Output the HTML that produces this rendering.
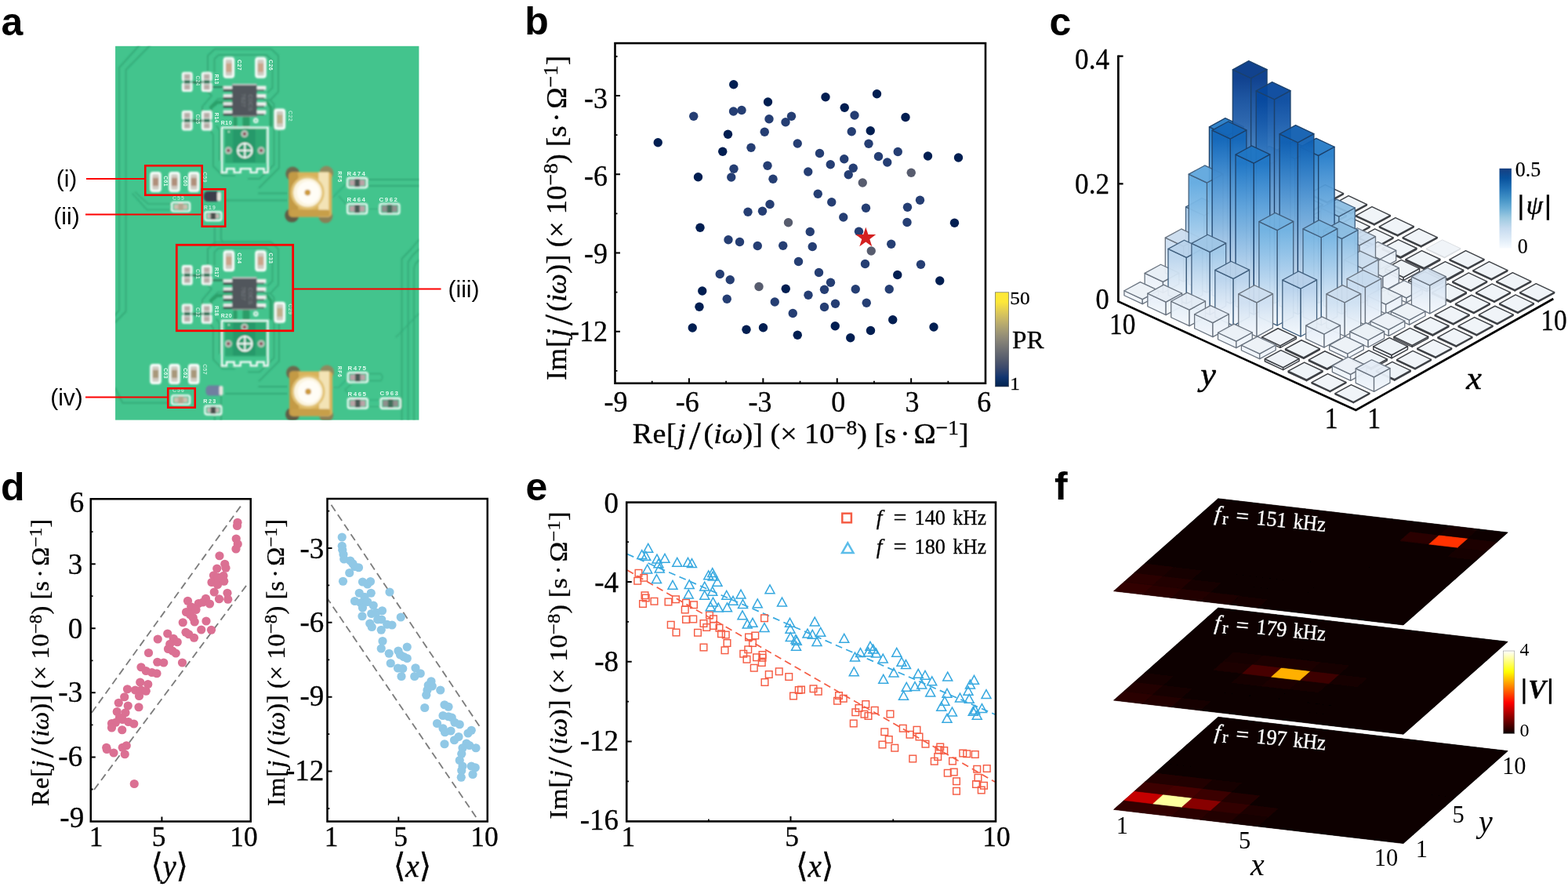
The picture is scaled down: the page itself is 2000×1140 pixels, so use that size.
<!DOCTYPE html>
<html lang="en"><head><meta charset="utf-8"><title>Figure</title><style>html,body{margin:0;padding:0;background:#fff}body{width:2000px;height:1140px;overflow:hidden}svg{display:block}</style></head><body>
<svg width="2000" height="1140" viewBox="0 0 2000 1140">
<rect width="2000" height="1140" fill="#fff"/>
<g id="panel-a">
<text x="1.5" y="44.6" font-family='"Liberation Sans", "DejaVu Sans", sans-serif' font-size="50" font-weight="bold">a</text>
<defs><filter id="pcbblur" x="-5%" y="-5%" width="110%" height="110%"><feGaussianBlur stdDeviation="0.8"/></filter><filter id="silkblur" x="-5%" y="-5%" width="110%" height="110%"><feGaussianBlur stdDeviation="0.6"/></filter><clipPath id="pcbclip"><rect x="147.1" y="58.8" width="387.3" height="476.8"/></clipPath></defs>
<rect x="147.1" y="58.8" width="387.3" height="476.8" fill="#43c48d"/>
<g clip-path="url(#pcbclip)"><g filter="url(#pcbblur)">
<path d="M177.5 58L151.9 86.3L151.9 396L140 409" fill="none" stroke="#34aa78" stroke-width="1.9" stroke-linejoin="round" stroke-linecap="round"/>
<path d="M191.3 58L160.6 88.8L160.6 397L147 411" fill="none" stroke="#34aa78" stroke-width="1.9" stroke-linejoin="round" stroke-linecap="round"/>
<path d="M147 495L156.3 513.8L214 513.8" fill="none" stroke="#34aa78" stroke-width="1.9" stroke-linejoin="round" stroke-linecap="round"/>
<path d="M172.5 245L188.8 260L219 260" fill="none" stroke="#34aa78" stroke-width="1.6" stroke-linejoin="round" stroke-linecap="round"/>
<path d="M169 247L187.5 267.5L219 267.5" fill="none" stroke="#34aa78" stroke-width="1.6" stroke-linejoin="round" stroke-linecap="round"/>
<path d="M273.8 290L273.8 314" fill="none" stroke="#34aa78" stroke-width="1.9" stroke-linejoin="round" stroke-linecap="round"/>
<path d="M281.9 290L281.9 305L284 308.5L345 308.5L352 314" fill="none" stroke="#34aa78" stroke-width="1.9" stroke-linejoin="round" stroke-linecap="round"/>
<path d="M534 306L524 318L512.5 330L512.5 536" fill="none" stroke="#34aa78" stroke-width="1.9" stroke-linejoin="round" stroke-linecap="round"/>
<path d="M534 318L526 326L520.6 334L520.6 536" fill="none" stroke="#34aa78" stroke-width="1.9" stroke-linejoin="round" stroke-linecap="round"/>
<path d="M534 332L530 336L528.1 342L528.1 536" fill="none" stroke="#34aa78" stroke-width="1.8" stroke-linejoin="round" stroke-linecap="round"/>
<path d="M534 400L505 430" fill="none" stroke="#34aa78" stroke-width="1.2" stroke-linejoin="round" stroke-linecap="round"/>
<path d="M288 255.5L366 255.5" fill="none" stroke="#34aa78" stroke-width="1.9" stroke-linejoin="round" stroke-linecap="round"/>
<path d="M330 246.5L366 246.5" fill="none" stroke="#34aa78" stroke-width="1.9" stroke-linejoin="round" stroke-linecap="round"/>
<path d="M470 229L534 229" fill="none" stroke="#34aa78" stroke-width="1.9" stroke-linejoin="round" stroke-linecap="round"/>
<path d="M470 237L534 237" fill="none" stroke="#34aa78" stroke-width="1.9" stroke-linejoin="round" stroke-linecap="round"/>
<path d="M424 252L438 238L443 233" fill="none" stroke="#34aa78" stroke-width="1.2" stroke-linejoin="round" stroke-linecap="round"/>
<path d="M432 250L443 262L443 266" fill="none" stroke="#34aa78" stroke-width="1.2" stroke-linejoin="round" stroke-linecap="round"/>
<path d="M468 266.5L484 266.5" fill="none" stroke="#34aa78" stroke-width="1.2" stroke-linejoin="round" stroke-linecap="round"/>
<path d="M288 502L366 502" fill="none" stroke="#34aa78" stroke-width="1.9" stroke-linejoin="round" stroke-linecap="round"/>
<path d="M330 493L366 493" fill="none" stroke="#34aa78" stroke-width="1.9" stroke-linejoin="round" stroke-linecap="round"/>
<path d="M470 476.5L486 476.5L488 481L486 485.5L470 485.5" fill="none" stroke="#34aa78" stroke-width="1.3" stroke-linejoin="round" stroke-linecap="round"/>
<path d="M424 494L432 494L444 482" fill="none" stroke="#34aa78" stroke-width="1.2" stroke-linejoin="round" stroke-linecap="round"/>
<path d="M448 490L440 497L452 510" fill="none" stroke="#34aa78" stroke-width="1.2" stroke-linejoin="round" stroke-linecap="round"/>
<path d="M470 510L486 510" fill="none" stroke="#34aa78" stroke-width="1.2" stroke-linejoin="round" stroke-linecap="round"/>
<path d="M470 518.5L486 518.5" fill="none" stroke="#34aa78" stroke-width="1.2" stroke-linejoin="round" stroke-linecap="round"/>
<path d="M273.8 528L273.8 536" fill="none" stroke="#34aa78" stroke-width="1.9" stroke-linejoin="round" stroke-linecap="round"/>
<path d="M281.9 505L281.9 536" fill="none" stroke="#34aa78" stroke-width="1.9" stroke-linejoin="round" stroke-linecap="round"/>
<path d="M265 92L265 71L274 62.5L346 62.5L355 71L355 117L345 127.5L336 127.5" fill="none" stroke="#34aa78" stroke-width="1.9" stroke-linejoin="round"/><path d="M273.5 92L273.5 75L279 70L340 70L347.5 77.5L347.5 112L341 118.5" fill="none" stroke="#34aa78" stroke-width="1.9" stroke-linejoin="round"/><path d="M264 116L270 122L258 136L258 142" fill="none" stroke="#34aa78" stroke-width="1.9" stroke-linejoin="round"/><path d="M270 142L270 134L278 126L290 126" fill="none" stroke="#34aa78" stroke-width="1.9" stroke-linejoin="round"/><path d="M345 128L349.5 133L349.5 210L331 228L316 228" fill="none" stroke="#34aa78" stroke-width="1.9" stroke-linejoin="round"/><path d="M356 164L356 214L336 234L330 240" fill="none" stroke="#34aa78" stroke-width="1.9" stroke-linejoin="round"/><path d="M268 166L272 172L272 212L284 224L300 224" fill="none" stroke="#34aa78" stroke-width="1.9" stroke-linejoin="round"/><path d="M276 160L280 166L280 205" fill="none" stroke="#34aa78" stroke-width="1.9" stroke-linejoin="round"/><path d="M269 137L277 130.5L296 130.5" fill="none" stroke="#2ba069" stroke-width="4.2" stroke-linejoin="round" stroke-linecap="round"/><path d="M341 131L345.5 137L345.5 160" fill="none" stroke="#2ba069" stroke-width="3.6" stroke-linejoin="round" stroke-linecap="round"/><path d="M300 151L300 160" fill="none" stroke="#2a9d67" stroke-width="5" stroke-linejoin="round" stroke-linecap="round"/><path d="M314 151L314 160" fill="none" stroke="#2a9d67" stroke-width="9" stroke-linejoin="round" stroke-linecap="round"/><path d="M262 111L286 111" fill="none" stroke="#2c7f5a" stroke-width="2.2" stroke-linejoin="round" stroke-linecap="round"/><path d="M246 105L258 105" fill="none" stroke="#2c6f52" stroke-width="2.4" stroke-linejoin="round" stroke-linecap="round"/><path d="M246 154L258 154" fill="none" stroke="#2c6f52" stroke-width="2.4" stroke-linejoin="round" stroke-linecap="round"/><rect x="285.65" y="73.75" width="12.5" height="25" rx="3" fill="#e4f6ec" stroke="#ffffff" stroke-width="2"/><rect x="287.85" y="76.25" width="8.1" height="20" rx="1.5" fill="#cfc8c0"/><rect x="288.25" y="80.75" width="7.3" height="11" fill="#c9a48a"/><rect x="326.25" y="73.75" width="12.5" height="25" rx="3" fill="#e4f6ec" stroke="#ffffff" stroke-width="2"/><rect x="328.45" y="76.25" width="8.1" height="20" rx="1.5" fill="#cfc8c0"/><rect x="328.85" y="80.75" width="7.3" height="11" fill="#c9a48a"/><rect x="350.65" y="139.4" width="12.5" height="25" rx="3" fill="#e4f6ec" stroke="#ffffff" stroke-width="2"/><rect x="352.85" y="141.9" width="8.1" height="20" rx="1.5" fill="#cfc8c0"/><rect x="353.25" y="146.4" width="7.3" height="11" fill="#bfae8a"/><rect x="232.75" y="92.6" width="12" height="10.4" rx="2.2" fill="#dde6df" stroke="#ffffff" stroke-width="1.8"/><rect x="235.35" y="94.8" width="6.8" height="6" fill="#b7aaa6"/><rect x="232.75" y="105.8" width="12" height="10.4" rx="2.2" fill="#dde6df" stroke="#ffffff" stroke-width="1.8"/><rect x="235.35" y="108" width="6.8" height="6" fill="#b7aaa6"/><rect x="234.75" y="102.2" width="8" height="4.4" fill="#2f6f55"/><rect x="257.75" y="92.6" width="12" height="10.4" rx="2.2" fill="#dde6df" stroke="#ffffff" stroke-width="1.8"/><rect x="260.35" y="94.8" width="6.8" height="6" fill="#b7aaa6"/><rect x="257.75" y="105.8" width="12" height="10.4" rx="2.2" fill="#dde6df" stroke="#ffffff" stroke-width="1.8"/><rect x="260.35" y="108" width="6.8" height="6" fill="#b7aaa6"/><rect x="259.75" y="102.2" width="8" height="4.4" fill="#2f6f55"/><rect x="232.75" y="141.95" width="12" height="10.4" rx="2.2" fill="#dde6df" stroke="#ffffff" stroke-width="1.8"/><rect x="235.35" y="144.15" width="6.8" height="6" fill="#b7aaa6"/><rect x="232.75" y="155.15" width="12" height="10.4" rx="2.2" fill="#dde6df" stroke="#ffffff" stroke-width="1.8"/><rect x="235.35" y="157.35" width="6.8" height="6" fill="#b7aaa6"/><rect x="234.75" y="151.55" width="8" height="4.4" fill="#2f6f55"/><rect x="257.75" y="141.95" width="12" height="10.4" rx="2.2" fill="#dde6df" stroke="#ffffff" stroke-width="1.8"/><rect x="260.35" y="144.15" width="6.8" height="6" fill="#b7aaa6"/><rect x="257.75" y="155.15" width="12" height="10.4" rx="2.2" fill="#dde6df" stroke="#ffffff" stroke-width="1.8"/><rect x="260.35" y="157.35" width="6.8" height="6" fill="#b7aaa6"/><rect x="259.75" y="151.55" width="8" height="4.4" fill="#2f6f55"/><rect x="284.75" y="109.5" width="12" height="5.2" fill="#e6e8e6"/><rect x="284.75" y="113.7" width="12" height="2.6" fill="#3a3d3c"/><rect x="327.05" y="109.5" width="12.4" height="5.2" fill="#f0f1ef"/><rect x="327.05" y="113.9" width="10" height="2" fill="#5a6660"/><rect x="284.75" y="119.9" width="12" height="5.2" fill="#e6e8e6"/><rect x="284.75" y="124.1" width="12" height="2.6" fill="#3a3d3c"/><rect x="327.05" y="119.9" width="12.4" height="5.2" fill="#f0f1ef"/><rect x="327.05" y="124.3" width="10" height="2" fill="#5a6660"/><rect x="284.75" y="130.3" width="12" height="5.2" fill="#e6e8e6"/><rect x="284.75" y="134.5" width="12" height="2.6" fill="#3a3d3c"/><rect x="327.05" y="130.3" width="12.4" height="5.2" fill="#f0f1ef"/><rect x="327.05" y="134.7" width="10" height="2" fill="#5a6660"/><rect x="284.75" y="140.5" width="12" height="5.2" fill="#e6e8e6"/><rect x="284.75" y="144.7" width="12" height="2.6" fill="#3a3d3c"/><rect x="327.05" y="140.5" width="12.4" height="5.2" fill="#f0f1ef"/><rect x="327.05" y="144.9" width="10" height="2" fill="#5a6660"/><rect x="296.25" y="106.9" width="31.3" height="41.8" fill="#51565b"/><rect x="296.25" y="106.9" width="31.3" height="1.6" fill="#d8dcd9"/><rect x="296.25" y="147.5" width="31.3" height="1.2" fill="#9aa5a0"/><text x="308.25" y="127.9" font-family='"Liberation Sans", "DejaVu Sans", sans-serif' font-size="8" fill="#7d8288" text-anchor="middle" transform="rotate(90 308.25 127.9)">7627</text><text x="317.25" y="130.9" font-family='"Liberation Sans", "DejaVu Sans", sans-serif' font-size="8" fill="#7d8288" text-anchor="middle" transform="rotate(90 317.25 130.9)">C0CS</text><rect x="287.1" y="164.5" width="52.1" height="43.5" fill="#2fa873"/><rect x="297.1" y="164.5" width="28.6" height="42.5" fill="#27996a"/><path d="M283.1 220V162.5H341.7V220H336.7V215.2H327.7V220H319.7V215.2H306.7V220H298.7V215.2H289.1V220Z" fill="none" stroke="#ffffff" stroke-width="2.2"/><circle cx="291.3" cy="191.9" r="4.6" fill="#b8c8bd"/><circle cx="291.3" cy="191.9" r="2.2" fill="#8a4a55"/><circle cx="333.1" cy="191.9" r="4.6" fill="#b8c8bd"/><circle cx="333.1" cy="191.9" r="2.2" fill="#8a4a55"/><circle cx="311.9" cy="170.7" r="4.6" fill="#b8c8bd"/><circle cx="311.9" cy="170.7" r="2.2" fill="#8a4a55"/><circle cx="312.3" cy="191.9" r="9.2" fill="none" stroke="#ffffff" stroke-width="2"/><path d="M303.3 191.9h18M312.3 182.9v18" stroke="#ffffff" stroke-width="1.9" fill="none"/><circle cx="291.9" cy="167.9" r="1" fill="#eafff5"/><circle cx="326.3" cy="153.8" r="2.3" fill="none" stroke="#ffffff" stroke-width="1.8"/>
<path d="M265 338.4L265 317.4L274 308.9L346 308.9L355 317.4L355 363.4L345 373.9L336 373.9" fill="none" stroke="#34aa78" stroke-width="1.9" stroke-linejoin="round"/><path d="M273.5 338.4L273.5 321.4L279 316.4L340 316.4L347.5 323.9L347.5 358.4L341 364.9" fill="none" stroke="#34aa78" stroke-width="1.9" stroke-linejoin="round"/><path d="M264 362.4L270 368.4L258 382.4L258 388.4" fill="none" stroke="#34aa78" stroke-width="1.9" stroke-linejoin="round"/><path d="M270 388.4L270 380.4L278 372.4L290 372.4" fill="none" stroke="#34aa78" stroke-width="1.9" stroke-linejoin="round"/><path d="M345 374.4L349.5 379.4L349.5 456.4L331 474.4L316 474.4" fill="none" stroke="#34aa78" stroke-width="1.9" stroke-linejoin="round"/><path d="M356 410.4L356 460.4L336 480.4L330 486.4" fill="none" stroke="#34aa78" stroke-width="1.9" stroke-linejoin="round"/><path d="M268 412.4L272 418.4L272 458.4L284 470.4L300 470.4" fill="none" stroke="#34aa78" stroke-width="1.9" stroke-linejoin="round"/><path d="M276 406.4L280 412.4L280 451.4" fill="none" stroke="#34aa78" stroke-width="1.9" stroke-linejoin="round"/><path d="M269 383.4L277 376.9L296 376.9" fill="none" stroke="#2ba069" stroke-width="4.2" stroke-linejoin="round" stroke-linecap="round"/><path d="M341 377.4L345.5 383.4L345.5 406.4" fill="none" stroke="#2ba069" stroke-width="3.6" stroke-linejoin="round" stroke-linecap="round"/><path d="M300 397.4L300 406.4" fill="none" stroke="#2a9d67" stroke-width="5" stroke-linejoin="round" stroke-linecap="round"/><path d="M314 397.4L314 406.4" fill="none" stroke="#2a9d67" stroke-width="9" stroke-linejoin="round" stroke-linecap="round"/><path d="M262 357.4L286 357.4" fill="none" stroke="#2c7f5a" stroke-width="2.2" stroke-linejoin="round" stroke-linecap="round"/><path d="M246 351.4L258 351.4" fill="none" stroke="#2c6f52" stroke-width="2.4" stroke-linejoin="round" stroke-linecap="round"/><path d="M246 400.4L258 400.4" fill="none" stroke="#2c6f52" stroke-width="2.4" stroke-linejoin="round" stroke-linecap="round"/><rect x="285.65" y="320.15" width="12.5" height="25" rx="3" fill="#e4f6ec" stroke="#ffffff" stroke-width="2"/><rect x="287.85" y="322.65" width="8.1" height="20" rx="1.5" fill="#cfc8c0"/><rect x="288.25" y="327.15" width="7.3" height="11" fill="#c9a48a"/><rect x="326.25" y="320.15" width="12.5" height="25" rx="3" fill="#e4f6ec" stroke="#ffffff" stroke-width="2"/><rect x="328.45" y="322.65" width="8.1" height="20" rx="1.5" fill="#cfc8c0"/><rect x="328.85" y="327.15" width="7.3" height="11" fill="#c9a48a"/><rect x="350.65" y="385.8" width="12.5" height="25" rx="3" fill="#e4f6ec" stroke="#ffffff" stroke-width="2"/><rect x="352.85" y="388.3" width="8.1" height="20" rx="1.5" fill="#cfc8c0"/><rect x="353.25" y="392.8" width="7.3" height="11" fill="#bfae8a"/><rect x="232.75" y="339" width="12" height="10.4" rx="2.2" fill="#dde6df" stroke="#ffffff" stroke-width="1.8"/><rect x="235.35" y="341.2" width="6.8" height="6" fill="#b7aaa6"/><rect x="232.75" y="352.2" width="12" height="10.4" rx="2.2" fill="#dde6df" stroke="#ffffff" stroke-width="1.8"/><rect x="235.35" y="354.4" width="6.8" height="6" fill="#b7aaa6"/><rect x="234.75" y="348.6" width="8" height="4.4" fill="#2f6f55"/><rect x="257.75" y="339" width="12" height="10.4" rx="2.2" fill="#dde6df" stroke="#ffffff" stroke-width="1.8"/><rect x="260.35" y="341.2" width="6.8" height="6" fill="#b7aaa6"/><rect x="257.75" y="352.2" width="12" height="10.4" rx="2.2" fill="#dde6df" stroke="#ffffff" stroke-width="1.8"/><rect x="260.35" y="354.4" width="6.8" height="6" fill="#b7aaa6"/><rect x="259.75" y="348.6" width="8" height="4.4" fill="#2f6f55"/><rect x="232.75" y="388.35" width="12" height="10.4" rx="2.2" fill="#dde6df" stroke="#ffffff" stroke-width="1.8"/><rect x="235.35" y="390.55" width="6.8" height="6" fill="#b7aaa6"/><rect x="232.75" y="401.55" width="12" height="10.4" rx="2.2" fill="#dde6df" stroke="#ffffff" stroke-width="1.8"/><rect x="235.35" y="403.75" width="6.8" height="6" fill="#b7aaa6"/><rect x="234.75" y="397.95" width="8" height="4.4" fill="#2f6f55"/><rect x="257.75" y="388.35" width="12" height="10.4" rx="2.2" fill="#dde6df" stroke="#ffffff" stroke-width="1.8"/><rect x="260.35" y="390.55" width="6.8" height="6" fill="#b7aaa6"/><rect x="257.75" y="401.55" width="12" height="10.4" rx="2.2" fill="#dde6df" stroke="#ffffff" stroke-width="1.8"/><rect x="260.35" y="403.75" width="6.8" height="6" fill="#b7aaa6"/><rect x="259.75" y="397.95" width="8" height="4.4" fill="#2f6f55"/><rect x="284.75" y="355.9" width="12" height="5.2" fill="#e6e8e6"/><rect x="284.75" y="360.1" width="12" height="2.6" fill="#3a3d3c"/><rect x="327.05" y="355.9" width="12.4" height="5.2" fill="#f0f1ef"/><rect x="327.05" y="360.3" width="10" height="2" fill="#5a6660"/><rect x="284.75" y="366.3" width="12" height="5.2" fill="#e6e8e6"/><rect x="284.75" y="370.5" width="12" height="2.6" fill="#3a3d3c"/><rect x="327.05" y="366.3" width="12.4" height="5.2" fill="#f0f1ef"/><rect x="327.05" y="370.7" width="10" height="2" fill="#5a6660"/><rect x="284.75" y="376.7" width="12" height="5.2" fill="#e6e8e6"/><rect x="284.75" y="380.9" width="12" height="2.6" fill="#3a3d3c"/><rect x="327.05" y="376.7" width="12.4" height="5.2" fill="#f0f1ef"/><rect x="327.05" y="381.1" width="10" height="2" fill="#5a6660"/><rect x="284.75" y="386.9" width="12" height="5.2" fill="#e6e8e6"/><rect x="284.75" y="391.1" width="12" height="2.6" fill="#3a3d3c"/><rect x="327.05" y="386.9" width="12.4" height="5.2" fill="#f0f1ef"/><rect x="327.05" y="391.3" width="10" height="2" fill="#5a6660"/><rect x="296.25" y="353.3" width="31.3" height="41.8" fill="#51565b"/><rect x="296.25" y="353.3" width="31.3" height="1.6" fill="#d8dcd9"/><rect x="296.25" y="393.9" width="31.3" height="1.2" fill="#9aa5a0"/><text x="308.25" y="374.3" font-family='"Liberation Sans", "DejaVu Sans", sans-serif' font-size="8" fill="#7d8288" text-anchor="middle" transform="rotate(90 308.25 374.3)">7627</text><text x="317.25" y="377.3" font-family='"Liberation Sans", "DejaVu Sans", sans-serif' font-size="8" fill="#7d8288" text-anchor="middle" transform="rotate(90 317.25 377.3)">C0CS</text><rect x="287.1" y="410.9" width="52.1" height="43.5" fill="#2fa873"/><rect x="297.1" y="410.9" width="28.6" height="42.5" fill="#27996a"/><path d="M283.1 466.4V408.9H341.7V466.4H336.7V461.6H327.7V466.4H319.7V461.6H306.7V466.4H298.7V461.6H289.1V466.4Z" fill="none" stroke="#ffffff" stroke-width="2.2"/><circle cx="291.3" cy="438.3" r="4.6" fill="#b8c8bd"/><circle cx="291.3" cy="438.3" r="2.2" fill="#8a4a55"/><circle cx="333.1" cy="438.3" r="4.6" fill="#b8c8bd"/><circle cx="333.1" cy="438.3" r="2.2" fill="#8a4a55"/><circle cx="311.9" cy="417.1" r="4.6" fill="#b8c8bd"/><circle cx="311.9" cy="417.1" r="2.2" fill="#8a4a55"/><circle cx="312.3" cy="438.3" r="9.2" fill="none" stroke="#ffffff" stroke-width="2"/><path d="M303.3 438.3h18M312.3 429.3v18" stroke="#ffffff" stroke-width="1.9" fill="none"/><circle cx="291.9" cy="414.3" r="1" fill="#eafff5"/><circle cx="326.3" cy="400.2" r="2.3" fill="none" stroke="#ffffff" stroke-width="1.8"/>
<rect x="192.25" y="219.9" width="12.5" height="24" rx="3" fill="#e4f6ec" stroke="#ffffff" stroke-width="2"/><rect x="194.45" y="222.4" width="8.1" height="19" rx="1.5" fill="#cfc8c0"/><rect x="194.85" y="226.9" width="7.3" height="10" fill="#b08f7a"/>
<rect x="216.25" y="219.9" width="12.5" height="24" rx="3" fill="#e4f6ec" stroke="#ffffff" stroke-width="2"/><rect x="218.45" y="222.4" width="8.1" height="19" rx="1.5" fill="#cfc8c0"/><rect x="218.85" y="226.9" width="7.3" height="10" fill="#b08f7a"/>
<rect x="241" y="219.9" width="12.5" height="24" rx="3" fill="#e4f6ec" stroke="#ffffff" stroke-width="2"/><rect x="243.2" y="222.4" width="8.1" height="19" rx="1.5" fill="#cfc8c0"/><rect x="243.6" y="226.9" width="7.3" height="10" fill="#b08f7a"/>
<rect x="192.25" y="464.9" width="12.5" height="24" rx="3" fill="#e4f6ec" stroke="#ffffff" stroke-width="2"/><rect x="194.45" y="467.4" width="8.1" height="19" rx="1.5" fill="#cfc8c0"/><rect x="194.85" y="471.9" width="7.3" height="10" fill="#a8987a"/>
<rect x="216.25" y="464.9" width="12.5" height="24" rx="3" fill="#e4f6ec" stroke="#ffffff" stroke-width="2"/><rect x="218.45" y="467.4" width="8.1" height="19" rx="1.5" fill="#cfc8c0"/><rect x="218.85" y="471.9" width="7.3" height="10" fill="#a8987a"/>
<rect x="241" y="464.9" width="12.5" height="24" rx="3" fill="#e4f6ec" stroke="#ffffff" stroke-width="2"/><rect x="243.2" y="467.4" width="8.1" height="19" rx="1.5" fill="#cfc8c0"/><rect x="243.6" y="471.9" width="7.3" height="10" fill="#a8987a"/>
<rect x="219.1" y="258" width="23" height="11.5" rx="2.5" fill="none" stroke="#ffffff" stroke-width="2.1"/><rect x="221.6" y="260.3" width="18" height="6.9" fill="#cdbfb0"/><rect x="227.4" y="259" width="6.4" height="9.5" fill="#b5a68f"/>
<rect x="219.1" y="504.25" width="23" height="11.5" rx="2.5" fill="none" stroke="#ffffff" stroke-width="2.1"/><rect x="221.6" y="506.55" width="18" height="6.9" fill="#cdbfb0"/><rect x="227.4" y="505.25" width="6.4" height="9.5" fill="#b5a68f"/>
<rect x="260" y="244.1" width="21" height="13" rx="5" fill="#3b3d4c"/><rect x="277" y="244.6" width="5" height="12" rx="2" fill="#e8e6e0"/>
<rect x="262.5" y="491.6" width="21" height="13" rx="5" fill="#6f7fa0"/><rect x="279.5" y="492.1" width="5" height="12" rx="2" fill="#e8e6e0"/>
<rect x="261.4" y="270.1" width="21" height="11" rx="2.5" fill="none" stroke="#ffffff" stroke-width="2.1"/><rect x="263.9" y="272.4" width="16" height="6.4" fill="#c5b8b4"/><rect x="268.7" y="271.1" width="6.4" height="9" fill="#46504c"/>
<rect x="261.4" y="517.6" width="21" height="11" rx="2.5" fill="none" stroke="#ffffff" stroke-width="2.1"/><rect x="263.9" y="519.9" width="16" height="6.4" fill="#c5b8b4"/><rect x="268.7" y="518.6" width="6.4" height="9" fill="#46504c"/>
<circle cx="373.3" cy="221.6" r="9" fill="#6b6a4e"/><circle cx="416.3" cy="220.6" r="9" fill="#8f8a5e"/><circle cx="372.3" cy="274.6" r="9" fill="#5e5b45"/><circle cx="415.3" cy="275.6" r="9" fill="#8a7f55"/><rect x="368.3" y="219.6" width="55" height="57" rx="5" fill="#d9b35c"/><rect x="368.3" y="219.6" width="12" height="57" rx="4" fill="#c39a45"/><rect x="406.3" y="219.6" width="13" height="57" fill="#f3e3b5"/><rect x="370.3" y="267.6" width="50" height="9" rx="3" fill="#c79f4a"/><circle cx="392.3" cy="245.6" r="21.5" fill="#e2c376"/><circle cx="392.3" cy="245.6" r="18.2" fill="#fbf4df"/><circle cx="393.3" cy="245.6" r="14.5" fill="#fffdf6"/><circle cx="392.3" cy="245.6" r="3.8" fill="#cd9a3a"/>
<circle cx="374.1" cy="475.4" r="9" fill="#6b6a4e"/><circle cx="417.1" cy="474.4" r="9" fill="#8f8a5e"/><circle cx="373.1" cy="528.4" r="9" fill="#5e5b45"/><circle cx="416.1" cy="529.4" r="9" fill="#8a7f55"/><rect x="369.1" y="473.4" width="55" height="57" rx="5" fill="#d9b35c"/><rect x="369.1" y="473.4" width="12" height="57" rx="4" fill="#c39a45"/><rect x="407.1" y="473.4" width="13" height="57" fill="#f3e3b5"/><rect x="371.1" y="521.4" width="50" height="9" rx="3" fill="#c79f4a"/><circle cx="393.1" cy="499.4" r="21.5" fill="#e2c376"/><circle cx="393.1" cy="499.4" r="18.2" fill="#fbf4df"/><circle cx="394.1" cy="499.4" r="14.5" fill="#fffdf6"/><circle cx="393.1" cy="499.4" r="3.8" fill="#cd9a3a"/>
<rect x="443.1" y="226.85" width="25" height="12.5" rx="2.5" fill="none" stroke="#ffffff" stroke-width="2.1"/><rect x="445.6" y="229.15" width="20" height="7.9" fill="#b9a3a6"/><rect x="452.4" y="227.85" width="6.4" height="10.5" fill="#4a5a55"/>
<rect x="443.1" y="260" width="25" height="12.5" rx="2.5" fill="none" stroke="#ffffff" stroke-width="2.1"/><rect x="445.6" y="262.3" width="20" height="7.9" fill="#b9a3a6"/><rect x="452.4" y="261" width="6.4" height="10.5" fill="#4a5a55"/>
<rect x="484.4" y="259.75" width="25" height="13" rx="2.5" fill="none" stroke="#ffffff" stroke-width="2.1"/><rect x="486.9" y="262.05" width="20" height="8.4" fill="#8f8f8c"/><rect x="493.7" y="260.75" width="6.4" height="11" fill="#3f6e5a"/>
<rect x="443.75" y="475" width="25" height="12.5" rx="2.5" fill="none" stroke="#ffffff" stroke-width="2.1"/><rect x="446.25" y="477.3" width="20" height="7.9" fill="#b9a3a6"/><rect x="453.05" y="476" width="6.4" height="10.5" fill="#4a5a55"/>
<rect x="443.75" y="508.15" width="25" height="12.5" rx="2.5" fill="none" stroke="#ffffff" stroke-width="2.1"/><rect x="446.25" y="510.45" width="20" height="7.9" fill="#b9a3a6"/><rect x="453.05" y="509.15" width="6.4" height="10.5" fill="#4a5a55"/>
<rect x="485.6" y="507.9" width="25" height="13" rx="2.5" fill="none" stroke="#ffffff" stroke-width="2.1"/><rect x="488.1" y="510.2" width="20" height="8.4" fill="#8f8f8c"/><rect x="494.9" y="508.9" width="6.4" height="11" fill="#3f6e5a"/>


































</g>
<g filter="url(#silkblur)"><text x="455" y="224" font-family='"Liberation Sans", "DejaVu Sans", sans-serif' font-size="7.8" font-weight="bold" fill="#eafff5" fill-opacity="0.95" text-anchor="middle" letter-spacing="1.6">R474</text><text x="455" y="257" font-family='"Liberation Sans", "DejaVu Sans", sans-serif' font-size="7.8" font-weight="bold" fill="#eafff5" fill-opacity="0.95" text-anchor="middle" letter-spacing="1.6">R464</text><text x="496" y="256.5" font-family='"Liberation Sans", "DejaVu Sans", sans-serif' font-size="7.8" font-weight="bold" fill="#eafff5" fill-opacity="0.95" text-anchor="middle" letter-spacing="1.6">C962</text><text x="456" y="471.5" font-family='"Liberation Sans", "DejaVu Sans", sans-serif' font-size="7.8" font-weight="bold" fill="#eafff5" fill-opacity="0.95" text-anchor="middle" letter-spacing="1.6">R475</text><text x="456" y="504.5" font-family='"Liberation Sans", "DejaVu Sans", sans-serif' font-size="7.8" font-weight="bold" fill="#eafff5" fill-opacity="0.95" text-anchor="middle" letter-spacing="1.6">R465</text><text x="497" y="504" font-family='"Liberation Sans", "DejaVu Sans", sans-serif' font-size="7.8" font-weight="bold" fill="#eafff5" fill-opacity="0.95" text-anchor="middle" letter-spacing="1.6">C963</text><text x="430.5" y="225.5" font-family='"Liberation Sans", "DejaVu Sans", sans-serif' font-size="6.5" font-weight="bold" fill="#eafff5" fill-opacity="0.95" text-anchor="middle" letter-spacing="0.8" transform="rotate(90 430.5 225.5)">RF5</text><text x="430.5" y="474" font-family='"Liberation Sans", "DejaVu Sans", sans-serif' font-size="6.5" font-weight="bold" fill="#eafff5" fill-opacity="0.95" text-anchor="middle" letter-spacing="0.8" transform="rotate(90 430.5 474)">RF6</text><text x="302.5" y="83" font-family='"Liberation Sans", "DejaVu Sans", sans-serif' font-size="7" font-weight="bold" fill="#eafff5" fill-opacity="0.95" text-anchor="middle" letter-spacing="0.4" transform="rotate(90 302.5 83)">C27</text><text x="343" y="83" font-family='"Liberation Sans", "DejaVu Sans", sans-serif' font-size="7" font-weight="bold" fill="#eafff5" fill-opacity="0.95" text-anchor="middle" letter-spacing="0.4" transform="rotate(90 343 83)">C26</text><text x="367.5" y="148" font-family='"Liberation Sans", "DejaVu Sans", sans-serif' font-size="7" font-weight="bold" fill="#eafff5" fill-opacity="0.6" text-anchor="middle" letter-spacing="0.4" transform="rotate(90 367.5 148)">C22</text><text x="273.5" y="101" font-family='"Liberation Sans", "DejaVu Sans", sans-serif' font-size="6.5" font-weight="bold" fill="#eafff5" fill-opacity="0.95" text-anchor="middle" letter-spacing="0.3" transform="rotate(90 273.5 101)">R13</text><text x="250" y="103" font-family='"Liberation Sans", "DejaVu Sans", sans-serif' font-size="6.5" font-weight="bold" fill="#eafff5" fill-opacity="0.7" text-anchor="middle" letter-spacing="0.3" transform="rotate(90 250 103)">C24</text><text x="273.5" y="150" font-family='"Liberation Sans", "DejaVu Sans", sans-serif' font-size="6.5" font-weight="bold" fill="#eafff5" fill-opacity="0.95" text-anchor="middle" letter-spacing="0.3" transform="rotate(90 273.5 150)">R14</text><text x="250" y="152" font-family='"Liberation Sans", "DejaVu Sans", sans-serif' font-size="6.5" font-weight="bold" fill="#eafff5" fill-opacity="0.7" text-anchor="middle" letter-spacing="0.3" transform="rotate(90 250 152)">C25</text><text x="289" y="158.5" font-family='"Liberation Sans", "DejaVu Sans", sans-serif' font-size="7" font-weight="bold" fill="#eafff5" fill-opacity="0.95" text-anchor="middle" letter-spacing="0.6">R10</text><text x="302.5" y="329.4" font-family='"Liberation Sans", "DejaVu Sans", sans-serif' font-size="7" font-weight="bold" fill="#eafff5" fill-opacity="0.95" text-anchor="middle" letter-spacing="0.4" transform="rotate(90 302.5 329.4)">C34</text><text x="343" y="329.4" font-family='"Liberation Sans", "DejaVu Sans", sans-serif' font-size="7" font-weight="bold" fill="#eafff5" fill-opacity="0.95" text-anchor="middle" letter-spacing="0.4" transform="rotate(90 343 329.4)">C33</text><text x="367.5" y="394.4" font-family='"Liberation Sans", "DejaVu Sans", sans-serif' font-size="7" font-weight="bold" fill="#eafff5" fill-opacity="0.6" text-anchor="middle" letter-spacing="0.4" transform="rotate(90 367.5 394.4)">C29</text><text x="273.5" y="347.4" font-family='"Liberation Sans", "DejaVu Sans", sans-serif' font-size="6.5" font-weight="bold" fill="#eafff5" fill-opacity="0.95" text-anchor="middle" letter-spacing="0.3" transform="rotate(90 273.5 347.4)">R17</text><text x="250" y="349.4" font-family='"Liberation Sans", "DejaVu Sans", sans-serif' font-size="6.5" font-weight="bold" fill="#eafff5" fill-opacity="0.7" text-anchor="middle" letter-spacing="0.3" transform="rotate(90 250 349.4)">C31</text><text x="273.5" y="396.4" font-family='"Liberation Sans", "DejaVu Sans", sans-serif' font-size="6.5" font-weight="bold" fill="#eafff5" fill-opacity="0.95" text-anchor="middle" letter-spacing="0.3" transform="rotate(90 273.5 396.4)">R18</text><text x="250" y="398.4" font-family='"Liberation Sans", "DejaVu Sans", sans-serif' font-size="6.5" font-weight="bold" fill="#eafff5" fill-opacity="0.7" text-anchor="middle" letter-spacing="0.3" transform="rotate(90 250 398.4)">C32</text><text x="289" y="404.9" font-family='"Liberation Sans", "DejaVu Sans", sans-serif' font-size="7" font-weight="bold" fill="#eafff5" fill-opacity="0.95" text-anchor="middle" letter-spacing="0.6">R20</text><text x="209" y="231" font-family='"Liberation Sans", "DejaVu Sans", sans-serif' font-size="6.8" font-weight="bold" fill="#eafff5" fill-opacity="0.95" text-anchor="middle" letter-spacing="0.4" transform="rotate(90 209 231)">C61</text><text x="233.5" y="231" font-family='"Liberation Sans", "DejaVu Sans", sans-serif' font-size="6.8" font-weight="bold" fill="#eafff5" fill-opacity="0.95" text-anchor="middle" letter-spacing="0.4" transform="rotate(90 233.5 231)">C60</text><text x="259" y="226" font-family='"Liberation Sans", "DejaVu Sans", sans-serif' font-size="6.8" font-weight="bold" fill="#eafff5" fill-opacity="0.7" text-anchor="middle" letter-spacing="0.4" transform="rotate(90 259 226)">C59</text><text x="228" y="254.5" font-family='"Liberation Sans", "DejaVu Sans", sans-serif' font-size="6.8" font-weight="bold" fill="#eafff5" fill-opacity="0.6" text-anchor="middle" letter-spacing="1.2">C55</text><text x="209" y="476" font-family='"Liberation Sans", "DejaVu Sans", sans-serif' font-size="6.8" font-weight="bold" fill="#eafff5" fill-opacity="0.95" text-anchor="middle" letter-spacing="0.4" transform="rotate(90 209 476)">C63</text><text x="233.5" y="476" font-family='"Liberation Sans", "DejaVu Sans", sans-serif' font-size="6.8" font-weight="bold" fill="#eafff5" fill-opacity="0.95" text-anchor="middle" letter-spacing="0.4" transform="rotate(90 233.5 476)">C62</text><text x="259" y="471" font-family='"Liberation Sans", "DejaVu Sans", sans-serif' font-size="6.8" font-weight="bold" fill="#eafff5" fill-opacity="0.7" text-anchor="middle" letter-spacing="0.4" transform="rotate(90 259 471)">C57</text><text x="228" y="499.5" font-family='"Liberation Sans", "DejaVu Sans", sans-serif' font-size="6.8" font-weight="bold" fill="#eafff5" fill-opacity="0.6" text-anchor="middle" letter-spacing="1.2">C56</text><text x="268" y="266.8" font-family='"Liberation Sans", "DejaVu Sans", sans-serif' font-size="6.8" font-weight="bold" fill="#eafff5" fill-opacity="0.7" text-anchor="middle" letter-spacing="1.2">R19</text><text x="268" y="513.5" font-family='"Liberation Sans", "DejaVu Sans", sans-serif' font-size="7.2" font-weight="bold" fill="#eafff5" fill-opacity="0.95" text-anchor="middle" letter-spacing="1.4">R23</text></g>
</g>
<rect x="185.25" y="211.25" width="72.5" height="37.5" fill="none" stroke="#fe0000" stroke-width="2.6"/>
<rect x="257.75" y="241.25" width="29.5" height="47.5" fill="none" stroke="#fe0000" stroke-width="2.6"/>
<rect x="225.3" y="312.3" width="148.4" height="109.5" fill="none" stroke="#fe0000" stroke-width="2.75"/>
<rect x="214.25" y="495.25" width="34.5" height="24.4" fill="none" stroke="#fe0000" stroke-width="2.6"/>
<line x1="110" y1="228.1" x2="184.2" y2="228.1" stroke="#fe0000" stroke-width="2" />
<line x1="109" y1="273.5" x2="256.5" y2="273.5" stroke="#fe0000" stroke-width="2" />
<line x1="374.8" y1="368.5" x2="562.5" y2="368.5" stroke="#fe0000" stroke-width="2" />
<line x1="109" y1="506.5" x2="213.2" y2="506.5" stroke="#fe0000" stroke-width="2" />
<text x="85" y="238" font-family='"Liberation Sans", "DejaVu Sans", sans-serif' font-size="30" text-anchor="middle">(i)</text>
<text x="85" y="285.5" font-family='"Liberation Sans", "DejaVu Sans", sans-serif' font-size="30" text-anchor="middle">(ii)</text>
<text x="591.5" y="379" font-family='"Liberation Sans", "DejaVu Sans", sans-serif' font-size="30" text-anchor="middle">(iii)</text>
<text x="85" y="517" font-family='"Liberation Sans", "DejaVu Sans", sans-serif' font-size="30" text-anchor="middle">(iv)</text>
</g>
<g id="panel-b">
<text x="669.3" y="44" font-family='"Liberation Sans", "DejaVu Sans", sans-serif' font-size="50" font-weight="bold">b</text>
<g>
<g fill="#011e51"><circle cx="839.25" cy="181.75" r="5.7"/><circle cx="890.5" cy="225.75" r="5.7"/><circle cx="935.75" cy="107.75" r="5.7"/><circle cx="928.5" cy="171.25" r="5.7"/><circle cx="921.75" cy="193.25" r="5.7"/><circle cx="979.5" cy="130" r="5.7"/><circle cx="1053" cy="123.75" r="5.7"/><circle cx="1077.25" cy="137.25" r="5.7"/><circle cx="1118.5" cy="119.75" r="5.7"/><circle cx="1110.25" cy="166.75" r="5.7"/><circle cx="1155" cy="149.5" r="5.7"/><circle cx="1183.5" cy="199" r="5.7"/><circle cx="1222.5" cy="201" r="5.7"/><circle cx="1217.5" cy="284.25" r="5.7"/><circle cx="893" cy="290.25" r="5.7"/><circle cx="1144.75" cy="350.5" r="5.7"/><circle cx="895.75" cy="371" r="5.7"/><circle cx="1002.25" cy="368.25" r="5.7"/><circle cx="892" cy="391.25" r="5.7"/><circle cx="1138.75" cy="407.75" r="5.7"/><circle cx="883.25" cy="418" r="5.7"/><circle cx="952" cy="420.25" r="5.7"/><circle cx="973.5" cy="417.75" r="5.7"/><circle cx="1017.25" cy="427.25" r="5.7"/><circle cx="1065.25" cy="415.75" r="5.7"/><circle cx="1084.75" cy="430.75" r="5.7"/><circle cx="1110.5" cy="421.5" r="5.7"/><circle cx="1198.75" cy="358" r="5.7"/><circle cx="1191" cy="417" r="5.7"/></g>
<g fill="#253e73"><circle cx="884.75" cy="148.25" r="5.7"/><circle cx="935.5" cy="142" r="5.7"/><circle cx="946" cy="140.5" r="5.7"/><circle cx="936" cy="215.25" r="5.7"/><circle cx="932.75" cy="226" r="5.7"/><circle cx="958" cy="188.25" r="5.7"/><circle cx="981" cy="151.75" r="5.7"/><circle cx="975.25" cy="168.25" r="5.7"/><circle cx="979" cy="211.25" r="5.7"/><circle cx="986" cy="228.25" r="5.7"/><circle cx="1002" cy="155.75" r="5.7"/><circle cx="1009.5" cy="148.25" r="5.7"/><circle cx="1017.25" cy="183" r="5.7"/><circle cx="1030.75" cy="219" r="5.7"/><circle cx="1045.5" cy="195.5" r="5.7"/><circle cx="1059.25" cy="209.75" r="5.7"/><circle cx="1090" cy="147" r="5.7"/><circle cx="1086.25" cy="167.75" r="5.7"/><circle cx="1076.75" cy="202.75" r="5.7"/><circle cx="1088.25" cy="214.25" r="5.7"/><circle cx="1082.25" cy="222.75" r="5.7"/><circle cx="1108" cy="183.25" r="5.7"/><circle cx="1120.5" cy="199.5" r="5.7"/><circle cx="1131.75" cy="207" r="5.7"/><circle cx="1145.25" cy="193.5" r="5.7"/><circle cx="1043.25" cy="247.25" r="5.7"/><circle cx="1060.75" cy="257.75" r="5.7"/><circle cx="982" cy="260.5" r="5.7"/><circle cx="972.5" cy="269.25" r="5.7"/><circle cx="954" cy="270.25" r="5.7"/><circle cx="1104.5" cy="265.25" r="5.7"/><circle cx="1075.75" cy="277" r="5.7"/><circle cx="1157.5" cy="264.25" r="5.7"/><circle cx="1173.5" cy="255.25" r="5.7"/><circle cx="1157" cy="283.5" r="5.7"/><circle cx="929" cy="305.75" r="5.7"/><circle cx="943.5" cy="308.5" r="5.7"/><circle cx="966.25" cy="313.5" r="5.7"/><circle cx="998.75" cy="313.25" r="5.7"/><circle cx="1033.25" cy="295.5" r="5.7"/><circle cx="1036.25" cy="314.5" r="5.7"/><circle cx="1095.5" cy="295.25" r="5.7"/><circle cx="1136.75" cy="311.25" r="5.7"/><circle cx="1018.5" cy="333.5" r="5.7"/><circle cx="1103.5" cy="336.5" r="5.7"/><circle cx="918.25" cy="349.5" r="5.7"/><circle cx="931.25" cy="356.75" r="5.7"/><circle cx="1044.5" cy="347.5" r="5.7"/><circle cx="1059.5" cy="360.25" r="5.7"/><circle cx="1051.5" cy="369.25" r="5.7"/><circle cx="1091.25" cy="368.75" r="5.7"/><circle cx="1134.25" cy="368.75" r="5.7"/><circle cx="927.25" cy="381.25" r="5.7"/><circle cx="1031" cy="376.25" r="5.7"/><circle cx="988.25" cy="385" r="5.7"/><circle cx="1051.5" cy="391.5" r="5.7"/><circle cx="1065.5" cy="387.25" r="5.7"/><circle cx="1105.25" cy="386.25" r="5.7"/><circle cx="1011.25" cy="399.5" r="5.7"/><circle cx="1174.5" cy="337.25" r="5.7"/></g>
<g fill="#575c6e"><circle cx="1100.25" cy="233" r="5.7"/><circle cx="1005.5" cy="283.75" r="5.7"/><circle cx="1162.25" cy="220.25" r="5.7"/><circle cx="1111.25" cy="320" r="5.7"/><circle cx="968" cy="365.5" r="5.7"/></g>
<polygon points="1104.3,289.7 1107.42,299.01 1117.23,299.1 1109.34,304.94 1112.29,314.3 1104.3,308.6 1096.31,314.3 1099.26,304.94 1091.37,299.1 1101.18,299.01" fill="#d42020"/>
</g>
<rect x="784.5" y="55.1" width="472.5" height="433.65" fill="none" stroke="#000" stroke-width="2.6"/>
<path d="M878.93 488.75v-6.5M973.34 488.75v-6.5M1067.75 488.75v-6.5M1162.16 488.75v-6.5" stroke="#000" stroke-width="2" fill="none"/>
<path d="M831.73 488.75v-3M926.13 488.75v-3M1020.54 488.75v-3M1114.95 488.75v-3M1209.37 488.75v-3" stroke="#000" stroke-width="1.8" fill="none"/>
<path d="M784.5 122.1h6.5M784.5 222.3h6.5M784.5 322.5h6.5M784.5 422.7h6.5" stroke="#000" stroke-width="2" fill="none"/>
<path d="M784.5 72h3M784.5 172.2h3M784.5 272.4h3M784.5 372.6h3M784.5 472.8h3" stroke="#000" stroke-width="1.8" fill="none"/>
<text transform="translate(785.6 525) scale(0.96 1)" font-family='"Liberation Serif", "DejaVu Serif", serif' font-size="37.5" text-anchor="middle" stroke="#000" stroke-width="0.3">-9</text>
<text transform="translate(876.8 525) scale(0.96 1)" font-family='"Liberation Serif", "DejaVu Serif", serif' font-size="37.5" text-anchor="middle" stroke="#000" stroke-width="0.3">-6</text>
<text transform="translate(969.5 525) scale(0.96 1)" font-family='"Liberation Serif", "DejaVu Serif", serif' font-size="37.5" text-anchor="middle" stroke="#000" stroke-width="0.3">-3</text>
<text transform="translate(1069.2 525) scale(0.96 1)" font-family='"Liberation Serif", "DejaVu Serif", serif' font-size="37.5" text-anchor="middle" stroke="#000" stroke-width="0.3">0</text>
<text transform="translate(1163.6 525) scale(0.96 1)" font-family='"Liberation Serif", "DejaVu Serif", serif' font-size="37.5" text-anchor="middle" stroke="#000" stroke-width="0.3">3</text>
<text transform="translate(1255.3 525) scale(0.96 1)" font-family='"Liberation Serif", "DejaVu Serif", serif' font-size="37.5" text-anchor="middle" stroke="#000" stroke-width="0.3">6</text>
<text transform="translate(775 138.1) scale(0.96 1)" font-family='"Liberation Serif", "DejaVu Serif", serif' font-size="37.5" text-anchor="end" stroke="#000" stroke-width="0.3">-3</text>
<text transform="translate(775 236.8) scale(0.96 1)" font-family='"Liberation Serif", "DejaVu Serif", serif' font-size="37.5" text-anchor="end" stroke="#000" stroke-width="0.3">-6</text>
<text transform="translate(775 335.5) scale(0.96 1)" font-family='"Liberation Serif", "DejaVu Serif", serif' font-size="37.5" text-anchor="end" stroke="#000" stroke-width="0.3">-9</text>
<text transform="translate(775 435.3) scale(0.96 1)" font-family='"Liberation Serif", "DejaVu Serif", serif' font-size="37.5" text-anchor="end" stroke="#000" stroke-width="0.3">-12</text>
<text x="1021.2" y="564.8" font-family='"Liberation Serif", "DejaVu Serif", serif' font-size="36" stroke="#000" stroke-width="0.35" text-anchor="middle" textLength="429" lengthAdjust="spacingAndGlyphs">R<tspan dx=".01em">e</tspan><tspan dx=".02em">[</tspan><tspan dx=".04em" font-style="italic">j</tspan><tspan dx=".08em" dy=".14em" font-size="138%">/</tspan><tspan dx=".1em" dy="-.193em">(</tspan><tspan font-style="italic">iω</tspan>)] (× 10<tspan dy="-0.42em" font-size="72%">−8</tspan><tspan dy="0.3em">) [s </tspan><tspan dx="-.12em">· </tspan><tspan dx="-.12em">Ω</tspan><tspan dy="-0.42em" font-size="72%">−1</tspan><tspan dy="0.3em">]</tspan></text>
<text x="0" y="0" font-family='"Liberation Serif", "DejaVu Serif", serif' font-size="36" stroke="#000" stroke-width="0.35" text-anchor="middle" textLength="414" lengthAdjust="spacingAndGlyphs" transform="translate(722 278) rotate(-90)">I<tspan dx=".01em">m</tspan><tspan dx=".02em">[</tspan><tspan dx=".04em" font-style="italic">j</tspan><tspan dx=".08em" dy=".14em" font-size="138%">/</tspan><tspan dx=".1em" dy="-.193em">(</tspan><tspan font-style="italic">iω</tspan>)] (× 10<tspan dy="-0.42em" font-size="72%">−8</tspan><tspan dy="0.3em">) [s </tspan><tspan dx="-.12em">· </tspan><tspan dx="-.12em">Ω</tspan><tspan dy="-0.42em" font-size="72%">−1</tspan><tspan dy="0.3em">]</tspan></text>
<defs><linearGradient id="cividis" x1="0" y1="1" x2="0" y2="0"><stop offset="0" stop-color="#00224e"/><stop offset="0.1" stop-color="#123570"/><stop offset="0.2" stop-color="#3b496c"/><stop offset="0.3" stop-color="#575d6d"/><stop offset="0.4" stop-color="#707173"/><stop offset="0.5" stop-color="#8a8678"/><stop offset="0.6" stop-color="#a59c74"/><stop offset="0.7" stop-color="#c3b369"/><stop offset="0.8" stop-color="#e1cc55"/><stop offset="0.9" stop-color="#fee838"/><stop offset="1" stop-color="#fee838"/></linearGradient></defs>
<rect x="1269.3" y="372.8" width="17.4" height="120.2" fill="url(#cividis)" stroke="#55595f" stroke-width="0.6"/>
<text transform="translate(1288.3 387.6) scale(1.08 1)" font-family='"Liberation Serif", "DejaVu Serif", serif' font-size="23.5" stroke="#000" stroke-width="0.25">50</text>
<text transform="translate(1288.3 497.2) scale(1.08 1)" font-family='"Liberation Serif", "DejaVu Serif", serif' font-size="23.5" stroke="#000" stroke-width="0.25">1</text>
<text transform="translate(1291 443.8) scale(1.04 1)" font-family='"Liberation Serif", "DejaVu Serif", serif' font-size="32" stroke="#000" stroke-width="0.25">PR</text>
</g>
<g id="panel-c">
<text x="1338.5" y="44.5" font-family='"Liberation Sans", "DejaVu Sans", sans-serif' font-size="50" font-weight="bold">c</text>
<defs><linearGradient id="cg6_10" gradientUnits="userSpaceOnUse" x1="0" y1="316.14" x2="0" y2="301.14"><stop offset="0" stop-color="#f3f7fc"/><stop offset="0.5" stop-color="#eef4fa"/><stop offset="1" stop-color="#eaf1f9"/></linearGradient><linearGradient id="cg7_9" gradientUnits="userSpaceOnUse" x1="0" y1="315.84" x2="0" y2="307.84"><stop offset="0" stop-color="#f3f7fc"/><stop offset="0.5" stop-color="#f1f5fb"/><stop offset="1" stop-color="#eef4fa"/></linearGradient><linearGradient id="cg5_10" gradientUnits="userSpaceOnUse" x1="0" y1="330.44" x2="0" y2="290.44"><stop offset="0" stop-color="#f3f7fc"/><stop offset="0.5" stop-color="#e5eef8"/><stop offset="1" stop-color="#d3e3f3"/></linearGradient><linearGradient id="cg6_9" gradientUnits="userSpaceOnUse" x1="0" y1="330.14" x2="0" y2="300.14"><stop offset="0" stop-color="#f3f7fc"/><stop offset="0.5" stop-color="#e9f0f9"/><stop offset="1" stop-color="#dde9f6"/></linearGradient><linearGradient id="cg7_8" gradientUnits="userSpaceOnUse" x1="0" y1="329.84" x2="0" y2="317.84"><stop offset="0" stop-color="#f3f7fc"/><stop offset="0.5" stop-color="#eff5fb"/><stop offset="1" stop-color="#ecf2fa"/></linearGradient><linearGradient id="cg4_10" gradientUnits="userSpaceOnUse" x1="0" y1="344.74" x2="0" y2="274.74"><stop offset="0" stop-color="#f3f7fc"/><stop offset="0.33" stop-color="#e0ebf7"/><stop offset="0.67" stop-color="#c8ddf1"/><stop offset="1" stop-color="#aeceeb"/></linearGradient><linearGradient id="cg5_9" gradientUnits="userSpaceOnUse" x1="0" y1="344.44" x2="0" y2="244.44"><stop offset="0" stop-color="#f3f7fc"/><stop offset="0.25" stop-color="#ddeaf6"/><stop offset="0.5" stop-color="#c2dbf0"/><stop offset="0.75" stop-color="#a5ccea"/><stop offset="1" stop-color="#88bee5"/></linearGradient><linearGradient id="cg6_8" gradientUnits="userSpaceOnUse" x1="0" y1="344.14" x2="0" y2="294.14"><stop offset="0" stop-color="#f3f7fc"/><stop offset="0.5" stop-color="#dfebf6"/><stop offset="1" stop-color="#c6dcf0"/></linearGradient><linearGradient id="cg7_7" gradientUnits="userSpaceOnUse" x1="0" y1="343.84" x2="0" y2="328.84"><stop offset="0" stop-color="#f3f7fc"/><stop offset="0.5" stop-color="#eef4fa"/><stop offset="1" stop-color="#eaf1f9"/></linearGradient><linearGradient id="cg8_6" gradientUnits="userSpaceOnUse" x1="0" y1="343.54" x2="0" y2="330.54"><stop offset="0" stop-color="#f3f7fc"/><stop offset="0.5" stop-color="#eff4fb"/><stop offset="1" stop-color="#ebf2f9"/></linearGradient><linearGradient id="cg3_10" gradientUnits="userSpaceOnUse" x1="0" y1="359.04" x2="0" y2="314.04"><stop offset="0" stop-color="#f3f7fc"/><stop offset="0.5" stop-color="#e2ecf7"/><stop offset="1" stop-color="#cddff2"/></linearGradient><linearGradient id="cg4_9" gradientUnits="userSpaceOnUse" x1="0" y1="358.74" x2="0" y2="172.74"><stop offset="0" stop-color="#f3f7fc"/><stop offset="0.14" stop-color="#dbe8f6"/><stop offset="0.29" stop-color="#bed7ee"/><stop offset="0.43" stop-color="#9ec6e8"/><stop offset="0.57" stop-color="#80b6e2"/><stop offset="0.71" stop-color="#64a7dd"/><stop offset="0.86" stop-color="#4693d4"/><stop offset="1" stop-color="#277eca"/></linearGradient><linearGradient id="cg5_8" gradientUnits="userSpaceOnUse" x1="0" y1="358.44" x2="0" y2="208.44"><stop offset="0" stop-color="#f3f7fc"/><stop offset="0.17" stop-color="#ddeaf7"/><stop offset="0.33" stop-color="#c2dbf1"/><stop offset="0.5" stop-color="#a5cceb"/><stop offset="0.67" stop-color="#88bde6"/><stop offset="0.83" stop-color="#6fb0e1"/><stop offset="1" stop-color="#54a0db"/></linearGradient><linearGradient id="cg6_7" gradientUnits="userSpaceOnUse" x1="0" y1="358.14" x2="0" y2="298.14"><stop offset="0" stop-color="#f3f7fc"/><stop offset="0.33" stop-color="#e4edf8"/><stop offset="0.67" stop-color="#d0e1f2"/><stop offset="1" stop-color="#bad4ed"/></linearGradient><linearGradient id="cg7_6" gradientUnits="userSpaceOnUse" x1="0" y1="357.84" x2="0" y2="312.84"><stop offset="0" stop-color="#f3f7fc"/><stop offset="0.5" stop-color="#e2ecf7"/><stop offset="1" stop-color="#cddff2"/></linearGradient><linearGradient id="cg2_10" gradientUnits="userSpaceOnUse" x1="0" y1="373.34" x2="0" y2="359.34"><stop offset="0" stop-color="#f3f7fc"/><stop offset="0.5" stop-color="#eff4fb"/><stop offset="1" stop-color="#ebf1f9"/></linearGradient><linearGradient id="cg3_9" gradientUnits="userSpaceOnUse" x1="0" y1="373.04" x2="0" y2="233.04"><stop offset="0" stop-color="#f3f7fc"/><stop offset="0.2" stop-color="#dae9f6"/><stop offset="0.4" stop-color="#bcd7f0"/><stop offset="0.6" stop-color="#9bc8ea"/><stop offset="0.8" stop-color="#7db8e5"/><stop offset="1" stop-color="#60a9e0"/></linearGradient><linearGradient id="cg4_8" gradientUnits="userSpaceOnUse" x1="0" y1="372.74" x2="0" y2="99.74"><stop offset="0" stop-color="#f3f7fc"/><stop offset="0.1" stop-color="#dde7f3"/><stop offset="0.2" stop-color="#c2d4ea"/><stop offset="0.3" stop-color="#a5c3e1"/><stop offset="0.4" stop-color="#89b2d9"/><stop offset="0.5" stop-color="#70a1d2"/><stop offset="0.6" stop-color="#538cc6"/><stop offset="0.7" stop-color="#3775b9"/><stop offset="0.8" stop-color="#225faa"/><stop offset="0.9" stop-color="#134e9d"/><stop offset="1" stop-color="#043889"/></linearGradient><linearGradient id="cg5_7" gradientUnits="userSpaceOnUse" x1="0" y1="372.44" x2="0" y2="202.44"><stop offset="0" stop-color="#f3f7fc"/><stop offset="0.17" stop-color="#d9e8f5"/><stop offset="0.33" stop-color="#bad5ee"/><stop offset="0.5" stop-color="#99c4e7"/><stop offset="0.67" stop-color="#79b4e2"/><stop offset="0.83" stop-color="#5ca3dc"/><stop offset="1" stop-color="#3b8dd2"/></linearGradient><linearGradient id="cg6_6" gradientUnits="userSpaceOnUse" x1="0" y1="372.14" x2="0" y2="276.14"><stop offset="0" stop-color="#f3f7fc"/><stop offset="0.25" stop-color="#deebf7"/><stop offset="0.5" stop-color="#c4dcf1"/><stop offset="0.75" stop-color="#a9ceeb"/><stop offset="1" stop-color="#8dc0e6"/></linearGradient><linearGradient id="cg7_5" gradientUnits="userSpaceOnUse" x1="0" y1="371.84" x2="0" y2="352.84"><stop offset="0" stop-color="#f3f7fc"/><stop offset="0.5" stop-color="#edf3fa"/><stop offset="1" stop-color="#e8eff8"/></linearGradient><linearGradient id="cg2_9" gradientUnits="userSpaceOnUse" x1="0" y1="387.34" x2="0" y2="328.34"><stop offset="0" stop-color="#f3f7fc"/><stop offset="0.5" stop-color="#dae8f5"/><stop offset="1" stop-color="#bbd5ed"/></linearGradient><linearGradient id="cg3_8" gradientUnits="userSpaceOnUse" x1="0" y1="387.04" x2="0" y2="177.04"><stop offset="0" stop-color="#f3f7fc"/><stop offset="0.12" stop-color="#dce8f5"/><stop offset="0.25" stop-color="#bfd6ed"/><stop offset="0.38" stop-color="#a1c5e6"/><stop offset="0.5" stop-color="#83b5df"/><stop offset="0.62" stop-color="#68a5da"/><stop offset="0.75" stop-color="#4b92d1"/><stop offset="0.88" stop-color="#2d7cc6"/><stop offset="1" stop-color="#1467b9"/></linearGradient><linearGradient id="cg4_7" gradientUnits="userSpaceOnUse" x1="0" y1="386.74" x2="0" y2="126.74"><stop offset="0" stop-color="#f3f7fc"/><stop offset="0.11" stop-color="#dbe7f4"/><stop offset="0.22" stop-color="#bed3ea"/><stop offset="0.33" stop-color="#9ec1e2"/><stop offset="0.44" stop-color="#81b0db"/><stop offset="0.56" stop-color="#659dd3"/><stop offset="0.67" stop-color="#4686c7"/><stop offset="0.78" stop-color="#2a6fb9"/><stop offset="0.89" stop-color="#175aab"/><stop offset="1" stop-color="#06489e"/></linearGradient><linearGradient id="cg5_6" gradientUnits="userSpaceOnUse" x1="0" y1="386.44" x2="0" y2="198.44"><stop offset="0" stop-color="#f3f7fc"/><stop offset="0.14" stop-color="#dbe8f5"/><stop offset="0.29" stop-color="#bdd6ee"/><stop offset="0.43" stop-color="#9dc5e8"/><stop offset="0.57" stop-color="#7fb5e1"/><stop offset="0.71" stop-color="#63a6dc"/><stop offset="0.86" stop-color="#4491d3"/><stop offset="1" stop-color="#247cc9"/></linearGradient><linearGradient id="cg6_5" gradientUnits="userSpaceOnUse" x1="0" y1="386.14" x2="0" y2="342.14"><stop offset="0" stop-color="#f3f7fc"/><stop offset="0.5" stop-color="#e3edf7"/><stop offset="1" stop-color="#cee0f2"/></linearGradient><linearGradient id="cg1_9" gradientUnits="userSpaceOnUse" x1="0" y1="401.64" x2="0" y2="385.14"><stop offset="0" stop-color="#f3f7fc"/><stop offset="0.5" stop-color="#eef4fa"/><stop offset="1" stop-color="#e9f0f9"/></linearGradient><linearGradient id="cg2_8" gradientUnits="userSpaceOnUse" x1="0" y1="401.34" x2="0" y2="321.34"><stop offset="0" stop-color="#f3f7fc"/><stop offset="0.33" stop-color="#dce9f6"/><stop offset="0.67" stop-color="#bfd9ef"/><stop offset="1" stop-color="#a1c9e9"/></linearGradient><linearGradient id="cg3_7" gradientUnits="userSpaceOnUse" x1="0" y1="401.04" x2="0" y2="208.04"><stop offset="0" stop-color="#f3f7fc"/><stop offset="0.14" stop-color="#dae8f5"/><stop offset="0.29" stop-color="#bbd5ed"/><stop offset="0.43" stop-color="#9bc4e7"/><stop offset="0.57" stop-color="#7cb3e0"/><stop offset="0.71" stop-color="#5fa3db"/><stop offset="0.86" stop-color="#3f8dd1"/><stop offset="1" stop-color="#2077c6"/></linearGradient><linearGradient id="cg4_6" gradientUnits="userSpaceOnUse" x1="0" y1="400.74" x2="0" y2="181.74"><stop offset="0" stop-color="#f3f7fc"/><stop offset="0.12" stop-color="#dbe7f5"/><stop offset="0.25" stop-color="#bdd5ec"/><stop offset="0.38" stop-color="#9ec3e5"/><stop offset="0.5" stop-color="#80b2de"/><stop offset="0.62" stop-color="#64a2d7"/><stop offset="0.75" stop-color="#458ccd"/><stop offset="0.88" stop-color="#2776c1"/><stop offset="1" stop-color="#1060b3"/></linearGradient><linearGradient id="cg5_5" gradientUnits="userSpaceOnUse" x1="0" y1="400.44" x2="0" y2="304.44"><stop offset="0" stop-color="#f3f7fc"/><stop offset="0.25" stop-color="#deebf7"/><stop offset="0.5" stop-color="#c4dcf1"/><stop offset="0.75" stop-color="#a9ceeb"/><stop offset="1" stop-color="#8dc0e6"/></linearGradient><linearGradient id="cg6_4" gradientUnits="userSpaceOnUse" x1="0" y1="400.14" x2="0" y2="388.14"><stop offset="0" stop-color="#f3f7fc"/><stop offset="0.5" stop-color="#eff5fb"/><stop offset="1" stop-color="#ecf2fa"/></linearGradient><linearGradient id="cg7_3" gradientUnits="userSpaceOnUse" x1="0" y1="399.84" x2="0" y2="363.84"><stop offset="0" stop-color="#f3f7fc"/><stop offset="0.5" stop-color="#e7eff8"/><stop offset="1" stop-color="#d7e5f4"/></linearGradient><linearGradient id="cg1_8" gradientUnits="userSpaceOnUse" x1="0" y1="415.64" x2="0" y2="395.14"><stop offset="0" stop-color="#f3f7fc"/><stop offset="0.5" stop-color="#edf3fa"/><stop offset="1" stop-color="#e6eff8"/></linearGradient><linearGradient id="cg2_7" gradientUnits="userSpaceOnUse" x1="0" y1="415.34" x2="0" y2="355.34"><stop offset="0" stop-color="#f3f7fc"/><stop offset="0.33" stop-color="#e4edf8"/><stop offset="0.67" stop-color="#d0e1f2"/><stop offset="1" stop-color="#bad4ed"/></linearGradient><linearGradient id="cg3_6" gradientUnits="userSpaceOnUse" x1="0" y1="415.04" x2="0" y2="293.54"><stop offset="0" stop-color="#f3f7fc"/><stop offset="0.2" stop-color="#deebf7"/><stop offset="0.4" stop-color="#c4dcf1"/><stop offset="0.6" stop-color="#a8cdec"/><stop offset="0.8" stop-color="#8cc0e7"/><stop offset="1" stop-color="#72b3e2"/></linearGradient><linearGradient id="cg4_5" gradientUnits="userSpaceOnUse" x1="0" y1="414.74" x2="0" y2="302.74"><stop offset="0" stop-color="#f3f7fc"/><stop offset="0.25" stop-color="#dae9f6"/><stop offset="0.5" stop-color="#bbd7ef"/><stop offset="0.75" stop-color="#9bc7e9"/><stop offset="1" stop-color="#7cb8e4"/></linearGradient><linearGradient id="cg5_4" gradientUnits="userSpaceOnUse" x1="0" y1="414.44" x2="0" y2="366.44"><stop offset="0" stop-color="#f3f7fc"/><stop offset="0.5" stop-color="#e0ebf7"/><stop offset="1" stop-color="#c9ddf1"/></linearGradient><linearGradient id="cg1_7" gradientUnits="userSpaceOnUse" x1="0" y1="429.64" x2="0" y2="411.64"><stop offset="0" stop-color="#f3f7fc"/><stop offset="0.5" stop-color="#eef3fa"/><stop offset="1" stop-color="#e8f0f8"/></linearGradient><linearGradient id="cg2_6" gradientUnits="userSpaceOnUse" x1="0" y1="429.34" x2="0" y2="385.84"><stop offset="0" stop-color="#f3f7fc"/><stop offset="0.5" stop-color="#e3edf7"/><stop offset="1" stop-color="#cfe0f2"/></linearGradient><linearGradient id="cg3_5" gradientUnits="userSpaceOnUse" x1="0" y1="429.04" x2="0" y2="368.04"><stop offset="0" stop-color="#f3f7fc"/><stop offset="0.33" stop-color="#e3edf7"/><stop offset="0.67" stop-color="#cfe1f2"/><stop offset="1" stop-color="#b9d3ed"/></linearGradient><linearGradient id="cg4_4" gradientUnits="userSpaceOnUse" x1="0" y1="428.74" x2="0" y2="385.74"><stop offset="0" stop-color="#f3f7fc"/><stop offset="0.5" stop-color="#e3edf7"/><stop offset="1" stop-color="#cfe1f2"/></linearGradient><linearGradient id="cg5_3" gradientUnits="userSpaceOnUse" x1="0" y1="428.44" x2="0" y2="420.44"><stop offset="0" stop-color="#f3f7fc"/><stop offset="0.5" stop-color="#f1f5fb"/><stop offset="1" stop-color="#eef4fa"/></linearGradient><linearGradient id="cg1_6" gradientUnits="userSpaceOnUse" x1="0" y1="443.64" x2="0" y2="435.14"><stop offset="0" stop-color="#f3f7fc"/><stop offset="0.5" stop-color="#f0f5fb"/><stop offset="1" stop-color="#eef4fa"/></linearGradient><linearGradient id="cg3_4" gradientUnits="userSpaceOnUse" x1="0" y1="443.04" x2="0" y2="426.04"><stop offset="0" stop-color="#f3f7fc"/><stop offset="0.5" stop-color="#eef4fa"/><stop offset="1" stop-color="#e9f0f9"/></linearGradient><linearGradient id="cg4_3" gradientUnits="userSpaceOnUse" x1="0" y1="442.74" x2="0" y2="433.74"><stop offset="0" stop-color="#f3f7fc"/><stop offset="0.5" stop-color="#f0f5fb"/><stop offset="1" stop-color="#eef3fa"/></linearGradient><linearGradient id="cg1_5" gradientUnits="userSpaceOnUse" x1="0" y1="457.64" x2="0" y2="451.14"><stop offset="0" stop-color="#f3f7fc"/><stop offset="0.5" stop-color="#f1f6fb"/><stop offset="1" stop-color="#eff4fb"/></linearGradient><linearGradient id="cg2_2" gradientUnits="userSpaceOnUse" x1="0" y1="485.34" x2="0" y2="477.34"><stop offset="0" stop-color="#f3f7fc"/><stop offset="0.5" stop-color="#f1f5fb"/><stop offset="1" stop-color="#eef4fa"/></linearGradient><linearGradient id="cg2_1" gradientUnits="userSpaceOnUse" x1="0" y1="499.34" x2="0" y2="480.84"><stop offset="0" stop-color="#f3f7fc"/><stop offset="0.5" stop-color="#edf3fa"/><stop offset="1" stop-color="#e8f0f8"/></linearGradient><linearGradient id="blues" x1="0" y1="1" x2="0" y2="0"><stop offset="0" stop-color="#f7fbff"/><stop offset="0.12" stop-color="#deebf7"/><stop offset="0.25" stop-color="#c6dbef"/><stop offset="0.38" stop-color="#9ecae1"/><stop offset="0.5" stop-color="#6baed6"/><stop offset="0.62" stop-color="#4292c6"/><stop offset="0.75" stop-color="#2171b5"/><stop offset="0.88" stop-color="#08519c"/><stop offset="1" stop-color="#173f80"/></linearGradient></defs>
<g stroke="#3d4045" stroke-width="1.45" stroke-linejoin="round" fill-opacity="0.95"><path d="M1669.72 246.82L1693.04 257.74V258.94L1669.72 248.02Z" fill="#f3f7fc"/><path d="M1693.04 257.74L1713.48 246.58V247.78L1693.04 258.94Z" fill="#f3f7fc"/><path d="M1669.72 246.82L1690.16 235.66L1713.48 246.58L1693.04 257.74Z" fill="#eff3f8"/></g>
<g stroke="#3d4045" stroke-width="1.45" stroke-linejoin="round" fill-opacity="0.95"><path d="M1643.52 261.12L1666.84 272.04V273.24L1643.52 262.32Z" fill="#f3f7fc"/><path d="M1666.84 272.04L1687.28 260.88V262.08L1666.84 273.24Z" fill="#f3f7fc"/><path d="M1643.52 261.12L1663.96 249.96L1687.28 260.88L1666.84 272.04Z" fill="#eff3f8"/></g>
<g stroke="#3d4045" stroke-width="1.45" stroke-linejoin="round" fill-opacity="0.95"><path d="M1699.62 260.82L1722.94 271.74V272.94L1699.62 262.02Z" fill="#f3f7fc"/><path d="M1722.94 271.74L1743.38 260.58V261.78L1722.94 272.94Z" fill="#f3f7fc"/><path d="M1699.62 260.82L1720.06 249.66L1743.38 260.58L1722.94 271.74Z" fill="#eff3f8"/></g>
<g stroke="#3d4045" stroke-width="1.45" stroke-linejoin="round" fill-opacity="0.95"><path d="M1617.32 275.42L1640.64 286.34V287.54L1617.32 276.62Z" fill="#f3f7fc"/><path d="M1640.64 286.34L1661.08 275.18V276.38L1640.64 287.54Z" fill="#f3f7fc"/><path d="M1617.32 275.42L1637.76 264.26L1661.08 275.18L1640.64 286.34Z" fill="#eff3f8"/></g>
<g stroke="#3d4045" stroke-width="1.45" stroke-linejoin="round" fill-opacity="0.95"><path d="M1673.42 275.12L1696.74 286.04V287.24L1673.42 276.32Z" fill="#f3f7fc"/><path d="M1696.74 286.04L1717.18 274.88V276.08L1696.74 287.24Z" fill="#f3f7fc"/><path d="M1673.42 275.12L1693.86 263.96L1717.18 274.88L1696.74 286.04Z" fill="#eff3f8"/></g>
<g stroke="#3d4045" stroke-width="1.45" stroke-linejoin="round" fill-opacity="0.95"><path d="M1729.52 274.82L1752.84 285.74V286.94L1729.52 276.02Z" fill="#f3f7fc"/><path d="M1752.84 285.74L1773.28 274.58V275.78L1752.84 286.94Z" fill="#f3f7fc"/><path d="M1729.52 274.82L1749.96 263.66L1773.28 274.58L1752.84 285.74Z" fill="#eff3f8"/></g>
<g stroke="#3d4045" stroke-width="1.45" stroke-linejoin="round" fill-opacity="0.95"><path d="M1591.12 286.92L1614.44 297.84V301.84L1591.12 290.92Z" fill="#f2f6fc"/><path d="M1614.44 297.84L1634.88 286.68V290.68L1614.44 301.84Z" fill="#f2f6fc"/><path d="M1591.12 286.92L1611.56 275.76L1634.88 286.68L1614.44 297.84Z" fill="#edf2f7"/></g>
<g stroke="#3d4045" stroke-width="1.45" stroke-linejoin="round" fill-opacity="0.95"><path d="M1647.22 289.42L1670.54 300.34V301.54L1647.22 290.62Z" fill="#f3f7fc"/><path d="M1670.54 300.34L1690.98 289.18V290.38L1670.54 301.54Z" fill="#f3f7fc"/><path d="M1647.22 289.42L1667.66 278.26L1690.98 289.18L1670.54 300.34Z" fill="#eff3f8"/></g>
<g stroke="#3d4045" stroke-width="1.45" stroke-linejoin="round" fill-opacity="0.95"><path d="M1703.32 289.12L1726.64 300.04V301.24L1703.32 290.32Z" fill="#f3f7fc"/><path d="M1726.64 300.04L1747.08 288.88V290.08L1726.64 301.24Z" fill="#f3f7fc"/><path d="M1703.32 289.12L1723.76 277.96L1747.08 288.88L1726.64 300.04Z" fill="#eff3f8"/></g>
<g stroke="#3d4045" stroke-width="1.45" stroke-linejoin="round" fill-opacity="0.95"><path d="M1759.42 288.82L1782.74 299.74V300.94L1759.42 290.02Z" fill="#f3f7fc"/><path d="M1782.74 299.74L1803.18 288.58V289.78L1782.74 300.94Z" fill="#f3f7fc"/><path d="M1759.42 288.82L1779.86 277.66L1803.18 288.58L1782.74 299.74Z" fill="#eff3f8"/></g>
<g stroke="#6a7480" stroke-width="1.3" stroke-linejoin="round" fill-opacity="0.95"><path d="M1564.92 290.22L1588.24 301.14V316.14L1564.92 305.22Z" fill="url(#cg6_10)"/><path d="M1588.24 301.14L1608.68 289.98V304.98L1588.24 316.14Z" fill="url(#cg6_10)"/><path d="M1564.92 290.22L1585.36 279.06L1608.68 289.98L1588.24 301.14Z" fill="#e6edf5"/></g>
<g stroke="#6a7480" stroke-width="1.3" stroke-linejoin="round" fill-opacity="0.95"><path d="M1621.02 296.92L1644.34 307.84V315.84L1621.02 304.92Z" fill="url(#cg7_9)"/><path d="M1644.34 307.84L1664.78 296.68V304.68L1644.34 315.84Z" fill="url(#cg7_9)"/><path d="M1621.02 296.92L1641.46 285.76L1664.78 296.68L1644.34 307.84Z" fill="#ebf0f7"/></g>
<g stroke="#3d4045" stroke-width="1.45" stroke-linejoin="round" fill-opacity="0.95"><path d="M1677.12 303.02L1700.44 313.94V315.54L1677.12 304.62Z" fill="#f3f7fc"/><path d="M1700.44 313.94L1720.88 302.78V304.38L1700.44 315.54Z" fill="#f3f7fc"/><path d="M1677.12 303.02L1697.56 291.86L1720.88 302.78L1700.44 313.94Z" fill="#eef3f8"/></g>
<g stroke="#3d4045" stroke-width="1.45" stroke-linejoin="round" fill-opacity="0.95"><path d="M1733.22 303.12L1756.54 314.04V315.24L1733.22 304.32Z" fill="#f3f7fc"/><path d="M1756.54 314.04L1776.98 302.88V304.08L1756.54 315.24Z" fill="#f3f7fc"/><path d="M1733.22 303.12L1753.66 291.96L1776.98 302.88L1756.54 314.04Z" fill="#eff3f8"/></g>
<g stroke="#3d4045" stroke-width="1.45" stroke-linejoin="round" fill-opacity="0.95"><path d="M1789.32 302.82L1812.64 313.74V314.94L1789.32 304.02Z" fill="#f3f7fc"/><path d="M1812.64 313.74L1833.08 302.58V303.78L1812.64 314.94Z" fill="#f3f7fc"/><path d="M1789.32 302.82L1809.76 291.66L1833.08 302.58L1812.64 313.74Z" fill="#eff3f8"/></g>
<g stroke="#6a7480" stroke-width="1.3" stroke-linejoin="round" fill-opacity="0.95"><path d="M1538.72 279.52L1562.04 290.44V330.44L1538.72 319.52Z" fill="url(#cg5_10)"/><path d="M1562.04 290.44L1582.48 279.28V319.28L1562.04 330.44Z" fill="url(#cg5_10)"/><path d="M1538.72 279.52L1559.16 268.36L1582.48 279.28L1562.04 290.44Z" fill="#d0e0ef"/></g>
<g stroke="#6a7480" stroke-width="1.3" stroke-linejoin="round" fill-opacity="0.95"><path d="M1594.82 289.22L1618.14 300.14V330.14L1594.82 319.22Z" fill="url(#cg6_9)"/><path d="M1618.14 300.14L1638.58 288.98V318.98L1618.14 330.14Z" fill="url(#cg6_9)"/><path d="M1594.82 289.22L1615.26 278.06L1638.58 288.98L1618.14 300.14Z" fill="#dae6f2"/></g>
<g stroke="#6a7480" stroke-width="1.3" stroke-linejoin="round" fill-opacity="0.95"><path d="M1650.92 306.92L1674.24 317.84V329.84L1650.92 318.92Z" fill="url(#cg7_8)"/><path d="M1674.24 317.84L1694.68 306.68V318.68L1674.24 329.84Z" fill="url(#cg7_8)"/><path d="M1650.92 306.92L1671.36 295.76L1694.68 306.68L1674.24 317.84Z" fill="#e8eff6"/></g>
<g stroke="#3d4045" stroke-width="1.45" stroke-linejoin="round" fill-opacity="0.95"><path d="M1707.02 316.62L1730.34 327.54V329.54L1707.02 318.62Z" fill="#f2f7fc"/><path d="M1730.34 327.54L1750.78 316.38V318.38L1730.34 329.54Z" fill="#f2f7fc"/><path d="M1707.02 316.62L1727.46 305.46L1750.78 316.38L1730.34 327.54Z" fill="#eef3f8"/></g>
<g stroke="#3d4045" stroke-width="1.45" stroke-linejoin="round" fill-opacity="0.95"><path d="M1763.12 316.72L1786.44 327.64V329.24L1763.12 318.32Z" fill="#f3f7fc"/><path d="M1786.44 327.64L1806.88 316.48V318.08L1786.44 329.24Z" fill="#f3f7fc"/><path d="M1763.12 316.72L1783.56 305.56L1806.88 316.48L1786.44 327.64Z" fill="#eef3f8"/></g>
<g stroke="#d4d8dc" stroke-width="0.8" stroke-linejoin="round" fill-opacity="0.95"><path d="M1819.22 317.02L1842.54 327.94V328.94L1819.22 318.02Z" fill="#f3f7fc"/><path d="M1842.54 327.94L1862.98 316.78V317.78L1842.54 328.94Z" fill="#f3f7fc"/><path d="M1819.22 317.02L1839.66 305.86L1862.98 316.78L1842.54 327.94Z" fill="#eff3f8"/></g>
<g stroke="#41607f" stroke-width="1.3" stroke-linejoin="round" fill-opacity="0.95"><path d="M1512.52 263.82L1535.84 274.74V344.74L1512.52 333.82Z" fill="url(#cg4_10)"/><path d="M1535.84 274.74L1556.28 263.58V333.58L1535.84 344.74Z" fill="url(#cg4_10)"/><path d="M1512.52 263.82L1532.96 252.66L1556.28 263.58L1535.84 274.74Z" fill="#abcbe7"/></g>
<g stroke="#41607f" stroke-width="1.3" stroke-linejoin="round" fill-opacity="0.95"><path d="M1568.62 233.52L1591.94 244.44V344.44L1568.62 333.52Z" fill="url(#cg5_9)"/><path d="M1591.94 244.44L1612.38 233.28V333.28L1591.94 344.44Z" fill="url(#cg5_9)"/><path d="M1568.62 233.52L1589.06 222.36L1612.38 233.28L1591.94 244.44Z" fill="#86bbe2"/></g>
<g stroke="#6a7480" stroke-width="1.3" stroke-linejoin="round" fill-opacity="0.95"><path d="M1624.72 283.22L1648.04 294.14V344.14L1624.72 333.22Z" fill="url(#cg6_8)"/><path d="M1648.04 294.14L1668.48 282.98V332.98L1648.04 344.14Z" fill="url(#cg6_8)"/><path d="M1624.72 283.22L1645.16 272.06L1668.48 282.98L1648.04 294.14Z" fill="#c4d8ec"/></g>
<g stroke="#6a7480" stroke-width="1.3" stroke-linejoin="round" fill-opacity="0.95"><path d="M1680.82 317.92L1704.14 328.84V343.84L1680.82 332.92Z" fill="url(#cg7_7)"/><path d="M1704.14 328.84L1724.58 317.68V332.68L1704.14 343.84Z" fill="url(#cg7_7)"/><path d="M1680.82 317.92L1701.26 306.76L1724.58 317.68L1704.14 328.84Z" fill="#e6edf5"/></g>
<g stroke="#6a7480" stroke-width="1.3" stroke-linejoin="round" fill-opacity="0.95"><path d="M1736.92 319.62L1760.24 330.54V343.54L1736.92 332.62Z" fill="url(#cg8_6)"/><path d="M1760.24 330.54L1780.68 319.38V332.38L1760.24 343.54Z" fill="url(#cg8_6)"/><path d="M1736.92 319.62L1757.36 308.46L1780.68 319.38L1760.24 330.54Z" fill="#e8eef6"/></g>
<g stroke="#3d4045" stroke-width="1.45" stroke-linejoin="round" fill-opacity="0.95"><path d="M1793.02 330.72L1816.34 341.64V343.24L1793.02 332.32Z" fill="#f3f7fc"/><path d="M1816.34 341.64L1836.78 330.48V332.08L1816.34 343.24Z" fill="#f3f7fc"/><path d="M1793.02 330.72L1813.46 319.56L1836.78 330.48L1816.34 341.64Z" fill="#eef3f8"/></g>
<g stroke="#3d4045" stroke-width="1.45" stroke-linejoin="round" fill-opacity="0.95"><path d="M1849.12 330.82L1872.44 341.74V342.94L1849.12 332.02Z" fill="#f3f7fc"/><path d="M1872.44 341.74L1892.88 330.58V331.78L1872.44 342.94Z" fill="#f3f7fc"/><path d="M1849.12 330.82L1869.56 319.66L1892.88 330.58L1872.44 341.74Z" fill="#eff3f8"/></g>
<g stroke="#6a7480" stroke-width="1.3" stroke-linejoin="round" fill-opacity="0.95"><path d="M1486.32 303.12L1509.64 314.04V359.04L1486.32 348.12Z" fill="url(#cg3_10)"/><path d="M1509.64 314.04L1530.08 302.88V347.88L1509.64 359.04Z" fill="url(#cg3_10)"/><path d="M1486.32 303.12L1506.76 291.96L1530.08 302.88L1509.64 314.04Z" fill="#cadcee"/></g>
<g stroke="#1c416b" stroke-width="1.3" stroke-linejoin="round" fill-opacity="0.95"><path d="M1542.42 161.82L1565.74 172.74V358.74L1542.42 347.82Z" fill="url(#cg4_9)"/><path d="M1565.74 172.74L1586.18 161.58V347.58L1565.74 358.74Z" fill="url(#cg4_9)"/><path d="M1542.42 161.82L1562.86 150.66L1586.18 161.58L1565.74 172.74Z" fill="#267cc7"/></g>
<g stroke="#41607f" stroke-width="1.3" stroke-linejoin="round" fill-opacity="0.95"><path d="M1598.52 197.52L1621.84 208.44V358.44L1598.52 347.52Z" fill="url(#cg5_8)"/><path d="M1621.84 208.44L1642.28 197.28V347.28L1621.84 358.44Z" fill="url(#cg5_8)"/><path d="M1598.52 197.52L1618.96 186.36L1642.28 197.28L1621.84 208.44Z" fill="#529dd8"/></g>
<g stroke="#41607f" stroke-width="1.3" stroke-linejoin="round" fill-opacity="0.95"><path d="M1654.62 287.22L1677.94 298.14V358.14L1654.62 347.22Z" fill="url(#cg6_7)"/><path d="M1677.94 298.14L1698.38 286.98V346.98L1677.94 358.14Z" fill="url(#cg6_7)"/><path d="M1654.62 287.22L1675.06 276.06L1698.38 286.98L1677.94 298.14Z" fill="#b7d1e9"/></g>
<g stroke="#6a7480" stroke-width="1.3" stroke-linejoin="round" fill-opacity="0.95"><path d="M1710.72 301.92L1734.04 312.84V357.84L1710.72 346.92Z" fill="url(#cg7_6)"/><path d="M1734.04 312.84L1754.48 301.68V346.68L1734.04 357.84Z" fill="url(#cg7_6)"/><path d="M1710.72 301.92L1731.16 290.76L1754.48 301.68L1734.04 312.84Z" fill="#cadcee"/></g>
<g stroke="#3d4045" stroke-width="1.45" stroke-linejoin="round" fill-opacity="0.95"><path d="M1766.82 342.62L1790.14 353.54V357.54L1766.82 346.62Z" fill="#f2f6fc"/><path d="M1790.14 353.54L1810.58 342.38V346.38L1790.14 357.54Z" fill="#f2f6fc"/><path d="M1766.82 342.62L1787.26 331.46L1810.58 342.38L1790.14 353.54Z" fill="#edf2f7"/></g>
<g stroke="#3d4045" stroke-width="1.45" stroke-linejoin="round" fill-opacity="0.95"><path d="M1822.92 344.72L1846.24 355.64V357.24L1822.92 346.32Z" fill="#f3f7fc"/><path d="M1846.24 355.64L1866.68 344.48V346.08L1846.24 357.24Z" fill="#f3f7fc"/><path d="M1822.92 344.72L1843.36 333.56L1866.68 344.48L1846.24 355.64Z" fill="#eef3f8"/></g>
<g stroke="#3d4045" stroke-width="1.45" stroke-linejoin="round" fill-opacity="0.95"><path d="M1879.02 344.82L1902.34 355.74V356.94L1879.02 346.02Z" fill="#f3f7fc"/><path d="M1902.34 355.74L1922.78 344.58V345.78L1902.34 356.94Z" fill="#f3f7fc"/><path d="M1879.02 344.82L1899.46 333.66L1922.78 344.58L1902.34 355.74Z" fill="#eff3f8"/></g>
<g stroke="#6a7480" stroke-width="1.3" stroke-linejoin="round" fill-opacity="0.95"><path d="M1460.12 348.42L1483.44 359.34V373.34L1460.12 362.42Z" fill="url(#cg2_10)"/><path d="M1483.44 359.34L1503.88 348.18V362.18L1483.44 373.34Z" fill="url(#cg2_10)"/><path d="M1460.12 348.42L1480.56 337.26L1503.88 348.18L1483.44 359.34Z" fill="#e7eef5"/></g>
<g stroke="#41607f" stroke-width="1.3" stroke-linejoin="round" fill-opacity="0.95"><path d="M1516.22 222.12L1539.54 233.04V373.04L1516.22 362.12Z" fill="url(#cg3_9)"/><path d="M1539.54 233.04L1559.98 221.88V361.88L1539.54 373.04Z" fill="url(#cg3_9)"/><path d="M1516.22 222.12L1536.66 210.96L1559.98 221.88L1539.54 233.04Z" fill="#5fa6dd"/></g>
<g stroke="#1c416b" stroke-width="1.3" stroke-linejoin="round" fill-opacity="0.95"><path d="M1572.32 88.82L1595.64 99.74V372.74L1572.32 361.82Z" fill="url(#cg4_8)"/><path d="M1595.64 99.74L1616.08 88.58V361.58L1595.64 372.74Z" fill="url(#cg4_8)"/><path d="M1572.32 88.82L1592.76 77.66L1616.08 88.58L1595.64 99.74Z" fill="#043887"/></g>
<g stroke="#1c416b" stroke-width="1.3" stroke-linejoin="round" fill-opacity="0.95"><path d="M1628.42 191.52L1651.74 202.44V372.44L1628.42 361.52Z" fill="url(#cg5_7)"/><path d="M1651.74 202.44L1672.18 191.28V361.28L1651.74 372.44Z" fill="url(#cg5_7)"/><path d="M1628.42 191.52L1648.86 180.36L1672.18 191.28L1651.74 202.44Z" fill="#3a8bce"/></g>
<g stroke="#41607f" stroke-width="1.3" stroke-linejoin="round" fill-opacity="0.95"><path d="M1684.52 265.22L1707.84 276.14V372.14L1684.52 361.22Z" fill="url(#cg6_6)"/><path d="M1707.84 276.14L1728.28 264.98V360.98L1707.84 372.14Z" fill="url(#cg6_6)"/><path d="M1684.52 265.22L1704.96 254.06L1728.28 264.98L1707.84 276.14Z" fill="#8bbde2"/></g>
<g stroke="#6a7480" stroke-width="1.3" stroke-linejoin="round" fill-opacity="0.95"><path d="M1740.62 341.92L1763.94 352.84V371.84L1740.62 360.92Z" fill="url(#cg7_5)"/><path d="M1763.94 352.84L1784.38 341.68V360.68L1763.94 371.84Z" fill="url(#cg7_5)"/><path d="M1740.62 341.92L1761.06 330.76L1784.38 341.68L1763.94 352.84Z" fill="#e4ecf4"/></g>
<g stroke="#3d4045" stroke-width="1.45" stroke-linejoin="round" fill-opacity="0.95"><path d="M1796.72 357.62L1820.04 368.54V371.54L1796.72 360.62Z" fill="#f2f6fc"/><path d="M1820.04 368.54L1840.48 357.38V360.38L1820.04 371.54Z" fill="#f2f6fc"/><path d="M1796.72 357.62L1817.16 346.46L1840.48 357.38L1820.04 368.54Z" fill="#eef2f8"/></g>
<g stroke="#3d4045" stroke-width="1.45" stroke-linejoin="round" fill-opacity="0.95"><path d="M1852.82 359.12L1876.14 370.04V371.24L1852.82 360.32Z" fill="#f3f7fc"/><path d="M1876.14 370.04L1896.58 358.88V360.08L1876.14 371.24Z" fill="#f3f7fc"/><path d="M1852.82 359.12L1873.26 347.96L1896.58 358.88L1876.14 370.04Z" fill="#eff3f8"/></g>
<g stroke="#3d4045" stroke-width="1.45" stroke-linejoin="round" fill-opacity="0.95"><path d="M1908.92 358.82L1932.24 369.74V370.94L1908.92 360.02Z" fill="#f3f7fc"/><path d="M1932.24 369.74L1952.68 358.58V359.78L1932.24 370.94Z" fill="#f3f7fc"/><path d="M1908.92 358.82L1929.36 347.66L1952.68 358.58L1932.24 369.74Z" fill="#eff3f8"/></g>
<g stroke="#6a7480" stroke-width="1.3" stroke-linejoin="round" fill-opacity="0.95"><path d="M1433.92 370.72L1457.24 381.64V387.64L1433.92 376.72Z" fill="#f1f6fb"/><path d="M1457.24 381.64L1477.68 370.48V376.48L1457.24 387.64Z" fill="#f1f6fb"/><path d="M1433.92 370.72L1454.36 359.56L1477.68 370.48L1457.24 381.64Z" fill="#ecf1f7"/></g>
<g stroke="#41607f" stroke-width="1.3" stroke-linejoin="round" fill-opacity="0.95"><path d="M1490.02 317.42L1513.34 328.34V387.34L1490.02 376.42Z" fill="url(#cg2_9)"/><path d="M1513.34 328.34L1533.78 317.18V376.18L1513.34 387.34Z" fill="url(#cg2_9)"/><path d="M1490.02 317.42L1510.46 306.26L1533.78 317.18L1513.34 328.34Z" fill="#b8d2ea"/></g>
<g stroke="#1c416b" stroke-width="1.3" stroke-linejoin="round" fill-opacity="0.95"><path d="M1546.12 166.12L1569.44 177.04V387.04L1546.12 376.12Z" fill="url(#cg3_8)"/><path d="M1569.44 177.04L1589.88 165.88V375.88L1569.44 387.04Z" fill="url(#cg3_8)"/><path d="M1546.12 166.12L1566.56 154.96L1589.88 165.88L1569.44 177.04Z" fill="#1465b6"/></g>
<g stroke="#1c416b" stroke-width="1.3" stroke-linejoin="round" fill-opacity="0.95"><path d="M1602.22 115.82L1625.54 126.74V386.74L1602.22 375.82Z" fill="url(#cg4_7)"/><path d="M1625.54 126.74L1645.98 115.58V375.58L1625.54 386.74Z" fill="url(#cg4_7)"/><path d="M1602.22 115.82L1622.66 104.66L1645.98 115.58L1625.54 126.74Z" fill="#06479c"/></g>
<g stroke="#1c416b" stroke-width="1.3" stroke-linejoin="round" fill-opacity="0.95"><path d="M1658.32 187.52L1681.64 198.44V386.44L1658.32 375.52Z" fill="url(#cg5_6)"/><path d="M1681.64 198.44L1702.08 187.28V375.28L1681.64 386.44Z" fill="url(#cg5_6)"/><path d="M1658.32 187.52L1678.76 176.36L1702.08 187.28L1681.64 198.44Z" fill="#247ac6"/></g>
<g stroke="#6a7480" stroke-width="1.3" stroke-linejoin="round" fill-opacity="0.95"><path d="M1714.42 331.22L1737.74 342.14V386.14L1714.42 375.22Z" fill="url(#cg6_5)"/><path d="M1737.74 342.14L1758.18 330.98V374.98L1737.74 386.14Z" fill="url(#cg6_5)"/><path d="M1714.42 331.22L1734.86 320.06L1758.18 330.98L1737.74 342.14Z" fill="#cbddee"/></g>
<g stroke="#6a7480" stroke-width="1.3" stroke-linejoin="round" fill-opacity="0.95"><path d="M1770.52 368.92L1793.84 379.84V385.84L1770.52 374.92Z" fill="#f1f6fb"/><path d="M1793.84 379.84L1814.28 368.68V374.68L1793.84 385.84Z" fill="#f1f6fb"/><path d="M1770.52 368.92L1790.96 357.76L1814.28 368.68L1793.84 379.84Z" fill="#ecf1f7"/></g>
<g stroke="#3d4045" stroke-width="1.45" stroke-linejoin="round" fill-opacity="0.95"><path d="M1826.62 373.02L1849.94 383.94V385.54L1826.62 374.62Z" fill="#f3f7fc"/><path d="M1849.94 383.94L1870.38 372.78V374.38L1849.94 385.54Z" fill="#f3f7fc"/><path d="M1826.62 373.02L1847.06 361.86L1870.38 372.78L1849.94 383.94Z" fill="#eef3f8"/></g>
<g stroke="#3d4045" stroke-width="1.45" stroke-linejoin="round" fill-opacity="0.95"><path d="M1882.72 373.12L1906.04 384.04V385.24L1882.72 374.32Z" fill="#f3f7fc"/><path d="M1906.04 384.04L1926.48 372.88V374.08L1906.04 385.24Z" fill="#f3f7fc"/><path d="M1882.72 373.12L1903.16 361.96L1926.48 372.88L1906.04 384.04Z" fill="#eff3f8"/></g>
<g stroke="#3d4045" stroke-width="1.45" stroke-linejoin="round" fill-opacity="0.95"><path d="M1938.82 372.82L1962.14 383.74V384.94L1938.82 374.02Z" fill="#f3f7fc"/><path d="M1962.14 383.74L1982.58 372.58V373.78L1962.14 384.94Z" fill="#f3f7fc"/><path d="M1938.82 372.82L1959.26 361.66L1982.58 372.58L1962.14 383.74Z" fill="#eff3f8"/></g>
<g stroke="#6a7480" stroke-width="1.3" stroke-linejoin="round" fill-opacity="0.95"><path d="M1463.82 374.22L1487.14 385.14V401.64L1463.82 390.72Z" fill="url(#cg1_9)"/><path d="M1487.14 385.14L1507.58 373.98V390.48L1487.14 401.64Z" fill="url(#cg1_9)"/><path d="M1463.82 374.22L1484.26 363.06L1507.58 373.98L1487.14 385.14Z" fill="#e6edf5"/></g>
<g stroke="#41607f" stroke-width="1.3" stroke-linejoin="round" fill-opacity="0.95"><path d="M1519.92 310.42L1543.24 321.34V401.34L1519.92 390.42Z" fill="url(#cg2_8)"/><path d="M1543.24 321.34L1563.68 310.18V390.18L1543.24 401.34Z" fill="url(#cg2_8)"/><path d="M1519.92 310.42L1540.36 299.26L1563.68 310.18L1543.24 321.34Z" fill="#9fc6e6"/></g>
<g stroke="#1c416b" stroke-width="1.3" stroke-linejoin="round" fill-opacity="0.95"><path d="M1576.02 197.12L1599.34 208.04V401.04L1576.02 390.12Z" fill="url(#cg3_7)"/><path d="M1599.34 208.04L1619.78 196.88V389.88L1599.34 401.04Z" fill="url(#cg3_7)"/><path d="M1576.02 197.12L1596.46 185.96L1619.78 196.88L1599.34 208.04Z" fill="#1f75c3"/></g>
<g stroke="#1c416b" stroke-width="1.3" stroke-linejoin="round" fill-opacity="0.95"><path d="M1632.12 170.82L1655.44 181.74V400.74L1632.12 389.82Z" fill="url(#cg4_6)"/><path d="M1655.44 181.74L1675.88 170.58V389.58L1655.44 400.74Z" fill="url(#cg4_6)"/><path d="M1632.12 170.82L1652.56 159.66L1675.88 170.58L1655.44 181.74Z" fill="#105eb0"/></g>
<g stroke="#41607f" stroke-width="1.3" stroke-linejoin="round" fill-opacity="0.95"><path d="M1688.22 293.52L1711.54 304.44V400.44L1688.22 389.52Z" fill="url(#cg5_5)"/><path d="M1711.54 304.44L1731.98 293.28V389.28L1711.54 400.44Z" fill="url(#cg5_5)"/><path d="M1688.22 293.52L1708.66 282.36L1731.98 293.28L1711.54 304.44Z" fill="#8bbde2"/></g>
<g stroke="#6a7480" stroke-width="1.3" stroke-linejoin="round" fill-opacity="0.95"><path d="M1744.32 377.22L1767.64 388.14V400.14L1744.32 389.22Z" fill="url(#cg6_4)"/><path d="M1767.64 388.14L1788.08 376.98V388.98L1767.64 400.14Z" fill="url(#cg6_4)"/><path d="M1744.32 377.22L1764.76 366.06L1788.08 376.98L1767.64 388.14Z" fill="#e8eff6"/></g>
<g stroke="#6a7480" stroke-width="1.3" stroke-linejoin="round" fill-opacity="0.95"><path d="M1800.42 352.92L1823.74 363.84V399.84L1800.42 388.92Z" fill="url(#cg7_3)"/><path d="M1823.74 363.84L1844.18 352.68V388.68L1823.74 399.84Z" fill="url(#cg7_3)"/><path d="M1800.42 352.92L1820.86 341.76L1844.18 352.68L1823.74 363.84Z" fill="#d4e2f0"/></g>
<g stroke="#3d4045" stroke-width="1.45" stroke-linejoin="round" fill-opacity="0.95"><path d="M1856.52 387.42L1879.84 398.34V399.54L1856.52 388.62Z" fill="#f3f7fc"/><path d="M1879.84 398.34L1900.28 387.18V388.38L1879.84 399.54Z" fill="#f3f7fc"/><path d="M1856.52 387.42L1876.96 376.26L1900.28 387.18L1879.84 398.34Z" fill="#eff3f8"/></g>
<g stroke="#3d4045" stroke-width="1.45" stroke-linejoin="round" fill-opacity="0.95"><path d="M1912.62 387.12L1935.94 398.04V399.24L1912.62 388.32Z" fill="#f3f7fc"/><path d="M1935.94 398.04L1956.38 386.88V388.08L1935.94 399.24Z" fill="#f3f7fc"/><path d="M1912.62 387.12L1933.06 375.96L1956.38 386.88L1935.94 398.04Z" fill="#eff3f8"/></g>
<g stroke="#6a7480" stroke-width="1.3" stroke-linejoin="round" fill-opacity="0.95"><path d="M1493.72 384.22L1517.04 395.14V415.64L1493.72 404.72Z" fill="url(#cg1_8)"/><path d="M1517.04 395.14L1537.48 383.98V404.48L1517.04 415.64Z" fill="url(#cg1_8)"/><path d="M1493.72 384.22L1514.16 373.06L1537.48 383.98L1517.04 395.14Z" fill="#e3ebf4"/></g>
<g stroke="#41607f" stroke-width="1.3" stroke-linejoin="round" fill-opacity="0.95"><path d="M1549.82 344.42L1573.14 355.34V415.34L1549.82 404.42Z" fill="url(#cg2_7)"/><path d="M1573.14 355.34L1593.58 344.18V404.18L1573.14 415.34Z" fill="url(#cg2_7)"/><path d="M1549.82 344.42L1570.26 333.26L1593.58 344.18L1573.14 355.34Z" fill="#b7d1e9"/></g>
<g stroke="#41607f" stroke-width="1.3" stroke-linejoin="round" fill-opacity="0.95"><path d="M1605.92 282.62L1629.24 293.54V415.04L1605.92 404.12Z" fill="url(#cg3_6)"/><path d="M1629.24 293.54L1649.68 282.38V403.88L1629.24 415.04Z" fill="url(#cg3_6)"/><path d="M1605.92 282.62L1626.36 271.46L1649.68 282.38L1629.24 293.54Z" fill="#71b0df"/></g>
<g stroke="#41607f" stroke-width="1.3" stroke-linejoin="round" fill-opacity="0.95"><path d="M1662.02 291.82L1685.34 302.74V414.74L1662.02 403.82Z" fill="url(#cg4_5)"/><path d="M1685.34 302.74L1705.78 291.58V403.58L1685.34 414.74Z" fill="url(#cg4_5)"/><path d="M1662.02 291.82L1682.46 280.66L1705.78 291.58L1685.34 302.74Z" fill="#7ab5e0"/></g>
<g stroke="#6a7480" stroke-width="1.3" stroke-linejoin="round" fill-opacity="0.95"><path d="M1718.12 355.52L1741.44 366.44V414.44L1718.12 403.52Z" fill="url(#cg5_4)"/><path d="M1741.44 366.44L1761.88 355.28V403.28L1741.44 414.44Z" fill="url(#cg5_4)"/><path d="M1718.12 355.52L1738.56 344.36L1761.88 355.28L1741.44 366.44Z" fill="#c6daed"/></g>
<g stroke="#6a7480" stroke-width="1.3" stroke-linejoin="round" fill-opacity="0.95"><path d="M1774.22 397.22L1797.54 408.14V414.14L1774.22 403.22Z" fill="#f1f6fb"/><path d="M1797.54 408.14L1817.98 396.98V402.98L1797.54 414.14Z" fill="#f1f6fb"/><path d="M1774.22 397.22L1794.66 386.06L1817.98 396.98L1797.54 408.14Z" fill="#ecf1f7"/></g>
<g stroke="#3d4045" stroke-width="1.45" stroke-linejoin="round" fill-opacity="0.95"><path d="M1830.32 401.72L1853.64 412.64V413.84L1830.32 402.92Z" fill="#f3f7fc"/><path d="M1853.64 412.64L1874.08 401.48V402.68L1853.64 413.84Z" fill="#f3f7fc"/><path d="M1830.32 401.72L1850.76 390.56L1874.08 401.48L1853.64 412.64Z" fill="#eff3f8"/></g>
<g stroke="#3d4045" stroke-width="1.45" stroke-linejoin="round" fill-opacity="0.95"><path d="M1886.42 401.42L1909.74 412.34V413.54L1886.42 402.62Z" fill="#f3f7fc"/><path d="M1909.74 412.34L1930.18 401.18V402.38L1909.74 413.54Z" fill="#f3f7fc"/><path d="M1886.42 401.42L1906.86 390.26L1930.18 401.18L1909.74 412.34Z" fill="#eff3f8"/></g>
<g stroke="#6a7480" stroke-width="1.3" stroke-linejoin="round" fill-opacity="0.95"><path d="M1523.62 400.72L1546.94 411.64V429.64L1523.62 418.72Z" fill="url(#cg1_7)"/><path d="M1546.94 411.64L1567.38 400.48V418.48L1546.94 429.64Z" fill="url(#cg1_7)"/><path d="M1523.62 400.72L1544.06 389.56L1567.38 400.48L1546.94 411.64Z" fill="#e5ecf5"/></g>
<g stroke="#6a7480" stroke-width="1.3" stroke-linejoin="round" fill-opacity="0.95"><path d="M1579.72 374.92L1603.04 385.84V429.34L1579.72 418.42Z" fill="url(#cg2_6)"/><path d="M1603.04 385.84L1623.48 374.68V418.18L1603.04 429.34Z" fill="url(#cg2_6)"/><path d="M1579.72 374.92L1600.16 363.76L1623.48 374.68L1603.04 385.84Z" fill="#ccddee"/></g>
<g stroke="#41607f" stroke-width="1.3" stroke-linejoin="round" fill-opacity="0.95"><path d="M1635.82 357.12L1659.14 368.04V429.04L1635.82 418.12Z" fill="url(#cg3_5)"/><path d="M1659.14 368.04L1679.58 356.88V417.88L1659.14 429.04Z" fill="url(#cg3_5)"/><path d="M1635.82 357.12L1656.26 345.96L1679.58 356.88L1659.14 368.04Z" fill="#b6d0e9"/></g>
<g stroke="#6a7480" stroke-width="1.3" stroke-linejoin="round" fill-opacity="0.95"><path d="M1691.92 374.82L1715.24 385.74V428.74L1691.92 417.82Z" fill="url(#cg4_4)"/><path d="M1715.24 385.74L1735.68 374.58V417.58L1715.24 428.74Z" fill="url(#cg4_4)"/><path d="M1691.92 374.82L1712.36 363.66L1735.68 374.58L1715.24 385.74Z" fill="#ccddee"/></g>
<g stroke="#6a7480" stroke-width="1.3" stroke-linejoin="round" fill-opacity="0.95"><path d="M1748.02 409.52L1771.34 420.44V428.44L1748.02 417.52Z" fill="url(#cg5_3)"/><path d="M1771.34 420.44L1791.78 409.28V417.28L1771.34 428.44Z" fill="url(#cg5_3)"/><path d="M1748.02 409.52L1768.46 398.36L1791.78 409.28L1771.34 420.44Z" fill="#ebf0f7"/></g>
<g stroke="#3d4045" stroke-width="1.45" stroke-linejoin="round" fill-opacity="0.95"><path d="M1804.12 415.72L1827.44 426.64V428.14L1804.12 417.22Z" fill="#f3f7fc"/><path d="M1827.44 426.64L1847.88 415.48V416.98L1827.44 428.14Z" fill="#f3f7fc"/><path d="M1804.12 415.72L1824.56 404.56L1847.88 415.48L1827.44 426.64Z" fill="#eef3f8"/></g>
<g stroke="#3d4045" stroke-width="1.45" stroke-linejoin="round" fill-opacity="0.95"><path d="M1860.22 415.72L1883.54 426.64V427.84L1860.22 416.92Z" fill="#f3f7fc"/><path d="M1883.54 426.64L1903.98 415.48V416.68L1883.54 427.84Z" fill="#f3f7fc"/><path d="M1860.22 415.72L1880.66 404.56L1903.98 415.48L1883.54 426.64Z" fill="#eff3f8"/></g>
<g stroke="#6a7480" stroke-width="1.3" stroke-linejoin="round" fill-opacity="0.95"><path d="M1553.52 424.22L1576.84 435.14V443.64L1553.52 432.72Z" fill="url(#cg1_6)"/><path d="M1576.84 435.14L1597.28 423.98V432.48L1576.84 443.64Z" fill="url(#cg1_6)"/><path d="M1553.52 424.22L1573.96 413.06L1597.28 423.98L1576.84 435.14Z" fill="#eaf0f7"/></g>
<g stroke="#3d4045" stroke-width="1.45" stroke-linejoin="round" fill-opacity="0.95"><path d="M1609.62 429.92L1632.94 440.84V443.34L1609.62 432.42Z" fill="#f2f6fc"/><path d="M1632.94 440.84L1653.38 429.68V432.18L1632.94 443.34Z" fill="#f2f6fc"/><path d="M1609.62 429.92L1630.06 418.76L1653.38 429.68L1632.94 440.84Z" fill="#eef2f8"/></g>
<g stroke="#6a7480" stroke-width="1.3" stroke-linejoin="round" fill-opacity="0.95"><path d="M1665.72 415.12L1689.04 426.04V443.04L1665.72 432.12Z" fill="url(#cg3_4)"/><path d="M1689.04 426.04L1709.48 414.88V431.88L1689.04 443.04Z" fill="url(#cg3_4)"/><path d="M1665.72 415.12L1686.16 403.96L1709.48 414.88L1689.04 426.04Z" fill="#e5edf5"/></g>
<g stroke="#6a7480" stroke-width="1.3" stroke-linejoin="round" fill-opacity="0.95"><path d="M1721.82 422.82L1745.14 433.74V442.74L1721.82 431.82Z" fill="url(#cg4_3)"/><path d="M1745.14 433.74L1765.58 422.58V431.58L1745.14 442.74Z" fill="url(#cg4_3)"/><path d="M1721.82 422.82L1742.26 411.66L1765.58 422.58L1745.14 433.74Z" fill="#eaf0f6"/></g>
<g stroke="#3d4045" stroke-width="1.45" stroke-linejoin="round" fill-opacity="0.95"><path d="M1777.92 429.52L1801.24 440.44V442.44L1777.92 431.52Z" fill="#f2f7fc"/><path d="M1801.24 440.44L1821.68 429.28V431.28L1801.24 442.44Z" fill="#f2f7fc"/><path d="M1777.92 429.52L1798.36 418.36L1821.68 429.28L1801.24 440.44Z" fill="#eef3f8"/></g>
<g stroke="#3d4045" stroke-width="1.45" stroke-linejoin="round" fill-opacity="0.95"><path d="M1834.02 430.02L1857.34 440.94V442.14L1834.02 431.22Z" fill="#f3f7fc"/><path d="M1857.34 440.94L1877.78 429.78V430.98L1857.34 442.14Z" fill="#f3f7fc"/><path d="M1834.02 430.02L1854.46 418.86L1877.78 429.78L1857.34 440.94Z" fill="#eff3f8"/></g>
<g stroke="#6a7480" stroke-width="1.3" stroke-linejoin="round" fill-opacity="0.95"><path d="M1583.42 440.22L1606.74 451.14V457.64L1583.42 446.72Z" fill="url(#cg1_5)"/><path d="M1606.74 451.14L1627.18 439.98V446.48L1606.74 457.64Z" fill="url(#cg1_5)"/><path d="M1583.42 440.22L1603.86 429.06L1627.18 439.98L1606.74 451.14Z" fill="#ecf1f7"/></g>
<g stroke="#3d4045" stroke-width="1.45" stroke-linejoin="round" fill-opacity="0.95"><path d="M1639.52 444.92L1662.84 455.84V457.34L1639.52 446.42Z" fill="#f3f7fc"/><path d="M1662.84 455.84L1683.28 444.68V446.18L1662.84 457.34Z" fill="#f3f7fc"/><path d="M1639.52 444.92L1659.96 433.76L1683.28 444.68L1662.84 455.84Z" fill="#eef3f8"/></g>
<g stroke="#6a7480" stroke-width="1.3" stroke-linejoin="round" fill-opacity="0.95"><path d="M1695.62 440.12L1718.94 451.04V457.04L1695.62 446.12Z" fill="#f1f6fb"/><path d="M1718.94 451.04L1739.38 439.88V445.88L1718.94 457.04Z" fill="#f1f6fb"/><path d="M1695.62 440.12L1716.06 428.96L1739.38 439.88L1718.94 451.04Z" fill="#ecf1f7"/></g>
<g stroke="#3d4045" stroke-width="1.45" stroke-linejoin="round" fill-opacity="0.95"><path d="M1751.72 441.82L1775.04 452.74V456.74L1751.72 445.82Z" fill="#f2f6fc"/><path d="M1775.04 452.74L1795.48 441.58V445.58L1775.04 456.74Z" fill="#f2f6fc"/><path d="M1751.72 441.82L1772.16 430.66L1795.48 441.58L1775.04 452.74Z" fill="#edf2f7"/></g>
<g stroke="#3d4045" stroke-width="1.45" stroke-linejoin="round" fill-opacity="0.95"><path d="M1807.82 444.32L1831.14 455.24V456.44L1807.82 445.52Z" fill="#f3f7fc"/><path d="M1831.14 455.24L1851.58 444.08V445.28L1831.14 456.44Z" fill="#f3f7fc"/><path d="M1807.82 444.32L1828.26 433.16L1851.58 444.08L1831.14 455.24Z" fill="#eff3f8"/></g>
<g stroke="#3d4045" stroke-width="1.45" stroke-linejoin="round" fill-opacity="0.95"><path d="M1613.32 457.72L1636.64 468.64V471.64L1613.32 460.72Z" fill="#f2f6fc"/><path d="M1636.64 468.64L1657.08 457.48V460.48L1636.64 471.64Z" fill="#f2f6fc"/><path d="M1613.32 457.72L1633.76 446.56L1657.08 457.48L1636.64 468.64Z" fill="#eef2f8"/></g>
<g stroke="#3d4045" stroke-width="1.45" stroke-linejoin="round" fill-opacity="0.95"><path d="M1669.42 458.92L1692.74 469.84V471.34L1669.42 460.42Z" fill="#f3f7fc"/><path d="M1692.74 469.84L1713.18 458.68V460.18L1692.74 471.34Z" fill="#f3f7fc"/><path d="M1669.42 458.92L1689.86 447.76L1713.18 458.68L1692.74 469.84Z" fill="#eef3f8"/></g>
<g stroke="#3d4045" stroke-width="1.45" stroke-linejoin="round" fill-opacity="0.95"><path d="M1725.52 458.12L1748.84 469.04V471.04L1725.52 460.12Z" fill="#f2f7fc"/><path d="M1748.84 469.04L1769.28 457.88V459.88L1748.84 471.04Z" fill="#f2f7fc"/><path d="M1725.52 458.12L1745.96 446.96L1769.28 457.88L1748.84 469.04Z" fill="#eef3f8"/></g>
<g stroke="#3d4045" stroke-width="1.45" stroke-linejoin="round" fill-opacity="0.95"><path d="M1781.62 458.62L1804.94 469.54V470.74L1781.62 459.82Z" fill="#f3f7fc"/><path d="M1804.94 469.54L1825.38 458.38V459.58L1804.94 470.74Z" fill="#f3f7fc"/><path d="M1781.62 458.62L1802.06 447.46L1825.38 458.38L1804.94 469.54Z" fill="#eff3f8"/></g>
<g stroke="#3d4045" stroke-width="1.45" stroke-linejoin="round" fill-opacity="0.95"><path d="M1643.22 473.22L1666.54 484.14V485.64L1643.22 474.72Z" fill="#f3f7fc"/><path d="M1666.54 484.14L1686.98 472.98V474.48L1666.54 485.64Z" fill="#f3f7fc"/><path d="M1643.22 473.22L1663.66 462.06L1686.98 472.98L1666.54 484.14Z" fill="#eef3f8"/></g>
<g stroke="#6a7480" stroke-width="1.3" stroke-linejoin="round" fill-opacity="0.95"><path d="M1699.32 466.42L1722.64 477.34V485.34L1699.32 474.42Z" fill="url(#cg2_2)"/><path d="M1722.64 477.34L1743.08 466.18V474.18L1722.64 485.34Z" fill="url(#cg2_2)"/><path d="M1699.32 466.42L1719.76 455.26L1743.08 466.18L1722.64 477.34Z" fill="#ebf0f7"/></g>
<g stroke="#3d4045" stroke-width="1.45" stroke-linejoin="round" fill-opacity="0.95"><path d="M1755.42 472.62L1778.74 483.54V485.04L1755.42 474.12Z" fill="#f3f7fc"/><path d="M1778.74 483.54L1799.18 472.38V473.88L1778.74 485.04Z" fill="#f3f7fc"/><path d="M1755.42 472.62L1775.86 461.46L1799.18 472.38L1778.74 483.54Z" fill="#eef3f8"/></g>
<g stroke="#3d4045" stroke-width="1.45" stroke-linejoin="round" fill-opacity="0.95"><path d="M1673.12 487.72L1696.44 498.64V499.64L1673.12 488.72Z" fill="#f3f7fc"/><path d="M1696.44 498.64L1716.88 487.48V488.48L1696.44 499.64Z" fill="#f3f7fc"/><path d="M1673.12 487.72L1693.56 476.56L1716.88 487.48L1696.44 498.64Z" fill="#eff3f8"/></g>
<g stroke="#6a7480" stroke-width="1.3" stroke-linejoin="round" fill-opacity="0.95"><path d="M1729.22 469.92L1752.54 480.84V499.34L1729.22 488.42Z" fill="url(#cg2_1)"/><path d="M1752.54 480.84L1772.98 469.68V488.18L1752.54 499.34Z" fill="url(#cg2_1)"/><path d="M1729.22 469.92L1749.66 458.76L1772.98 469.68L1752.54 480.84Z" fill="#e4ecf5"/></g>
<g stroke="#3d4045" stroke-width="1.45" stroke-linejoin="round" fill-opacity="0.95"><path d="M1703.02 501.72L1726.34 512.64V513.64L1703.02 502.72Z" fill="#f3f7fc"/><path d="M1726.34 512.64L1746.78 501.48V502.48L1726.34 513.64Z" fill="#f3f7fc"/><path d="M1703.02 501.72L1723.46 490.56L1746.78 501.48L1726.34 512.64Z" fill="#eff3f8"/></g>
<path d="M1426.4 70.4V384.5L1729.4 523L1981.3 381" fill="none" stroke="#000" stroke-width="2.7" stroke-linejoin="miter"/>
<path d="M1426.4 71.7h6.2M1426.4 234.3h6.2" stroke="#000" stroke-width="2.2" fill="none"/>
<text transform="translate(1415 88.3) scale(0.95 1)" font-family='"Liberation Serif", "DejaVu Serif", serif' font-size="37" text-anchor="end" stroke="#000" stroke-width="0.3">0.4</text>
<text transform="translate(1415 247.3) scale(0.95 1)" font-family='"Liberation Serif", "DejaVu Serif", serif' font-size="37" text-anchor="end" stroke="#000" stroke-width="0.3">0.2</text>
<text transform="translate(1414.6 394.3) scale(0.93 1)" font-family='"Liberation Serif", "DejaVu Serif", serif' font-size="37" text-anchor="end" stroke="#000" stroke-width="0.3">0</text>
<text transform="translate(1415 425.5) scale(0.9 1)" font-family='"Liberation Serif", "DejaVu Serif", serif' font-size="37" stroke="#000" stroke-width="0.3">10</text>
<text transform="translate(1698 545.5) scale(0.93 1)" font-family='"Liberation Serif", "DejaVu Serif", serif' font-size="37" text-anchor="middle" stroke="#000" stroke-width="0.3">1</text>
<text transform="translate(1752.5 545.5) scale(0.93 1)" font-family='"Liberation Serif", "DejaVu Serif", serif' font-size="37" text-anchor="middle" stroke="#000" stroke-width="0.3">1</text>
<text transform="translate(1982 420.5) scale(0.9 1)" font-family='"Liberation Serif", "DejaVu Serif", serif' font-size="37" text-anchor="middle" stroke="#000" stroke-width="0.3">10</text>
<text transform="translate(1541 490.5) scale(1.08 1)" font-family='"Liberation Serif", "DejaVu Serif", serif' font-size="41" text-anchor="middle" font-style="italic" stroke="#000" stroke-width="0.5">y</text>
<text transform="translate(1880 496) scale(1.08 1)" font-family='"Liberation Serif", "DejaVu Serif", serif' font-size="41" text-anchor="middle" font-style="italic" stroke="#000" stroke-width="0.5">x</text>
<rect x="1912.5" y="214.8" width="15.4" height="101.7" fill="url(#blues)"/>
<text transform="translate(1932.8 224.6) scale(0.98 1)" font-family='"Liberation Serif", "DejaVu Serif", serif' font-size="26.5" stroke="#000" stroke-width="0.2">0.5</text>
<text transform="translate(1935.8 322.8) scale(0.98 1)" font-family='"Liberation Serif", "DejaVu Serif", serif' font-size="26.5" stroke="#000" stroke-width="0.2">0</text>
<text y="272.5" font-family='"Liberation Serif", "DejaVu Serif", serif' font-size="34" text-anchor="middle" stroke="#000" stroke-width="0.5"><tspan x="1940" stroke-width="1.5">|</tspan><tspan x="1957.3" font-style="italic">ψ</tspan><tspan x="1974.4" stroke-width="1.5">|</tspan></text>
</g>
<g id="panel-d">
<text x="1" y="638" font-family='"Liberation Sans", "DejaVu Sans", sans-serif' font-size="50" font-weight="bold">d</text>
<defs><clipPath id="d1clip"><rect x="115.75" y="636.25" width="204" height="411.2"/></clipPath><clipPath id="d2clip"><rect x="417.5" y="636" width="204.2" height="411.5"/></clipPath></defs>
<g clip-path="url(#d1clip)">
<path d="M117 908.75L310 641.25M120 1007L317 743" stroke="#7d7d7d" stroke-width="1.85" stroke-dasharray="9.5 5.5" fill="none"/>
</g>
<g fill="#db7093"><circle cx="303" cy="666.25" r="5.6"/><circle cx="302.5" cy="670.5" r="5.6"/><circle cx="301.25" cy="687" r="5.6"/><circle cx="303.25" cy="693.75" r="5.6"/><circle cx="301" cy="700" r="5.6"/><circle cx="280" cy="708.75" r="5.6"/><circle cx="286.75" cy="719.25" r="5.6"/><circle cx="276.75" cy="725" r="5.6"/><circle cx="288" cy="724.25" r="5.6"/><circle cx="272.5" cy="733.75" r="5.6"/><circle cx="285" cy="734.25" r="5.6"/><circle cx="270" cy="742.5" r="5.6"/><circle cx="277.5" cy="745.5" r="5.6"/><circle cx="285.75" cy="741.25" r="5.6"/><circle cx="273.25" cy="755" r="5.6"/><circle cx="290" cy="756.25" r="5.6"/><circle cx="279.5" cy="763.75" r="5.6"/><circle cx="290.75" cy="764.25" r="5.6"/><circle cx="239.5" cy="766.25" r="5.6"/><circle cx="262.5" cy="763.25" r="5.6"/><circle cx="253.25" cy="769.5" r="5.6"/><circle cx="258.75" cy="768" r="5.6"/><circle cx="267.5" cy="770" r="5.6"/><circle cx="243.75" cy="773.75" r="5.6"/><circle cx="250" cy="777.5" r="5.6"/><circle cx="237.5" cy="780.5" r="5.6"/><circle cx="242.5" cy="783.75" r="5.6"/><circle cx="246.25" cy="787.5" r="5.6"/><circle cx="233.25" cy="793.75" r="5.6"/><circle cx="248.25" cy="793" r="5.6"/><circle cx="263" cy="792" r="5.6"/><circle cx="256.75" cy="803" r="5.6"/><circle cx="269.5" cy="803.25" r="5.6"/><circle cx="237" cy="806.25" r="5.6"/><circle cx="240.75" cy="808.75" r="5.6"/><circle cx="247.5" cy="813.25" r="5.6"/><circle cx="213.75" cy="808" r="5.6"/><circle cx="201.25" cy="815" r="5.6"/><circle cx="221.25" cy="814.25" r="5.6"/><circle cx="226.25" cy="818.75" r="5.6"/><circle cx="216.75" cy="821.25" r="5.6"/><circle cx="214.5" cy="827.5" r="5.6"/><circle cx="220" cy="830" r="5.6"/><circle cx="224.25" cy="833" r="5.6"/><circle cx="189.5" cy="832.5" r="5.6"/><circle cx="200.75" cy="844.25" r="5.6"/><circle cx="208.75" cy="845" r="5.6"/><circle cx="232.5" cy="845" r="5.6"/><circle cx="180" cy="850.75" r="5.6"/><circle cx="186.25" cy="855.5" r="5.6"/><circle cx="278" cy="736" r="5.6"/><circle cx="193.75" cy="857.5" r="5.6"/><circle cx="200" cy="858.75" r="5.6"/><circle cx="178.75" cy="870" r="5.6"/><circle cx="188.75" cy="872.5" r="5.6"/><circle cx="162.5" cy="878.75" r="5.6"/><circle cx="172.5" cy="880" r="5.6"/><circle cx="180" cy="880" r="5.6"/><circle cx="186.25" cy="881.25" r="5.6"/><circle cx="177.5" cy="887.5" r="5.6"/><circle cx="158.75" cy="888.75" r="5.6"/><circle cx="151.25" cy="896.25" r="5.6"/><circle cx="163.25" cy="900" r="5.6"/><circle cx="177" cy="901.75" r="5.6"/><circle cx="149.25" cy="907.5" r="5.6"/><circle cx="160" cy="908.75" r="5.6"/><circle cx="152.5" cy="915" r="5.6"/><circle cx="156.25" cy="917.5" r="5.6"/><circle cx="142.5" cy="922.5" r="5.6"/><circle cx="147.5" cy="921.25" r="5.6"/><circle cx="163.75" cy="920.5" r="5.6"/><circle cx="170.75" cy="923" r="5.6"/><circle cx="142.5" cy="928" r="5.6"/><circle cx="155.75" cy="930.75" r="5.6"/><circle cx="135.75" cy="953.25" r="5.6"/><circle cx="136.25" cy="955.5" r="5.6"/><circle cx="145" cy="960" r="5.6"/><circle cx="156.25" cy="953.25" r="5.6"/><circle cx="161.25" cy="950.75" r="5.6"/><circle cx="159.25" cy="961.75" r="5.6"/><circle cx="171.25" cy="999.5" r="5.6"/></g>
<rect x="115.75" y="636.25" width="204" height="411.25" fill="none" stroke="#000" stroke-width="2.5"/>
<path d="M115.75 719.14h6M115.75 801.25h6M115.75 883.36h6M115.75 965.47h6" stroke="#000" stroke-width="2" fill="none"/>
<path d="M115.75 678.09h2.8M115.75 760.2h2.8M115.75 842.3h2.8M115.75 924.41h2.8M115.75 1006.52h2.8" stroke="#000" stroke-width="1.8" fill="none"/>
<path d="M206.42 1047.5v-6" stroke="#000" stroke-width="2" fill="none"/>
<text transform="translate(107.2 653.1) scale(1.0 1)" font-family='"Liberation Serif", "DejaVu Serif", serif' font-size="37" text-anchor="end" stroke="#000" stroke-width="0.3">6</text>
<text transform="translate(105.2 732) scale(1.0 1)" font-family='"Liberation Serif", "DejaVu Serif", serif' font-size="37" text-anchor="end" stroke="#000" stroke-width="0.3">3</text>
<text transform="translate(105.2 813.8) scale(1.0 1)" font-family='"Liberation Serif", "DejaVu Serif", serif' font-size="37" text-anchor="end" stroke="#000" stroke-width="0.3">0</text>
<text transform="translate(105.2 894.8) scale(1.0 1)" font-family='"Liberation Serif", "DejaVu Serif", serif' font-size="37" text-anchor="end" stroke="#000" stroke-width="0.3">-3</text>
<text transform="translate(105.2 976.8) scale(1.0 1)" font-family='"Liberation Serif", "DejaVu Serif", serif' font-size="37" text-anchor="end" stroke="#000" stroke-width="0.3">-6</text>
<text transform="translate(107.2 1054.8) scale(1.0 1)" font-family='"Liberation Serif", "DejaVu Serif", serif' font-size="37" text-anchor="end" stroke="#000" stroke-width="0.3">-9</text>
<text transform="translate(122.5 1079.4) scale(0.97 1)" font-family='"Liberation Serif", "DejaVu Serif", serif' font-size="36.5" text-anchor="middle" stroke="#000" stroke-width="0.3">1</text>
<text transform="translate(202.5 1079.4) scale(0.97 1)" font-family='"Liberation Serif", "DejaVu Serif", serif' font-size="36.5" text-anchor="middle" stroke="#000" stroke-width="0.3">5</text>
<text transform="translate(311 1079.4) scale(0.97 1)" font-family='"Liberation Serif", "DejaVu Serif", serif' font-size="36.5" text-anchor="middle" stroke="#000" stroke-width="0.3">10</text>
<text x="216.3" y="1118" font-family='"Liberation Serif", "DejaVu Serif", serif' font-size="42" stroke="#000" stroke-width="0.4" text-anchor="middle" textLength="47" lengthAdjust="spacingAndGlyphs">⟨<tspan font-style="italic">y</tspan>⟩</text>
<text x="0" y="0" font-family='"Liberation Serif", "DejaVu Serif", serif' font-size="31" stroke="#000" stroke-width="0.3" text-anchor="middle" textLength="366" lengthAdjust="spacingAndGlyphs" transform="translate(62 845) rotate(-90)">R<tspan dx=".01em">e</tspan><tspan dx=".02em">[</tspan><tspan dx=".04em" font-style="italic">j</tspan><tspan dx=".08em" dy=".14em" font-size="138%">/</tspan><tspan dx=".1em" dy="-.193em">(</tspan><tspan font-style="italic">iω</tspan>)] (× 10<tspan dy="-0.42em" font-size="72%">−8</tspan><tspan dy="0.3em">) [s </tspan><tspan dx="-.12em">· </tspan><tspan dx="-.12em">Ω</tspan><tspan dy="-0.42em" font-size="72%">−1</tspan><tspan dy="0.3em">]</tspan></text>
<g clip-path="url(#d2clip)">
<path d="M422.5 643.75L612.5 927.5M416.25 761.25L608.75 1044.25" stroke="#7d7d7d" stroke-width="1.85" stroke-dasharray="9.5 5.5" fill="none"/>
</g>
<g fill="#90c8e6"><circle cx="436.25" cy="685" r="5.6"/><circle cx="436.25" cy="696.25" r="5.6"/><circle cx="436.75" cy="701.25" r="5.6"/><circle cx="438" cy="707" r="5.6"/><circle cx="438.75" cy="713" r="5.6"/><circle cx="446.75" cy="715" r="5.6"/><circle cx="450" cy="718.75" r="5.6"/><circle cx="452.5" cy="722.5" r="5.6"/><circle cx="457.5" cy="723.75" r="5.6"/><circle cx="445.75" cy="730.5" r="5.6"/><circle cx="437.5" cy="741.25" r="5.6"/><circle cx="462.5" cy="742" r="5.6"/><circle cx="468.75" cy="745" r="5.6"/><circle cx="472.5" cy="741.5" r="5.6"/><circle cx="497" cy="755" r="5.6"/><circle cx="458.25" cy="756.25" r="5.6"/><circle cx="473.25" cy="756.25" r="5.6"/><circle cx="465" cy="761.25" r="5.6"/><circle cx="452.5" cy="766.5" r="5.6"/><circle cx="460" cy="768.75" r="5.6"/><circle cx="468.75" cy="767.5" r="5.6"/><circle cx="462.5" cy="775" r="5.6"/><circle cx="476.25" cy="772" r="5.6"/><circle cx="473.75" cy="782.5" r="5.6"/><circle cx="480" cy="781.25" r="5.6"/><circle cx="487.5" cy="778.75" r="5.6"/><circle cx="462" cy="785.75" r="5.6"/><circle cx="481.75" cy="790" r="5.6"/><circle cx="486.75" cy="790" r="5.6"/><circle cx="511.25" cy="787" r="5.6"/><circle cx="471.75" cy="795" r="5.6"/><circle cx="474.25" cy="799.5" r="5.6"/><circle cx="493.75" cy="796.25" r="5.6"/><circle cx="500" cy="797" r="5.6"/><circle cx="486.25" cy="803.25" r="5.6"/><circle cx="488" cy="817.5" r="5.6"/><circle cx="486.25" cy="827" r="5.6"/><circle cx="519.25" cy="825" r="5.6"/><circle cx="496.25" cy="833.25" r="5.6"/><circle cx="508" cy="830" r="5.6"/><circle cx="510.5" cy="835" r="5.6"/><circle cx="515" cy="837.5" r="5.6"/><circle cx="519.25" cy="839.5" r="5.6"/><circle cx="498.25" cy="845.75" r="5.6"/><circle cx="507.5" cy="852" r="5.6"/><circle cx="513.75" cy="852.5" r="5.6"/><circle cx="530" cy="851.75" r="5.6"/><circle cx="512" cy="862.5" r="5.6"/><circle cx="528.75" cy="862.5" r="5.6"/><circle cx="536.25" cy="858.75" r="5.6"/><circle cx="550" cy="868.75" r="5.6"/><circle cx="546.25" cy="873.75" r="5.6"/><circle cx="551.25" cy="875" r="5.6"/><circle cx="545" cy="880" r="5.6"/><circle cx="543.75" cy="886.25" r="5.6"/><circle cx="561.75" cy="880" r="5.6"/><circle cx="541.75" cy="902.5" r="5.6"/><circle cx="567" cy="898.75" r="5.6"/><circle cx="572" cy="901.25" r="5.6"/><circle cx="565" cy="912.5" r="5.6"/><circle cx="572" cy="913.75" r="5.6"/><circle cx="576.25" cy="915" r="5.6"/><circle cx="580" cy="921.25" r="5.6"/><circle cx="586.25" cy="923.75" r="5.6"/><circle cx="557.5" cy="922.5" r="5.6"/><circle cx="565" cy="928.75" r="5.6"/><circle cx="567.5" cy="933.75" r="5.6"/><circle cx="575" cy="932" r="5.6"/><circle cx="601.25" cy="931.25" r="5.6"/><circle cx="597" cy="935" r="5.6"/><circle cx="585" cy="939.5" r="5.6"/><circle cx="579.5" cy="943.75" r="5.6"/><circle cx="567" cy="948.75" r="5.6"/><circle cx="595" cy="948" r="5.6"/><circle cx="598.75" cy="950.5" r="5.6"/><circle cx="590" cy="953.75" r="5.6"/><circle cx="607" cy="953.75" r="5.6"/><circle cx="588.75" cy="961.25" r="5.6"/><circle cx="586.25" cy="969.5" r="5.6"/><circle cx="590" cy="977" r="5.6"/><circle cx="601.25" cy="977" r="5.6"/><circle cx="606.25" cy="978.75" r="5.6"/><circle cx="588.75" cy="982.5" r="5.6"/><circle cx="603" cy="987.5" r="5.6"/><circle cx="588.25" cy="991.25" r="5.6"/></g>
<rect x="417.5" y="636" width="204.25" height="411.5" fill="none" stroke="#000" stroke-width="2.5"/>
<path d="M417.5 699h6M417.5 793.86h6M417.5 888.72h6M417.5 983.58h6" stroke="#000" stroke-width="2" fill="none"/>
<path d="M417.5 651.57h2.8M417.5 746.43h2.8M417.5 841.29h2.8M417.5 936.15h2.8M417.5 1031.01h2.8" stroke="#000" stroke-width="1.8" fill="none"/>
<path d="M508.28 1047.5v-6" stroke="#000" stroke-width="2" fill="none"/>
<text transform="translate(413.3 711.5) scale(1.0 1)" font-family='"Liberation Serif", "DejaVu Serif", serif' font-size="37" text-anchor="end" stroke="#000" stroke-width="0.3">-3</text>
<text transform="translate(413.3 806) scale(1.0 1)" font-family='"Liberation Serif", "DejaVu Serif", serif' font-size="37" text-anchor="end" stroke="#000" stroke-width="0.3">-6</text>
<text transform="translate(413.3 900) scale(1.0 1)" font-family='"Liberation Serif", "DejaVu Serif", serif' font-size="37" text-anchor="end" stroke="#000" stroke-width="0.3">-9</text>
<text transform="translate(413.3 994.5) scale(1.0 1)" font-family='"Liberation Serif", "DejaVu Serif", serif' font-size="37" text-anchor="end" stroke="#000" stroke-width="0.3">-12</text>
<text transform="translate(422.5 1079.4) scale(0.97 1)" font-family='"Liberation Serif", "DejaVu Serif", serif' font-size="36.5" text-anchor="middle" stroke="#000" stroke-width="0.3">1</text>
<text transform="translate(511 1079.4) scale(0.97 1)" font-family='"Liberation Serif", "DejaVu Serif", serif' font-size="36.5" text-anchor="middle" stroke="#000" stroke-width="0.3">5</text>
<text transform="translate(618 1079.4) scale(0.97 1)" font-family='"Liberation Serif", "DejaVu Serif", serif' font-size="36.5" text-anchor="middle" stroke="#000" stroke-width="0.3">10</text>
<text x="526" y="1118" font-family='"Liberation Serif", "DejaVu Serif", serif' font-size="42" stroke="#000" stroke-width="0.4" text-anchor="middle" textLength="48" lengthAdjust="spacingAndGlyphs">⟨<tspan font-style="italic">x</tspan>⟩</text>
<text x="0" y="0" font-family='"Liberation Serif", "DejaVu Serif", serif' font-size="31" stroke="#000" stroke-width="0.3" text-anchor="middle" textLength="366" lengthAdjust="spacingAndGlyphs" transform="translate(362.5 845) rotate(-90)">I<tspan dx=".01em">m</tspan><tspan dx=".02em">[</tspan><tspan dx=".04em" font-style="italic">j</tspan><tspan dx=".08em" dy=".14em" font-size="138%">/</tspan><tspan dx=".1em" dy="-.193em">(</tspan><tspan font-style="italic">iω</tspan>)] (× 10<tspan dy="-0.42em" font-size="72%">−8</tspan><tspan dy="0.3em">) [s </tspan><tspan dx="-.12em">· </tspan><tspan dx="-.12em">Ω</tspan><tspan dy="-0.42em" font-size="72%">−1</tspan><tspan dy="0.3em">]</tspan></text>
</g>
<g id="panel-e">
<text x="670.5" y="638.3" font-family='"Liberation Sans", "DejaVu Sans", sans-serif' font-size="50" font-weight="bold">e</text>
<defs><clipPath id="eclip"><rect x="799.25" y="640.6" width="470.75" height="406.8"/></clipPath></defs>
<g clip-path="url(#eclip)" fill="none">
<path d="M800 706.5L1269 911" stroke="#38a9e0" stroke-width="1.7" stroke-dasharray="9 5.5"/>
<path d="M800 727L1269 997" stroke="#f55d45" stroke-width="1.7" stroke-dasharray="9 5.5"/>
</g>
<g fill="none" stroke="#f55d45" stroke-width="1.45"><rect x="810.2" y="726.45" width="8.6" height="8.6"/><rect x="816.95" y="732.45" width="8.6" height="8.6"/><rect x="808.95" y="736.45" width="8.6" height="8.6"/><rect x="818.2" y="754.95" width="8.6" height="8.6"/><rect x="819.45" y="758.2" width="8.6" height="8.6"/><rect x="815.7" y="765.7" width="8.6" height="8.6"/><rect x="830.2" y="762.45" width="8.6" height="8.6"/><rect x="848.2" y="763.2" width="8.6" height="8.6"/><rect x="857.7" y="759.95" width="8.6" height="8.6"/><rect x="870.7" y="764.45" width="8.6" height="8.6"/><rect x="880.7" y="766.95" width="8.6" height="8.6"/><rect x="869.45" y="773.2" width="8.6" height="8.6"/><rect x="870.7" y="785.7" width="8.6" height="8.6"/><rect x="879.95" y="785.2" width="8.6" height="8.6"/><rect x="851.45" y="792.45" width="8.6" height="8.6"/><rect x="858.2" y="802.2" width="8.6" height="8.6"/><rect x="885.7" y="802.45" width="8.6" height="8.6"/><rect x="893.2" y="790.7" width="8.6" height="8.6"/><rect x="896.95" y="795.7" width="8.6" height="8.6"/><rect x="900.7" y="780.2" width="8.6" height="8.6"/><rect x="905.7" y="784.95" width="8.6" height="8.6"/><rect x="905.7" y="793.7" width="8.6" height="8.6"/><rect x="913.2" y="796.45" width="8.6" height="8.6"/><rect x="915.7" y="803.95" width="8.6" height="8.6"/><rect x="921.45" y="805.2" width="8.6" height="8.6"/><rect x="923.2" y="815.7" width="8.6" height="8.6"/><rect x="920.2" y="824.95" width="8.6" height="8.6"/><rect x="893.2" y="821.2" width="8.6" height="8.6"/><rect x="970.7" y="783.95" width="8.6" height="8.6"/><rect x="950.7" y="808.2" width="8.6" height="8.6"/><rect x="958.95" y="806.2" width="8.6" height="8.6"/><rect x="955.7" y="815.7" width="8.6" height="8.6"/><rect x="949.95" y="823.95" width="8.6" height="8.6"/><rect x="943.95" y="829.45" width="8.6" height="8.6"/><rect x="948.2" y="836.45" width="8.6" height="8.6"/><rect x="960.7" y="833.95" width="8.6" height="8.6"/><rect x="968.2" y="830.7" width="8.6" height="8.6"/><rect x="968.2" y="834.45" width="8.6" height="8.6"/><rect x="967.45" y="840.7" width="8.6" height="8.6"/><rect x="957.45" y="847.45" width="8.6" height="8.6"/><rect x="971.2" y="865.7" width="8.6" height="8.6"/><rect x="976.45" y="855.7" width="8.6" height="8.6"/><rect x="989.45" y="851.95" width="8.6" height="8.6"/><rect x="1001.95" y="858.7" width="8.6" height="8.6"/><rect x="1007.7" y="883.2" width="8.6" height="8.6"/><rect x="1014.45" y="875.7" width="8.6" height="8.6"/><rect x="1017.7" y="875.2" width="8.6" height="8.6"/><rect x="1033.2" y="873.95" width="8.6" height="8.6"/><rect x="1039.45" y="877.45" width="8.6" height="8.6"/><rect x="1065.7" y="882.7" width="8.6" height="8.6"/><rect x="1071.45" y="886.45" width="8.6" height="8.6"/><rect x="1063.7" y="889.45" width="8.6" height="8.6"/><rect x="1099.95" y="893.7" width="8.6" height="8.6"/><rect x="1091.2" y="898.7" width="8.6" height="8.6"/><rect x="1086.95" y="903.95" width="8.6" height="8.6"/><rect x="1098.2" y="906.45" width="8.6" height="8.6"/><rect x="1103.2" y="908.7" width="8.6" height="8.6"/><rect x="1111.45" y="901.45" width="8.6" height="8.6"/><rect x="1131.2" y="906.2" width="8.6" height="8.6"/><rect x="1084.45" y="918.2" width="8.6" height="8.6"/><rect x="1147.45" y="924.45" width="8.6" height="8.6"/><rect x="1123.95" y="928.95" width="8.6" height="8.6"/><rect x="1165.2" y="926.45" width="8.6" height="8.6"/><rect x="1156.2" y="932.45" width="8.6" height="8.6"/><rect x="1168.2" y="935.2" width="8.6" height="8.6"/><rect x="1129.45" y="938.7" width="8.6" height="8.6"/><rect x="1121.2" y="945.2" width="8.6" height="8.6"/><rect x="1136.95" y="949.45" width="8.6" height="8.6"/><rect x="1176.2" y="944.45" width="8.6" height="8.6"/><rect x="1194.95" y="948.2" width="8.6" height="8.6"/><rect x="1193.2" y="951.95" width="8.6" height="8.6"/><rect x="1199.95" y="952.7" width="8.6" height="8.6"/><rect x="1191.95" y="960.7" width="8.6" height="8.6"/><rect x="1187.45" y="966.45" width="8.6" height="8.6"/><rect x="1159.95" y="963.2" width="8.6" height="8.6"/><rect x="1210.7" y="966.2" width="8.6" height="8.6"/><rect x="1223.95" y="956.2" width="8.6" height="8.6"/><rect x="1228.95" y="956.95" width="8.6" height="8.6"/><rect x="1239.45" y="957.7" width="8.6" height="8.6"/><rect x="1254.45" y="975.7" width="8.6" height="8.6"/><rect x="1241.95" y="976.45" width="8.6" height="8.6"/><rect x="1212.45" y="980.2" width="8.6" height="8.6"/><rect x="1204.45" y="981.45" width="8.6" height="8.6"/><rect x="1243.2" y="987.45" width="8.6" height="8.6"/><rect x="1215.7" y="991.95" width="8.6" height="8.6"/><rect x="1240.7" y="995.7" width="8.6" height="8.6"/><rect x="1250.7" y="997.45" width="8.6" height="8.6"/><rect x="1247.45" y="1003.2" width="8.6" height="8.6"/><rect x="1215.7" y="1004.45" width="8.6" height="8.6"/></g>
<g fill="none" stroke="#38a9e0" stroke-width="1.5" stroke-linejoin="miter"><path d="M826.75 693.4l6 10.9h-12z"/><path d="M818.75 701.65l6 10.9h-12z"/><path d="M823.75 703.4l6 10.9h-12z"/><path d="M838 707.15l6 10.9h-12z"/><path d="M848 706.4l6 10.9h-12z"/><path d="M840 712.9l6 10.9h-12z"/><path d="M863.75 711.4l6 10.9h-12z"/><path d="M877.5 711.4l6 10.9h-12z"/><path d="M882.5 712.65l6 10.9h-12z"/><path d="M825.75 720.15l6 10.9h-12z"/><path d="M841.25 719.15l6 10.9h-12z"/><path d="M837.5 732.65l6 10.9h-12z"/><path d="M858 740.4l6 10.9h-12z"/><path d="M879.25 739.65l6 10.9h-12z"/><path d="M908.75 724.65l6 10.9h-12z"/><path d="M903.75 727.9l6 10.9h-12z"/><path d="M909.25 729.15l6 10.9h-12z"/><path d="M915 736.4l6 10.9h-12z"/><path d="M898.75 742.15l6 10.9h-12z"/><path d="M908.75 748.4l6 10.9h-12z"/><path d="M878.25 752.15l6 10.9h-12z"/><path d="M898.75 753.4l6 10.9h-12z"/><path d="M926.75 753.4l6 10.9h-12z"/><path d="M935 760.4l6 10.9h-12z"/><path d="M945 752.15l6 10.9h-12z"/><path d="M947.5 764.65l6 10.9h-12z"/><path d="M966.25 763.9l6 10.9h-12z"/><path d="M909.5 762.15l6 10.9h-12z"/><path d="M906.25 767.9l6 10.9h-12z"/><path d="M916.25 769.15l6 10.9h-12z"/><path d="M927.5 768.9l6 10.9h-12z"/><path d="M947 778.9l6 10.9h-12z"/><path d="M982 745.9l6 10.9h-12z"/><path d="M997.5 762.15l6 10.9h-12z"/><path d="M953.25 790.15l6 10.9h-12z"/><path d="M960 788.4l6 10.9h-12z"/><path d="M975 794.65l6 10.9h-12z"/><path d="M1007.5 788.4l6 10.9h-12z"/><path d="M1008 796.4l6 10.9h-12z"/><path d="M1039.25 787.15l6 10.9h-12z"/><path d="M1008.25 806.65l6 10.9h-12z"/><path d="M1015 809.65l6 10.9h-12z"/><path d="M1016.25 811.4l6 10.9h-12z"/><path d="M1015.5 818.4l6 10.9h-12z"/><path d="M1030 802.15l6 10.9h-12z"/><path d="M1036.25 803.4l6 10.9h-12z"/><path d="M1046.75 800.4l6 10.9h-12z"/><path d="M1042 812.65l6 10.9h-12z"/><path d="M1076.75 808.4l6 10.9h-12z"/><path d="M1097.5 826.65l6 10.9h-12z"/><path d="M1090.5 832.15l6 10.9h-12z"/><path d="M1107.5 825.9l6 10.9h-12z"/><path d="M1110 818.4l6 10.9h-12z"/><path d="M1113.75 822.15l6 10.9h-12z"/><path d="M1117.5 827.15l6 10.9h-12z"/><path d="M1126.25 834.15l6 10.9h-12z"/><path d="M1143.75 826.4l6 10.9h-12z"/><path d="M1150 838.4l6 10.9h-12z"/><path d="M1155.5 841.65l6 10.9h-12z"/><path d="M1089.25 850.9l6 10.9h-12z"/><path d="M1126.75 860.4l6 10.9h-12z"/><path d="M1140 852.15l6 10.9h-12z"/><path d="M1171.25 853.4l6 10.9h-12z"/><path d="M1180 855.4l6 10.9h-12z"/><path d="M1188.75 862.9l6 10.9h-12z"/><path d="M1208.75 857.15l6 10.9h-12z"/><path d="M1242.5 861.4l6 10.9h-12z"/><path d="M1237.5 867.15l6 10.9h-12z"/><path d="M1156.25 870.4l6 10.9h-12z"/><path d="M1167 869.65l6 10.9h-12z"/><path d="M1175.75 867.15l6 10.9h-12z"/><path d="M1235 875.4l6 10.9h-12z"/><path d="M1152.5 881.4l6 10.9h-12z"/><path d="M1186.75 877.15l6 10.9h-12z"/><path d="M1208 878.4l6 10.9h-12z"/><path d="M1224.5 884.15l6 10.9h-12z"/><path d="M1236.25 885.4l6 10.9h-12z"/><path d="M1258 879.65l6 10.9h-12z"/><path d="M1205 888.4l6 10.9h-12z"/><path d="M1200.75 895.4l6 10.9h-12z"/><path d="M1252.5 897.65l6 10.9h-12z"/><path d="M1243.75 899.65l6 10.9h-12z"/><path d="M1241.25 901.4l6 10.9h-12z"/><path d="M1246.25 906.4l6 10.9h-12z"/><path d="M1214.5 902.15l6 10.9h-12z"/><path d="M1208 910.4l6 10.9h-12z"/></g>
<rect x="799.25" y="640.6" width="470.75" height="406.8" fill="none" stroke="#000" stroke-width="2.6"/>
<path d="M799.25 742.06h6.5M799.25 843.82h6.5M799.25 945.58h6.5" stroke="#000" stroke-width="2" fill="none"/>
<path d="M799.25 691.18h2.8M799.25 792.94h2.8M799.25 894.7h2.8M799.25 996.46h2.8" stroke="#000" stroke-width="1.8" fill="none"/>
<path d="M1008.47 1047.4v-6.5" stroke="#000" stroke-width="2" fill="none"/>
<path d="M903.86 1047.4v-2.8M1139.24 1047.4v-2.8" stroke="#000" stroke-width="1.8" fill="none"/>
<text transform="translate(789 654) scale(1.0 1)" font-family='"Liberation Serif", "DejaVu Serif", serif' font-size="37" text-anchor="end" stroke="#000" stroke-width="0.3">0</text>
<text transform="translate(789 754.8) scale(1.0 1)" font-family='"Liberation Serif", "DejaVu Serif", serif' font-size="37" text-anchor="end" stroke="#000" stroke-width="0.3">-4</text>
<text transform="translate(789 856) scale(1.0 1)" font-family='"Liberation Serif", "DejaVu Serif", serif' font-size="37" text-anchor="end" stroke="#000" stroke-width="0.3">-8</text>
<text transform="translate(789 957.3) scale(1.0 1)" font-family='"Liberation Serif", "DejaVu Serif", serif' font-size="37" text-anchor="end" stroke="#000" stroke-width="0.3">-12</text>
<text transform="translate(789 1058) scale(1.0 1)" font-family='"Liberation Serif", "DejaVu Serif", serif' font-size="37" text-anchor="end" stroke="#000" stroke-width="0.3">-16</text>
<text transform="translate(801.3 1079.4) scale(0.97 1)" font-family='"Liberation Serif", "DejaVu Serif", serif' font-size="36.5" text-anchor="middle" stroke="#000" stroke-width="0.3">1</text>
<text transform="translate(1010 1079.4) scale(0.97 1)" font-family='"Liberation Serif", "DejaVu Serif", serif' font-size="36.5" text-anchor="middle" stroke="#000" stroke-width="0.3">5</text>
<text transform="translate(1271 1079.4) scale(0.97 1)" font-family='"Liberation Serif", "DejaVu Serif", serif' font-size="36.5" text-anchor="middle" stroke="#000" stroke-width="0.3">10</text>
<text x="1039.3" y="1118" font-family='"Liberation Serif", "DejaVu Serif", serif' font-size="42" stroke="#000" stroke-width="0.4" text-anchor="middle" textLength="48" lengthAdjust="spacingAndGlyphs">⟨<tspan font-style="italic">x</tspan>⟩</text>
<text x="0" y="0" font-family='"Liberation Serif", "DejaVu Serif", serif' font-size="31.8" stroke="#000" stroke-width="0.3" text-anchor="middle" textLength="392" lengthAdjust="spacingAndGlyphs" transform="translate(723.3 848.5) rotate(-90)">I<tspan dx=".01em">m</tspan><tspan dx=".02em">[</tspan><tspan dx=".04em" font-style="italic">j</tspan><tspan dx=".08em" dy=".14em" font-size="138%">/</tspan><tspan dx=".1em" dy="-.193em">(</tspan><tspan font-style="italic">iω</tspan>)] (× 10<tspan dy="-0.42em" font-size="72%">−8</tspan><tspan dy="0.3em">) [s </tspan><tspan dx="-.12em">· </tspan><tspan dx="-.12em">Ω</tspan><tspan dy="-0.42em" font-size="72%">−1</tspan><tspan dy="0.3em">]</tspan></text>
<rect x="1074.3" y="654.7" width="11.6" height="11.6" fill="none" stroke="#f55d45" stroke-width="2.5"/>
<path d="M1081.3 692.3l7.2 12.6h-14.4z" fill="none" stroke="#5bbde9" stroke-width="2.5" stroke-linejoin="miter"/>
<text y="668.8" font-family='"Liberation Serif", "DejaVu Serif", serif' font-size="27.5" stroke="#000" stroke-width="0.3"><tspan x="1117.8" font-style="italic">f</tspan><tspan> </tspan><tspan x="1139.5" textLength="17" lengthAdjust="spacingAndGlyphs">=</tspan><tspan> </tspan><tspan x="1166.5" textLength="39.5" lengthAdjust="spacingAndGlyphs">140</tspan><tspan> </tspan><tspan x="1215.5" textLength="42.5" lengthAdjust="spacingAndGlyphs">kHz</tspan></text>
<text y="706.3" font-family='"Liberation Serif", "DejaVu Serif", serif' font-size="27.5" stroke="#000" stroke-width="0.3"><tspan x="1117.8" font-style="italic">f</tspan><tspan> </tspan><tspan x="1139.5" textLength="17" lengthAdjust="spacingAndGlyphs">=</tspan><tspan> </tspan><tspan x="1166.5" textLength="39.5" lengthAdjust="spacingAndGlyphs">180</tspan><tspan> </tspan><tspan x="1215.5" textLength="42.5" lengthAdjust="spacingAndGlyphs">kHz</tspan></text>
</g>
<g id="panel-f">
<text x="1345" y="636.6" font-family='"Liberation Sans", "DejaVu Sans", sans-serif' font-size="50" font-weight="bold">f</text>
<defs><linearGradient id="hotcb" x1="0" y1="1" x2="0" y2="0"><stop offset="0" stop-color="#0a0000"/><stop offset="0.375" stop-color="#ff0000"/><stop offset="0.75" stop-color="#ffff00"/><stop offset="1" stop-color="#ffffff"/></linearGradient><filter id="fsoft" x="-2%" y="-2%" width="104%" height="104%"><feGaussianBlur stdDeviation="0.5"/></filter></defs>
<g filter="url(#fsoft)"><polygon points="1420.5,753.75 1790,797 1923.25,679 1553.75,635.75" fill="#0c0000"/><g stroke-width="0.6"><polygon points="1420.5,753.75 1457.45,758.08 1470.78,746.28 1433.83,741.95" fill="#330000" stroke="#330000"/><polygon points="1457.45,758.08 1494.4,762.4 1507.73,750.6 1470.78,746.28" fill="#2b0000" stroke="#2b0000"/><polygon points="1494.4,762.4 1531.35,766.73 1544.67,754.93 1507.73,750.6" fill="#230000" stroke="#230000"/><polygon points="1531.35,766.73 1568.3,771.05 1581.62,759.25 1544.67,754.93" fill="#1b0000" stroke="#1b0000"/><polygon points="1568.3,771.05 1605.25,775.38 1618.58,763.58 1581.62,759.25" fill="#120000" stroke="#120000"/><polygon points="1605.25,775.38 1642.2,779.7 1655.53,767.9 1618.58,763.58" fill="#0b0000" stroke="#0b0000"/><polygon points="1642.2,779.7 1679.15,784.02 1692.48,772.23 1655.53,767.9" fill="#090000" stroke="#090000"/><polygon points="1679.15,784.02 1716.1,788.35 1729.42,776.55 1692.48,772.23" fill="#0c0000" stroke="#0c0000"/><polygon points="1716.1,788.35 1753.05,792.67 1766.38,780.88 1729.42,776.55" fill="#080000" stroke="#080000"/><polygon points="1753.05,792.67 1790,797 1803.33,785.2 1766.38,780.88" fill="#0b0000" stroke="#0b0000"/><polygon points="1433.83,741.95 1470.78,746.28 1484.1,734.48 1447.15,730.15" fill="#290000" stroke="#290000"/><polygon points="1470.78,746.28 1507.73,750.6 1521.05,738.8 1484.1,734.48" fill="#210000" stroke="#210000"/><polygon points="1507.73,750.6 1544.67,754.93 1558,743.12 1521.05,738.8" fill="#180000" stroke="#180000"/><polygon points="1544.67,754.93 1581.62,759.25 1594.95,747.45 1558,743.12" fill="#100000" stroke="#100000"/><polygon points="1581.62,759.25 1618.58,763.58 1631.9,751.77 1594.95,747.45" fill="#080000" stroke="#080000"/><polygon points="1618.58,763.58 1655.53,767.9 1668.85,756.1 1631.9,751.77" fill="#0a0000" stroke="#0a0000"/><polygon points="1655.53,767.9 1692.48,772.23 1705.8,760.42 1668.85,756.1" fill="#0c0000" stroke="#0c0000"/><polygon points="1692.48,772.23 1729.42,776.55 1742.75,764.75 1705.8,760.42" fill="#0f0000" stroke="#0f0000"/><polygon points="1729.42,776.55 1766.38,780.88 1779.7,769.07 1742.75,764.75" fill="#0c0000" stroke="#0c0000"/><polygon points="1766.38,780.88 1803.33,785.2 1816.65,773.4 1779.7,769.07" fill="#0b0000" stroke="#0b0000"/><polygon points="1447.15,730.15 1484.1,734.48 1497.42,722.68 1460.47,718.35" fill="#1f0000" stroke="#1f0000"/><polygon points="1484.1,734.48 1521.05,738.8 1534.38,727 1497.42,722.68" fill="#160000" stroke="#160000"/><polygon points="1521.05,738.8 1558,743.12 1571.32,731.33 1534.38,727" fill="#0e0000" stroke="#0e0000"/><polygon points="1558,743.12 1594.95,747.45 1608.27,735.65 1571.32,731.33" fill="#080000" stroke="#080000"/><polygon points="1594.95,747.45 1631.9,751.77 1645.22,739.98 1608.27,735.65" fill="#080000" stroke="#080000"/><polygon points="1631.9,751.77 1668.85,756.1 1682.17,744.3 1645.22,739.98" fill="#090000" stroke="#090000"/><polygon points="1668.85,756.1 1705.8,760.42 1719.12,748.62 1682.17,744.3" fill="#0a0000" stroke="#0a0000"/><polygon points="1705.8,760.42 1742.75,764.75 1756.07,752.95 1719.12,748.62" fill="#0e0000" stroke="#0e0000"/><polygon points="1742.75,764.75 1779.7,769.07 1793.02,757.27 1756.07,752.95" fill="#090000" stroke="#090000"/><polygon points="1779.7,769.07 1816.65,773.4 1829.97,761.6 1793.02,757.27" fill="#0c0000" stroke="#0c0000"/><polygon points="1460.47,718.35 1497.42,722.68 1510.75,710.88 1473.8,706.55" fill="#0d0000" stroke="#0d0000"/><polygon points="1497.42,722.68 1534.38,727 1547.7,715.2 1510.75,710.88" fill="#0b0000" stroke="#0b0000"/><polygon points="1534.38,727 1571.32,731.33 1584.65,719.52 1547.7,715.2" fill="#0c0000" stroke="#0c0000"/><polygon points="1571.32,731.33 1608.27,735.65 1621.6,723.85 1584.65,719.52" fill="#090000" stroke="#090000"/><polygon points="1608.27,735.65 1645.22,739.98 1658.55,728.17 1621.6,723.85" fill="#090000" stroke="#090000"/><polygon points="1645.22,739.98 1682.17,744.3 1695.5,732.5 1658.55,728.17" fill="#0a0000" stroke="#0a0000"/><polygon points="1682.17,744.3 1719.12,748.62 1732.45,736.82 1695.5,732.5" fill="#0d0000" stroke="#0d0000"/><polygon points="1719.12,748.62 1756.07,752.95 1769.4,741.15 1732.45,736.82" fill="#0b0000" stroke="#0b0000"/><polygon points="1756.07,752.95 1793.02,757.27 1806.35,745.47 1769.4,741.15" fill="#0a0000" stroke="#0a0000"/><polygon points="1793.02,757.27 1829.97,761.6 1843.3,749.8 1806.35,745.47" fill="#0c0000" stroke="#0c0000"/><polygon points="1473.8,706.55 1510.75,710.88 1524.08,699.08 1487.12,694.75" fill="#0b0000" stroke="#0b0000"/><polygon points="1510.75,710.88 1547.7,715.2 1561.03,703.4 1524.08,699.08" fill="#0a0000" stroke="#0a0000"/><polygon points="1547.7,715.2 1584.65,719.52 1597.97,707.73 1561.03,703.4" fill="#0e0000" stroke="#0e0000"/><polygon points="1584.65,719.52 1621.6,723.85 1634.92,712.05 1597.97,707.73" fill="#0d0000" stroke="#0d0000"/><polygon points="1621.6,723.85 1658.55,728.17 1671.88,716.38 1634.92,712.05" fill="#0a0000" stroke="#0a0000"/><polygon points="1658.55,728.17 1695.5,732.5 1708.83,720.7 1671.88,716.38" fill="#0c0000" stroke="#0c0000"/><polygon points="1695.5,732.5 1732.45,736.82 1745.78,725.02 1708.83,720.7" fill="#0c0000" stroke="#0c0000"/><polygon points="1732.45,736.82 1769.4,741.15 1782.72,729.35 1745.78,725.02" fill="#0e0000" stroke="#0e0000"/><polygon points="1769.4,741.15 1806.35,745.47 1819.67,733.67 1782.72,729.35" fill="#0d0000" stroke="#0d0000"/><polygon points="1806.35,745.47 1843.3,749.8 1856.62,738 1819.67,733.67" fill="#0a0000" stroke="#0a0000"/><polygon points="1487.12,694.75 1524.08,699.08 1537.4,687.28 1500.45,682.95" fill="#0f0000" stroke="#0f0000"/><polygon points="1524.08,699.08 1561.03,703.4 1574.35,691.6 1537.4,687.28" fill="#090000" stroke="#090000"/><polygon points="1561.03,703.4 1597.97,707.73 1611.3,695.92 1574.35,691.6" fill="#0b0000" stroke="#0b0000"/><polygon points="1597.97,707.73 1634.92,712.05 1648.25,700.25 1611.3,695.92" fill="#0d0000" stroke="#0d0000"/><polygon points="1634.92,712.05 1671.88,716.38 1685.2,704.58 1648.25,700.25" fill="#090000" stroke="#090000"/><polygon points="1671.88,716.38 1708.83,720.7 1722.15,708.9 1685.2,704.58" fill="#0b0000" stroke="#0b0000"/><polygon points="1708.83,720.7 1745.78,725.02 1759.1,713.22 1722.15,708.9" fill="#080000" stroke="#080000"/><polygon points="1745.78,725.02 1782.72,729.35 1796.05,717.55 1759.1,713.22" fill="#0d0000" stroke="#0d0000"/><polygon points="1782.72,729.35 1819.67,733.67 1833,721.88 1796.05,717.55" fill="#0d0000" stroke="#0d0000"/><polygon points="1819.67,733.67 1856.62,738 1869.95,726.2 1833,721.88" fill="#0c0000" stroke="#0c0000"/><polygon points="1500.45,682.95 1537.4,687.28 1550.73,675.48 1513.78,671.15" fill="#0e0000" stroke="#0e0000"/><polygon points="1537.4,687.28 1574.35,691.6 1587.68,679.8 1550.73,675.48" fill="#0a0000" stroke="#0a0000"/><polygon points="1574.35,691.6 1611.3,695.92 1624.62,684.12 1587.68,679.8" fill="#0d0000" stroke="#0d0000"/><polygon points="1611.3,695.92 1648.25,700.25 1661.58,688.45 1624.62,684.12" fill="#0c0000" stroke="#0c0000"/><polygon points="1648.25,700.25 1685.2,704.58 1698.53,692.77 1661.58,688.45" fill="#0c0000" stroke="#0c0000"/><polygon points="1685.2,704.58 1722.15,708.9 1735.48,697.1 1698.53,692.77" fill="#0b0000" stroke="#0b0000"/><polygon points="1722.15,708.9 1759.1,713.22 1772.43,701.42 1735.48,697.1" fill="#0e0000" stroke="#0e0000"/><polygon points="1759.1,713.22 1796.05,717.55 1809.38,705.75 1772.43,701.42" fill="#0f0000" stroke="#0f0000"/><polygon points="1796.05,717.55 1833,721.88 1846.33,710.07 1809.38,705.75" fill="#0b0000" stroke="#0b0000"/><polygon points="1833,721.88 1869.95,726.2 1883.28,714.4 1846.33,710.07" fill="#0d0000" stroke="#0d0000"/><polygon points="1513.78,671.15 1550.73,675.48 1564.05,663.68 1527.1,659.35" fill="#090000" stroke="#090000"/><polygon points="1550.73,675.48 1587.68,679.8 1601,668 1564.05,663.68" fill="#0d0000" stroke="#0d0000"/><polygon points="1587.68,679.8 1624.62,684.12 1637.95,672.33 1601,668" fill="#0d0000" stroke="#0d0000"/><polygon points="1624.62,684.12 1661.58,688.45 1674.9,676.65 1637.95,672.33" fill="#0f0000" stroke="#0f0000"/><polygon points="1661.58,688.45 1698.53,692.77 1711.85,680.98 1674.9,676.65" fill="#0e0000" stroke="#0e0000"/><polygon points="1698.53,692.77 1735.48,697.1 1748.8,685.3 1711.85,680.98" fill="#0a0000" stroke="#0a0000"/><polygon points="1735.48,697.1 1772.43,701.42 1785.75,689.62 1748.8,685.3" fill="#0b0000" stroke="#0b0000"/><polygon points="1772.43,701.42 1809.38,705.75 1822.7,693.95 1785.75,689.62" fill="#0e0000" stroke="#0e0000"/><polygon points="1809.38,705.75 1846.33,710.07 1859.65,698.27 1822.7,693.95" fill="#110000" stroke="#110000"/><polygon points="1846.33,710.07 1883.28,714.4 1896.6,702.6 1859.65,698.27" fill="#140000" stroke="#140000"/><polygon points="1527.1,659.35 1564.05,663.68 1577.38,651.88 1540.42,647.55" fill="#090000" stroke="#090000"/><polygon points="1564.05,663.68 1601,668 1614.33,656.2 1577.38,651.88" fill="#090000" stroke="#090000"/><polygon points="1601,668 1637.95,672.33 1651.27,660.52 1614.33,656.2" fill="#090000" stroke="#090000"/><polygon points="1637.95,672.33 1674.9,676.65 1688.22,664.85 1651.27,660.52" fill="#0d0000" stroke="#0d0000"/><polygon points="1674.9,676.65 1711.85,680.98 1725.17,669.17 1688.22,664.85" fill="#090000" stroke="#090000"/><polygon points="1711.85,680.98 1748.8,685.3 1762.12,673.5 1725.17,669.17" fill="#0a0000" stroke="#0a0000"/><polygon points="1748.8,685.3 1785.75,689.62 1799.08,677.82 1762.12,673.5" fill="#0b0000" stroke="#0b0000"/><polygon points="1785.75,689.62 1822.7,693.95 1836.02,682.15 1799.08,677.82" fill="#290000" stroke="#290000"/><polygon points="1822.7,693.95 1859.65,698.27 1872.97,686.47 1836.02,682.15" fill="#ff3300" stroke="#ff3300"/><polygon points="1859.65,698.27 1896.6,702.6 1909.92,690.8 1872.97,686.47" fill="#1f0000" stroke="#1f0000"/><polygon points="1540.42,647.55 1577.38,651.88 1590.7,640.08 1553.75,635.75" fill="#0c0000" stroke="#0c0000"/><polygon points="1577.38,651.88 1614.33,656.2 1627.65,644.4 1590.7,640.08" fill="#0e0000" stroke="#0e0000"/><polygon points="1614.33,656.2 1651.27,660.52 1664.6,648.73 1627.65,644.4" fill="#0e0000" stroke="#0e0000"/><polygon points="1651.27,660.52 1688.22,664.85 1701.55,653.05 1664.6,648.73" fill="#0e0000" stroke="#0e0000"/><polygon points="1688.22,664.85 1725.17,669.17 1738.5,657.38 1701.55,653.05" fill="#0a0000" stroke="#0a0000"/><polygon points="1725.17,669.17 1762.12,673.5 1775.45,661.7 1738.5,657.38" fill="#0b0000" stroke="#0b0000"/><polygon points="1762.12,673.5 1799.08,677.82 1812.4,666.02 1775.45,661.7" fill="#0b0000" stroke="#0b0000"/><polygon points="1799.08,677.82 1836.02,682.15 1849.35,670.35 1812.4,666.02" fill="#0e0000" stroke="#0e0000"/><polygon points="1836.02,682.15 1872.97,686.47 1886.3,674.67 1849.35,670.35" fill="#140000" stroke="#140000"/><polygon points="1872.97,686.47 1909.92,690.8 1923.25,679 1886.3,674.67" fill="#090000" stroke="#090000"/></g></g>
<text y="0" font-family='"Liberation Serif", "DejaVu Serif", serif' font-size="27.5" fill="#fff" stroke="#fff" stroke-width="0.35" transform="translate(1548.5 663.4) rotate(5.8)"><tspan x="0" font-style="italic">f</tspan><tspan x="10.5" dy="3.5" font-size="80%">r</tspan><tspan> </tspan><tspan x="27.5" dy="-3.5" textLength="16.5" lengthAdjust="spacingAndGlyphs">=</tspan><tspan> </tspan><tspan x="53.5" textLength="39" lengthAdjust="spacingAndGlyphs">151</tspan><tspan> </tspan><tspan x="101" textLength="41.5" lengthAdjust="spacingAndGlyphs">kHz</tspan></text>
<g filter="url(#fsoft)"><polygon points="1420.5,893.05 1790,936.3 1923.25,818.3 1553.75,775.05" fill="#0c0000"/><g stroke-width="0.6"><polygon points="1420.5,893.05 1457.45,897.38 1470.78,885.58 1433.83,881.25" fill="#290000" stroke="#290000"/><polygon points="1457.45,897.38 1494.4,901.7 1507.73,889.9 1470.78,885.58" fill="#210000" stroke="#210000"/><polygon points="1494.4,901.7 1531.35,906.02 1544.67,894.23 1507.73,889.9" fill="#180000" stroke="#180000"/><polygon points="1531.35,906.02 1568.3,910.35 1581.62,898.55 1544.67,894.23" fill="#100000" stroke="#100000"/><polygon points="1568.3,910.35 1605.25,914.67 1618.58,902.88 1581.62,898.55" fill="#090000" stroke="#090000"/><polygon points="1605.25,914.67 1642.2,919 1655.53,907.2 1618.58,902.88" fill="#0a0000" stroke="#0a0000"/><polygon points="1642.2,919 1679.15,923.32 1692.48,911.52 1655.53,907.2" fill="#0f0000" stroke="#0f0000"/><polygon points="1679.15,923.32 1716.1,927.65 1729.42,915.85 1692.48,911.52" fill="#0a0000" stroke="#0a0000"/><polygon points="1716.1,927.65 1753.05,931.97 1766.38,920.17 1729.42,915.85" fill="#0d0000" stroke="#0d0000"/><polygon points="1753.05,931.97 1790,936.3 1803.33,924.5 1766.38,920.17" fill="#0b0000" stroke="#0b0000"/><polygon points="1433.83,881.25 1470.78,885.58 1484.1,873.77 1447.15,869.45" fill="#210000" stroke="#210000"/><polygon points="1470.78,885.58 1507.73,889.9 1521.05,878.1 1484.1,873.77" fill="#180000" stroke="#180000"/><polygon points="1507.73,889.9 1544.67,894.23 1558,882.42 1521.05,878.1" fill="#100000" stroke="#100000"/><polygon points="1544.67,894.23 1581.62,898.55 1594.95,886.75 1558,882.42" fill="#080000" stroke="#080000"/><polygon points="1581.62,898.55 1618.58,902.88 1631.9,891.07 1594.95,886.75" fill="#090000" stroke="#090000"/><polygon points="1618.58,902.88 1655.53,907.2 1668.85,895.4 1631.9,891.07" fill="#0a0000" stroke="#0a0000"/><polygon points="1655.53,907.2 1692.48,911.52 1705.8,899.72 1668.85,895.4" fill="#080000" stroke="#080000"/><polygon points="1692.48,911.52 1729.42,915.85 1742.75,904.05 1705.8,899.72" fill="#0a0000" stroke="#0a0000"/><polygon points="1729.42,915.85 1766.38,920.17 1779.7,908.37 1742.75,904.05" fill="#0b0000" stroke="#0b0000"/><polygon points="1766.38,920.17 1803.33,924.5 1816.65,912.7 1779.7,908.37" fill="#0e0000" stroke="#0e0000"/><polygon points="1447.15,869.45 1484.1,873.77 1497.42,861.98 1460.47,857.65" fill="#180000" stroke="#180000"/><polygon points="1484.1,873.77 1521.05,878.1 1534.38,866.3 1497.42,861.98" fill="#100000" stroke="#100000"/><polygon points="1521.05,878.1 1558,882.42 1571.32,870.62 1534.38,866.3" fill="#080000" stroke="#080000"/><polygon points="1558,882.42 1594.95,886.75 1608.27,874.95 1571.32,870.62" fill="#080000" stroke="#080000"/><polygon points="1594.95,886.75 1631.9,891.07 1645.22,879.27 1608.27,874.95" fill="#090000" stroke="#090000"/><polygon points="1631.9,891.07 1668.85,895.4 1682.17,883.6 1645.22,879.27" fill="#0c0000" stroke="#0c0000"/><polygon points="1668.85,895.4 1705.8,899.72 1719.12,887.92 1682.17,883.6" fill="#0b0000" stroke="#0b0000"/><polygon points="1705.8,899.72 1742.75,904.05 1756.07,892.25 1719.12,887.92" fill="#0d0000" stroke="#0d0000"/><polygon points="1742.75,904.05 1779.7,908.37 1793.02,896.57 1756.07,892.25" fill="#0a0000" stroke="#0a0000"/><polygon points="1779.7,908.37 1816.65,912.7 1829.97,900.9 1793.02,896.57" fill="#0d0000" stroke="#0d0000"/><polygon points="1460.47,857.65 1497.42,861.98 1510.75,850.17 1473.8,845.85" fill="#0c0000" stroke="#0c0000"/><polygon points="1497.42,861.98 1534.38,866.3 1547.7,854.5 1510.75,850.17" fill="#0d0000" stroke="#0d0000"/><polygon points="1534.38,866.3 1571.32,870.62 1584.65,858.82 1547.7,854.5" fill="#0e0000" stroke="#0e0000"/><polygon points="1571.32,870.62 1608.27,874.95 1621.6,863.15 1584.65,858.82" fill="#180000" stroke="#180000"/><polygon points="1608.27,874.95 1645.22,879.27 1658.55,867.47 1621.6,863.15" fill="#1b0000" stroke="#1b0000"/><polygon points="1645.22,879.27 1682.17,883.6 1695.5,871.8 1658.55,867.47" fill="#140000" stroke="#140000"/><polygon points="1682.17,883.6 1719.12,887.92 1732.45,876.12 1695.5,871.8" fill="#0f0000" stroke="#0f0000"/><polygon points="1719.12,887.92 1756.07,892.25 1769.4,880.45 1732.45,876.12" fill="#0b0000" stroke="#0b0000"/><polygon points="1756.07,892.25 1793.02,896.57 1806.35,884.77 1769.4,880.45" fill="#090000" stroke="#090000"/><polygon points="1793.02,896.57 1829.97,900.9 1843.3,889.1 1806.35,884.77" fill="#0f0000" stroke="#0f0000"/><polygon points="1473.8,845.85 1510.75,850.17 1524.08,838.38 1487.12,834.05" fill="#0c0000" stroke="#0c0000"/><polygon points="1510.75,850.17 1547.7,854.5 1561.03,842.7 1524.08,838.38" fill="#0d0000" stroke="#0d0000"/><polygon points="1547.7,854.5 1584.65,858.82 1597.97,847.02 1561.03,842.7" fill="#1b0000" stroke="#1b0000"/><polygon points="1584.65,858.82 1621.6,863.15 1634.92,851.35 1597.97,847.02" fill="#470000" stroke="#470000"/><polygon points="1621.6,863.15 1658.55,867.47 1671.88,855.67 1634.92,851.35" fill="#ffb000" stroke="#ffb000"/><polygon points="1658.55,867.47 1695.5,871.8 1708.83,860 1671.88,855.67" fill="#3d0000" stroke="#3d0000"/><polygon points="1695.5,871.8 1732.45,876.12 1745.78,864.32 1708.83,860" fill="#140000" stroke="#140000"/><polygon points="1732.45,876.12 1769.4,880.45 1782.72,868.65 1745.78,864.32" fill="#0d0000" stroke="#0d0000"/><polygon points="1769.4,880.45 1806.35,884.77 1819.67,872.97 1782.72,868.65" fill="#090000" stroke="#090000"/><polygon points="1806.35,884.77 1843.3,889.1 1856.62,877.3 1819.67,872.97" fill="#0d0000" stroke="#0d0000"/><polygon points="1487.12,834.05 1524.08,838.38 1537.4,826.58 1500.45,822.25" fill="#0d0000" stroke="#0d0000"/><polygon points="1524.08,838.38 1561.03,842.7 1574.35,830.9 1537.4,826.58" fill="#0f0000" stroke="#0f0000"/><polygon points="1561.03,842.7 1597.97,847.02 1611.3,835.22 1574.35,830.9" fill="#140000" stroke="#140000"/><polygon points="1597.97,847.02 1634.92,851.35 1648.25,839.55 1611.3,835.22" fill="#1b0000" stroke="#1b0000"/><polygon points="1634.92,851.35 1671.88,855.67 1685.2,843.88 1648.25,839.55" fill="#1f0000" stroke="#1f0000"/><polygon points="1671.88,855.67 1708.83,860 1722.15,848.2 1685.2,843.88" fill="#180000" stroke="#180000"/><polygon points="1708.83,860 1745.78,864.32 1759.1,852.52 1722.15,848.2" fill="#0c0000" stroke="#0c0000"/><polygon points="1745.78,864.32 1782.72,868.65 1796.05,856.85 1759.1,852.52" fill="#0c0000" stroke="#0c0000"/><polygon points="1782.72,868.65 1819.67,872.97 1833,861.17 1796.05,856.85" fill="#090000" stroke="#090000"/><polygon points="1819.67,872.97 1856.62,877.3 1869.95,865.5 1833,861.17" fill="#0e0000" stroke="#0e0000"/><polygon points="1500.45,822.25 1537.4,826.58 1550.73,814.77 1513.78,810.45" fill="#0c0000" stroke="#0c0000"/><polygon points="1537.4,826.58 1574.35,830.9 1587.68,819.1 1550.73,814.77" fill="#0d0000" stroke="#0d0000"/><polygon points="1574.35,830.9 1611.3,835.22 1624.62,823.42 1587.68,819.1" fill="#0a0000" stroke="#0a0000"/><polygon points="1611.3,835.22 1648.25,839.55 1661.58,827.75 1624.62,823.42" fill="#0a0000" stroke="#0a0000"/><polygon points="1648.25,839.55 1685.2,843.88 1698.53,832.07 1661.58,827.75" fill="#080000" stroke="#080000"/><polygon points="1685.2,843.88 1722.15,848.2 1735.48,836.4 1698.53,832.07" fill="#0a0000" stroke="#0a0000"/><polygon points="1722.15,848.2 1759.1,852.52 1772.43,840.72 1735.48,836.4" fill="#0a0000" stroke="#0a0000"/><polygon points="1759.1,852.52 1796.05,856.85 1809.38,845.05 1772.43,840.72" fill="#0b0000" stroke="#0b0000"/><polygon points="1796.05,856.85 1833,861.17 1846.33,849.37 1809.38,845.05" fill="#0b0000" stroke="#0b0000"/><polygon points="1833,861.17 1869.95,865.5 1883.28,853.7 1846.33,849.37" fill="#0e0000" stroke="#0e0000"/><polygon points="1513.78,810.45 1550.73,814.77 1564.05,802.98 1527.1,798.65" fill="#0e0000" stroke="#0e0000"/><polygon points="1550.73,814.77 1587.68,819.1 1601,807.3 1564.05,802.98" fill="#090000" stroke="#090000"/><polygon points="1587.68,819.1 1624.62,823.42 1637.95,811.62 1601,807.3" fill="#0b0000" stroke="#0b0000"/><polygon points="1624.62,823.42 1661.58,827.75 1674.9,815.95 1637.95,811.62" fill="#090000" stroke="#090000"/><polygon points="1661.58,827.75 1698.53,832.07 1711.85,820.27 1674.9,815.95" fill="#0d0000" stroke="#0d0000"/><polygon points="1698.53,832.07 1735.48,836.4 1748.8,824.6 1711.85,820.27" fill="#0f0000" stroke="#0f0000"/><polygon points="1735.48,836.4 1772.43,840.72 1785.75,828.92 1748.8,824.6" fill="#0a0000" stroke="#0a0000"/><polygon points="1772.43,840.72 1809.38,845.05 1822.7,833.25 1785.75,828.92" fill="#0d0000" stroke="#0d0000"/><polygon points="1809.38,845.05 1846.33,849.37 1859.65,837.57 1822.7,833.25" fill="#0a0000" stroke="#0a0000"/><polygon points="1846.33,849.37 1883.28,853.7 1896.6,841.9 1859.65,837.57" fill="#080000" stroke="#080000"/><polygon points="1527.1,798.65 1564.05,802.98 1577.38,791.17 1540.42,786.85" fill="#0d0000" stroke="#0d0000"/><polygon points="1564.05,802.98 1601,807.3 1614.33,795.5 1577.38,791.17" fill="#0a0000" stroke="#0a0000"/><polygon points="1601,807.3 1637.95,811.62 1651.27,799.82 1614.33,795.5" fill="#090000" stroke="#090000"/><polygon points="1637.95,811.62 1674.9,815.95 1688.22,804.15 1651.27,799.82" fill="#0b0000" stroke="#0b0000"/><polygon points="1674.9,815.95 1711.85,820.27 1725.17,808.47 1688.22,804.15" fill="#0a0000" stroke="#0a0000"/><polygon points="1711.85,820.27 1748.8,824.6 1762.12,812.8 1725.17,808.47" fill="#0b0000" stroke="#0b0000"/><polygon points="1748.8,824.6 1785.75,828.92 1799.08,817.12 1762.12,812.8" fill="#0b0000" stroke="#0b0000"/><polygon points="1785.75,828.92 1822.7,833.25 1836.02,821.45 1799.08,817.12" fill="#0b0000" stroke="#0b0000"/><polygon points="1822.7,833.25 1859.65,837.57 1872.97,825.77 1836.02,821.45" fill="#0c0000" stroke="#0c0000"/><polygon points="1859.65,837.57 1896.6,841.9 1909.92,830.1 1872.97,825.77" fill="#0a0000" stroke="#0a0000"/><polygon points="1540.42,786.85 1577.38,791.17 1590.7,779.38 1553.75,775.05" fill="#090000" stroke="#090000"/><polygon points="1577.38,791.17 1614.33,795.5 1627.65,783.7 1590.7,779.38" fill="#090000" stroke="#090000"/><polygon points="1614.33,795.5 1651.27,799.82 1664.6,788.02 1627.65,783.7" fill="#090000" stroke="#090000"/><polygon points="1651.27,799.82 1688.22,804.15 1701.55,792.35 1664.6,788.02" fill="#0c0000" stroke="#0c0000"/><polygon points="1688.22,804.15 1725.17,808.47 1738.5,796.67 1701.55,792.35" fill="#0b0000" stroke="#0b0000"/><polygon points="1725.17,808.47 1762.12,812.8 1775.45,801 1738.5,796.67" fill="#0e0000" stroke="#0e0000"/><polygon points="1762.12,812.8 1799.08,817.12 1812.4,805.32 1775.45,801" fill="#0c0000" stroke="#0c0000"/><polygon points="1799.08,817.12 1836.02,821.45 1849.35,809.65 1812.4,805.32" fill="#0d0000" stroke="#0d0000"/><polygon points="1836.02,821.45 1872.97,825.77 1886.3,813.97 1849.35,809.65" fill="#0f0000" stroke="#0f0000"/><polygon points="1872.97,825.77 1909.92,830.1 1923.25,818.3 1886.3,813.97" fill="#090000" stroke="#090000"/></g></g>
<text y="0" font-family='"Liberation Serif", "DejaVu Serif", serif' font-size="27.5" fill="#fff" stroke="#fff" stroke-width="0.35" transform="translate(1548.5 802.7) rotate(5.8)"><tspan x="0" font-style="italic">f</tspan><tspan x="10.5" dy="3.5" font-size="80%">r</tspan><tspan> </tspan><tspan x="27.5" dy="-3.5" textLength="16.5" lengthAdjust="spacingAndGlyphs">=</tspan><tspan> </tspan><tspan x="53.5" textLength="39" lengthAdjust="spacingAndGlyphs">179</tspan><tspan> </tspan><tspan x="101" textLength="41.5" lengthAdjust="spacingAndGlyphs">kHz</tspan></text>
<g filter="url(#fsoft)"><polygon points="1420.5,1032.35 1790,1075.6 1923.25,957.6 1553.75,914.35" fill="#0c0000"/><g stroke-width="0.6"><polygon points="1420.5,1032.35 1457.45,1036.67 1470.78,1024.88 1433.83,1020.55" fill="#300000" stroke="#300000"/><polygon points="1457.45,1036.67 1494.4,1041 1507.73,1029.2 1470.78,1024.88" fill="#330000" stroke="#330000"/><polygon points="1494.4,1041 1531.35,1045.32 1544.67,1033.52 1507.73,1029.2" fill="#290000" stroke="#290000"/><polygon points="1531.35,1045.32 1568.3,1049.65 1581.62,1037.85 1544.67,1033.52" fill="#220000" stroke="#220000"/><polygon points="1568.3,1049.65 1605.25,1053.97 1618.58,1042.17 1581.62,1037.85" fill="#140000" stroke="#140000"/><polygon points="1605.25,1053.97 1642.2,1058.3 1655.53,1046.5 1618.58,1042.17" fill="#0c0000" stroke="#0c0000"/><polygon points="1642.2,1058.3 1679.15,1062.62 1692.48,1050.83 1655.53,1046.5" fill="#0e0000" stroke="#0e0000"/><polygon points="1679.15,1062.62 1716.1,1066.95 1729.42,1055.15 1692.48,1050.83" fill="#090000" stroke="#090000"/><polygon points="1716.1,1066.95 1753.05,1071.27 1766.38,1059.47 1729.42,1055.15" fill="#0c0000" stroke="#0c0000"/><polygon points="1753.05,1071.27 1790,1075.6 1803.33,1063.8 1766.38,1059.47" fill="#0c0000" stroke="#0c0000"/><polygon points="1433.83,1020.55 1470.78,1024.88 1484.1,1013.07 1447.15,1008.75" fill="#c50000" stroke="#c50000"/><polygon points="1470.78,1024.88 1507.73,1029.2 1521.05,1017.4 1484.1,1013.07" fill="#ffff9e" stroke="#ffff9e"/><polygon points="1507.73,1029.2 1544.67,1033.52 1558,1021.72 1521.05,1017.4" fill="#880000" stroke="#880000"/><polygon points="1544.67,1033.52 1581.62,1037.85 1594.95,1026.05 1558,1021.72" fill="#330000" stroke="#330000"/><polygon points="1581.62,1037.85 1618.58,1042.17 1631.9,1030.38 1594.95,1026.05" fill="#1b0000" stroke="#1b0000"/><polygon points="1618.58,1042.17 1655.53,1046.5 1668.85,1034.7 1631.9,1030.38" fill="#090000" stroke="#090000"/><polygon points="1655.53,1046.5 1692.48,1050.83 1705.8,1039.03 1668.85,1034.7" fill="#0a0000" stroke="#0a0000"/><polygon points="1692.48,1050.83 1729.42,1055.15 1742.75,1043.35 1705.8,1039.03" fill="#090000" stroke="#090000"/><polygon points="1729.42,1055.15 1766.38,1059.47 1779.7,1047.67 1742.75,1043.35" fill="#0c0000" stroke="#0c0000"/><polygon points="1766.38,1059.47 1803.33,1063.8 1816.65,1052 1779.7,1047.67" fill="#0e0000" stroke="#0e0000"/><polygon points="1447.15,1008.75 1484.1,1013.07 1497.42,1001.27 1460.47,996.95" fill="#3d0000" stroke="#3d0000"/><polygon points="1484.1,1013.07 1521.05,1017.4 1534.38,1005.6 1497.42,1001.27" fill="#440000" stroke="#440000"/><polygon points="1521.05,1017.4 1558,1021.72 1571.32,1009.92 1534.38,1005.6" fill="#3a0000" stroke="#3a0000"/><polygon points="1558,1021.72 1594.95,1026.05 1608.27,1014.25 1571.32,1009.92" fill="#220000" stroke="#220000"/><polygon points="1594.95,1026.05 1631.9,1030.38 1645.22,1018.57 1608.27,1014.25" fill="#090000" stroke="#090000"/><polygon points="1631.9,1030.38 1668.85,1034.7 1682.17,1022.9 1645.22,1018.57" fill="#0a0000" stroke="#0a0000"/><polygon points="1668.85,1034.7 1705.8,1039.03 1719.12,1027.22 1682.17,1022.9" fill="#0d0000" stroke="#0d0000"/><polygon points="1705.8,1039.03 1742.75,1043.35 1756.07,1031.55 1719.12,1027.22" fill="#0d0000" stroke="#0d0000"/><polygon points="1742.75,1043.35 1779.7,1047.67 1793.02,1035.87 1756.07,1031.55" fill="#0b0000" stroke="#0b0000"/><polygon points="1779.7,1047.67 1816.65,1052 1829.97,1040.2 1793.02,1035.87" fill="#090000" stroke="#090000"/><polygon points="1460.47,996.95 1497.42,1001.27 1510.75,989.47 1473.8,985.15" fill="#220000" stroke="#220000"/><polygon points="1497.42,1001.27 1534.38,1005.6 1547.7,993.8 1510.75,989.47" fill="#220000" stroke="#220000"/><polygon points="1534.38,1005.6 1571.32,1009.92 1584.65,998.12 1547.7,993.8" fill="#180000" stroke="#180000"/><polygon points="1571.32,1009.92 1608.27,1014.25 1621.6,1002.45 1584.65,998.12" fill="#0e0000" stroke="#0e0000"/><polygon points="1608.27,1014.25 1645.22,1018.57 1658.55,1006.77 1621.6,1002.45" fill="#0a0000" stroke="#0a0000"/><polygon points="1645.22,1018.57 1682.17,1022.9 1695.5,1011.1 1658.55,1006.77" fill="#0e0000" stroke="#0e0000"/><polygon points="1682.17,1022.9 1719.12,1027.22 1732.45,1015.42 1695.5,1011.1" fill="#0e0000" stroke="#0e0000"/><polygon points="1719.12,1027.22 1756.07,1031.55 1769.4,1019.75 1732.45,1015.42" fill="#090000" stroke="#090000"/><polygon points="1756.07,1031.55 1793.02,1035.87 1806.35,1024.07 1769.4,1019.75" fill="#0b0000" stroke="#0b0000"/><polygon points="1793.02,1035.87 1829.97,1040.2 1843.3,1028.4 1806.35,1024.07" fill="#0c0000" stroke="#0c0000"/><polygon points="1473.8,985.15 1510.75,989.47 1524.08,977.67 1487.12,973.35" fill="#080000" stroke="#080000"/><polygon points="1510.75,989.47 1547.7,993.8 1561.03,982 1524.08,977.67" fill="#0b0000" stroke="#0b0000"/><polygon points="1547.7,993.8 1584.65,998.12 1597.97,986.32 1561.03,982" fill="#0e0000" stroke="#0e0000"/><polygon points="1584.65,998.12 1621.6,1002.45 1634.92,990.65 1597.97,986.32" fill="#090000" stroke="#090000"/><polygon points="1621.6,1002.45 1658.55,1006.77 1671.88,994.97 1634.92,990.65" fill="#0c0000" stroke="#0c0000"/><polygon points="1658.55,1006.77 1695.5,1011.1 1708.83,999.3 1671.88,994.97" fill="#090000" stroke="#090000"/><polygon points="1695.5,1011.1 1732.45,1015.42 1745.78,1003.62 1708.83,999.3" fill="#0c0000" stroke="#0c0000"/><polygon points="1732.45,1015.42 1769.4,1019.75 1782.72,1007.95 1745.78,1003.62" fill="#0e0000" stroke="#0e0000"/><polygon points="1769.4,1019.75 1806.35,1024.07 1819.67,1012.27 1782.72,1007.95" fill="#0a0000" stroke="#0a0000"/><polygon points="1806.35,1024.07 1843.3,1028.4 1856.62,1016.6 1819.67,1012.27" fill="#080000" stroke="#080000"/><polygon points="1487.12,973.35 1524.08,977.67 1537.4,965.88 1500.45,961.55" fill="#090000" stroke="#090000"/><polygon points="1524.08,977.67 1561.03,982 1574.35,970.2 1537.4,965.88" fill="#0c0000" stroke="#0c0000"/><polygon points="1561.03,982 1597.97,986.32 1611.3,974.52 1574.35,970.2" fill="#080000" stroke="#080000"/><polygon points="1597.97,986.32 1634.92,990.65 1648.25,978.85 1611.3,974.52" fill="#090000" stroke="#090000"/><polygon points="1634.92,990.65 1671.88,994.97 1685.2,983.17 1648.25,978.85" fill="#0c0000" stroke="#0c0000"/><polygon points="1671.88,994.97 1708.83,999.3 1722.15,987.5 1685.2,983.17" fill="#0e0000" stroke="#0e0000"/><polygon points="1708.83,999.3 1745.78,1003.62 1759.1,991.83 1722.15,987.5" fill="#0b0000" stroke="#0b0000"/><polygon points="1745.78,1003.62 1782.72,1007.95 1796.05,996.15 1759.1,991.83" fill="#0b0000" stroke="#0b0000"/><polygon points="1782.72,1007.95 1819.67,1012.27 1833,1000.47 1796.05,996.15" fill="#0d0000" stroke="#0d0000"/><polygon points="1819.67,1012.27 1856.62,1016.6 1869.95,1004.8 1833,1000.47" fill="#090000" stroke="#090000"/><polygon points="1500.45,961.55 1537.4,965.88 1550.73,954.07 1513.78,949.75" fill="#0c0000" stroke="#0c0000"/><polygon points="1537.4,965.88 1574.35,970.2 1587.68,958.4 1550.73,954.07" fill="#090000" stroke="#090000"/><polygon points="1574.35,970.2 1611.3,974.52 1624.62,962.72 1587.68,958.4" fill="#0c0000" stroke="#0c0000"/><polygon points="1611.3,974.52 1648.25,978.85 1661.58,967.05 1624.62,962.72" fill="#0f0000" stroke="#0f0000"/><polygon points="1648.25,978.85 1685.2,983.17 1698.53,971.37 1661.58,967.05" fill="#090000" stroke="#090000"/><polygon points="1685.2,983.17 1722.15,987.5 1735.48,975.7 1698.53,971.37" fill="#0c0000" stroke="#0c0000"/><polygon points="1722.15,987.5 1759.1,991.83 1772.43,980.02 1735.48,975.7" fill="#0c0000" stroke="#0c0000"/><polygon points="1759.1,991.83 1796.05,996.15 1809.38,984.35 1772.43,980.02" fill="#090000" stroke="#090000"/><polygon points="1796.05,996.15 1833,1000.47 1846.33,988.67 1809.38,984.35" fill="#0a0000" stroke="#0a0000"/><polygon points="1833,1000.47 1869.95,1004.8 1883.28,993 1846.33,988.67" fill="#0f0000" stroke="#0f0000"/><polygon points="1513.78,949.75 1550.73,954.07 1564.05,942.27 1527.1,937.95" fill="#0f0000" stroke="#0f0000"/><polygon points="1550.73,954.07 1587.68,958.4 1601,946.6 1564.05,942.27" fill="#090000" stroke="#090000"/><polygon points="1587.68,958.4 1624.62,962.72 1637.95,950.92 1601,946.6" fill="#0d0000" stroke="#0d0000"/><polygon points="1624.62,962.72 1661.58,967.05 1674.9,955.25 1637.95,950.92" fill="#0f0000" stroke="#0f0000"/><polygon points="1661.58,967.05 1698.53,971.37 1711.85,959.57 1674.9,955.25" fill="#0a0000" stroke="#0a0000"/><polygon points="1698.53,971.37 1735.48,975.7 1748.8,963.9 1711.85,959.57" fill="#0c0000" stroke="#0c0000"/><polygon points="1735.48,975.7 1772.43,980.02 1785.75,968.23 1748.8,963.9" fill="#080000" stroke="#080000"/><polygon points="1772.43,980.02 1809.38,984.35 1822.7,972.55 1785.75,968.23" fill="#0b0000" stroke="#0b0000"/><polygon points="1809.38,984.35 1846.33,988.67 1859.65,976.87 1822.7,972.55" fill="#0d0000" stroke="#0d0000"/><polygon points="1846.33,988.67 1883.28,993 1896.6,981.2 1859.65,976.87" fill="#0c0000" stroke="#0c0000"/><polygon points="1527.1,937.95 1564.05,942.27 1577.38,930.47 1540.42,926.15" fill="#0d0000" stroke="#0d0000"/><polygon points="1564.05,942.27 1601,946.6 1614.33,934.8 1577.38,930.47" fill="#090000" stroke="#090000"/><polygon points="1601,946.6 1637.95,950.92 1651.27,939.12 1614.33,934.8" fill="#0b0000" stroke="#0b0000"/><polygon points="1637.95,950.92 1674.9,955.25 1688.22,943.45 1651.27,939.12" fill="#0e0000" stroke="#0e0000"/><polygon points="1674.9,955.25 1711.85,959.57 1725.17,947.77 1688.22,943.45" fill="#0c0000" stroke="#0c0000"/><polygon points="1711.85,959.57 1748.8,963.9 1762.12,952.1 1725.17,947.77" fill="#0b0000" stroke="#0b0000"/><polygon points="1748.8,963.9 1785.75,968.23 1799.08,956.42 1762.12,952.1" fill="#0b0000" stroke="#0b0000"/><polygon points="1785.75,968.23 1822.7,972.55 1836.02,960.75 1799.08,956.42" fill="#0f0000" stroke="#0f0000"/><polygon points="1822.7,972.55 1859.65,976.87 1872.97,965.07 1836.02,960.75" fill="#0c0000" stroke="#0c0000"/><polygon points="1859.65,976.87 1896.6,981.2 1909.92,969.4 1872.97,965.07" fill="#080000" stroke="#080000"/><polygon points="1540.42,926.15 1577.38,930.47 1590.7,918.67 1553.75,914.35" fill="#0e0000" stroke="#0e0000"/><polygon points="1577.38,930.47 1614.33,934.8 1627.65,923 1590.7,918.67" fill="#0a0000" stroke="#0a0000"/><polygon points="1614.33,934.8 1651.27,939.12 1664.6,927.32 1627.65,923" fill="#0b0000" stroke="#0b0000"/><polygon points="1651.27,939.12 1688.22,943.45 1701.55,931.65 1664.6,927.32" fill="#0a0000" stroke="#0a0000"/><polygon points="1688.22,943.45 1725.17,947.77 1738.5,935.97 1701.55,931.65" fill="#0b0000" stroke="#0b0000"/><polygon points="1725.17,947.77 1762.12,952.1 1775.45,940.3 1738.5,935.97" fill="#0a0000" stroke="#0a0000"/><polygon points="1762.12,952.1 1799.08,956.42 1812.4,944.62 1775.45,940.3" fill="#090000" stroke="#090000"/><polygon points="1799.08,956.42 1836.02,960.75 1849.35,948.95 1812.4,944.62" fill="#0c0000" stroke="#0c0000"/><polygon points="1836.02,960.75 1872.97,965.07 1886.3,953.27 1849.35,948.95" fill="#090000" stroke="#090000"/><polygon points="1872.97,965.07 1909.92,969.4 1923.25,957.6 1886.3,953.27" fill="#0d0000" stroke="#0d0000"/></g></g>
<text y="0" font-family='"Liberation Serif", "DejaVu Serif", serif' font-size="27.5" fill="#fff" stroke="#fff" stroke-width="0.35" transform="translate(1548.5 942) rotate(5.8)"><tspan x="0" font-style="italic">f</tspan><tspan x="10.5" dy="3.5" font-size="80%">r</tspan><tspan> </tspan><tspan x="27.5" dy="-3.5" textLength="16.5" lengthAdjust="spacingAndGlyphs">=</tspan><tspan> </tspan><tspan x="53.5" textLength="39" lengthAdjust="spacingAndGlyphs">197</tspan><tspan> </tspan><tspan x="101" textLength="41.5" lengthAdjust="spacingAndGlyphs">kHz</tspan></text>
<text x="1431.3" y="1063.2" font-family='"Liberation Serif", "DejaVu Serif", serif' font-size="30.5" text-anchor="middle">1</text>
<text x="1587.5" y="1081.8" font-family='"Liberation Serif", "DejaVu Serif", serif' font-size="30.5" text-anchor="middle">5</text>
<text x="1768" y="1103.8" font-family='"Liberation Serif", "DejaVu Serif", serif' font-size="30.5" text-anchor="middle">10</text>
<text x="1813.3" y="1093.3" font-family='"Liberation Serif", "DejaVu Serif", serif' font-size="30.5" text-anchor="middle">1</text>
<text x="1860" y="1049.3" font-family='"Liberation Serif", "DejaVu Serif", serif' font-size="30.5" text-anchor="middle">5</text>
<text x="1931.3" y="987" font-family='"Liberation Serif", "DejaVu Serif", serif' font-size="30.5" text-anchor="middle">10</text>
<text x="1603.8" y="1116" font-family='"Liberation Serif", "DejaVu Serif", serif' font-size="40" text-anchor="middle" font-style="italic">x</text>
<text x="1895" y="1061" font-family='"Liberation Serif", "DejaVu Serif", serif' font-size="40" text-anchor="middle" font-style="italic">y</text>
<rect x="1917.5" y="830" width="14.3" height="105.5" fill="url(#hotcb)" stroke="#888" stroke-width="0.5"/>
<text x="1938.5" y="836.3" font-family='"Liberation Serif", "DejaVu Serif", serif' font-size="24">4</text>
<text x="1938.5" y="938.8" font-family='"Liberation Serif", "DejaVu Serif", serif' font-size="24">0</text>
<text y="889.5" font-family='"Liberation Serif", "DejaVu Serif", serif' font-size="34" text-anchor="middle" stroke="#000" stroke-width="0.4"><tspan x="1944" stroke-width="1.4">|</tspan><tspan x="1960.5" font-style="italic" font-weight="bold">V</tspan><tspan x="1977.3" stroke-width="1.4">|</tspan></text>
</g>
</svg>
</body></html>
